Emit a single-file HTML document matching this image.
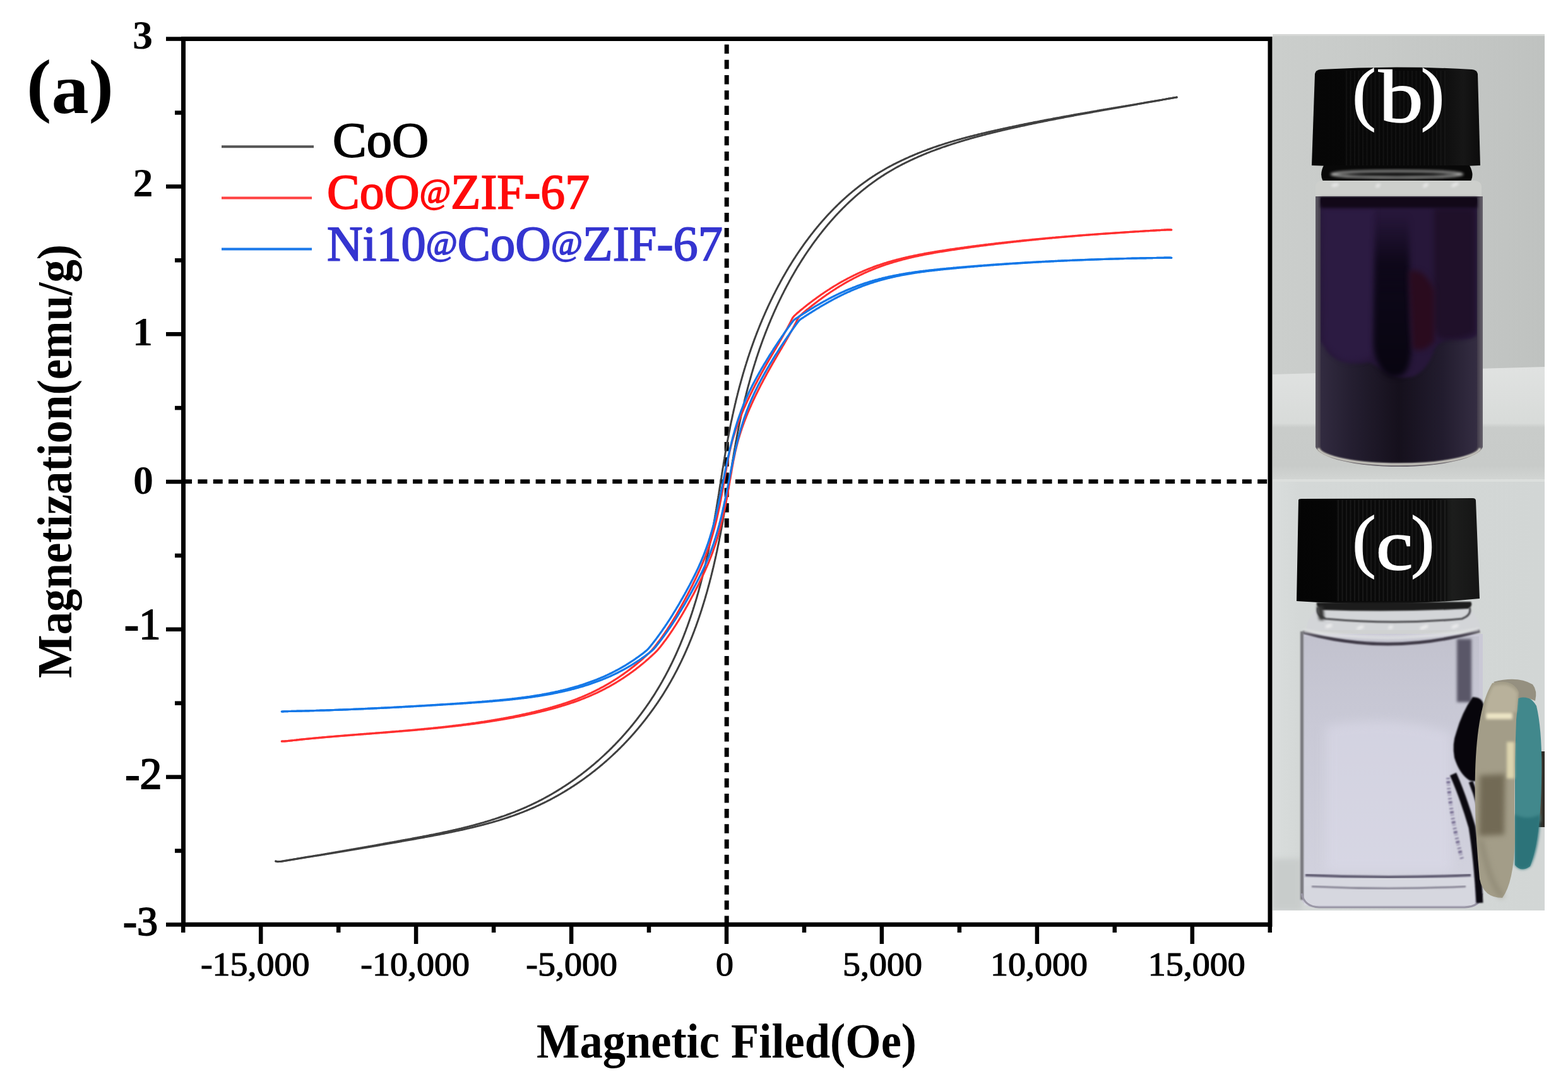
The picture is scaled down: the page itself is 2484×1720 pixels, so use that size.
<!DOCTYPE html>
<html><head><meta charset="utf-8"><title>Magnetization</title>
<style>html,body{margin:0;padding:0;background:#fff;}svg{display:block}</style></head>
<body><svg xmlns="http://www.w3.org/2000/svg" width="2484" height="1720" viewBox="0 0 2484 1720">
<rect width="2484" height="1720" fill="#fff"/>
<defs>
 <linearGradient id="bgB" x1="0" y1="0" x2="1" y2="0">
  <stop offset="0" stop-color="#cbcecc"/><stop offset="0.5" stop-color="#c6c9c7"/><stop offset="1" stop-color="#bfc2c0"/>
 </linearGradient>
 <linearGradient id="tableB" x1="0" y1="0" x2="0" y2="1">
  <stop offset="0" stop-color="#e0e2e1"/><stop offset="0.5" stop-color="#d8dbd9"/><stop offset="0.54" stop-color="#c9ccca"/><stop offset="0.88" stop-color="#c8cbc9"/><stop offset="1" stop-color="#d2d5d3"/>
 </linearGradient>
 <linearGradient id="capG" x1="0" y1="0" x2="1" y2="0">
  <stop offset="0" stop-color="#060606"/><stop offset="0.7" stop-color="#080808"/><stop offset="0.9" stop-color="#161616"/><stop offset="1" stop-color="#0c0c0c"/>
 </linearGradient>
 <linearGradient id="capC" x1="0" y1="0" x2="1" y2="0">
  <stop offset="0" stop-color="#040404"/><stop offset="0.75" stop-color="#0a0a0a"/><stop offset="0.85" stop-color="#1c1d1c"/><stop offset="1" stop-color="#151515"/>
 </linearGradient>
 <linearGradient id="colG" x1="0" y1="0" x2="0" y2="1">
  <stop offset="0" stop-color="#0a0514" stop-opacity="0"/><stop offset="0.3" stop-color="#0a0514" stop-opacity="0.85"/><stop offset="0.5" stop-color="#0c0717" stop-opacity="1"/><stop offset="1" stop-color="#080510" stop-opacity="1"/>
 </linearGradient>
 <linearGradient id="liqLow" x1="0" y1="0" x2="1" y2="0">
  <stop offset="0" stop-color="#322b40"/><stop offset="0.2" stop-color="#241e30"/><stop offset="0.5" stop-color="#15101c"/><stop offset="0.78" stop-color="#221c2e"/><stop offset="1" stop-color="#342d42"/>
 </linearGradient>
 <linearGradient id="liqB" x1="0" y1="0" x2="0" y2="1">
  <stop offset="0" stop-color="#2a1b3e"/><stop offset="0.5" stop-color="#2a1b3d"/><stop offset="0.62" stop-color="#302840"/><stop offset="1" stop-color="#322a3e"/>
 </linearGradient>
 <linearGradient id="glassB" x1="0" y1="0" x2="1" y2="0">
  <stop offset="0" stop-color="#5d5963"/><stop offset="0.04" stop-color="#3a3343"/><stop offset="0.96" stop-color="#3a3343"/><stop offset="1" stop-color="#66626b"/>
 </linearGradient>
 <linearGradient id="bgC" x1="0" y1="0" x2="1" y2="0">
  <stop offset="0" stop-color="#d9dddc"/><stop offset="0.1" stop-color="#d4d8d7"/><stop offset="1" stop-color="#d2d6d5"/>
 </linearGradient>
 <linearGradient id="liqC" x1="0" y1="0" x2="0" y2="1">
  <stop offset="0" stop-color="#c2c2ce"/><stop offset="0.35" stop-color="#c9c9d6"/><stop offset="1" stop-color="#d2d2de"/>
 </linearGradient>
 <linearGradient id="magG" x1="0" y1="0" x2="1" y2="0">
  <stop offset="0" stop-color="#8e8870"/><stop offset="0.25" stop-color="#a8a187"/><stop offset="0.55" stop-color="#b3ab8e"/><stop offset="0.8" stop-color="#8d866d"/><stop offset="1" stop-color="#6f6a58"/>
 </linearGradient>
 <linearGradient id="magH" x1="0" y1="0" x2="0" y2="1">
  <stop offset="0" stop-color="#9c9680"/><stop offset="0.15" stop-color="#cfc7a6"/><stop offset="0.3" stop-color="#aaa388"/><stop offset="0.7" stop-color="#9a937a"/><stop offset="1" stop-color="#857e68"/>
 </linearGradient>
 <pattern id="ribs" x="0" y="0" width="6.5" height="20" patternUnits="userSpaceOnUse">
  <rect width="6.5" height="20" fill="#0b0b0b"/><rect x="0" width="2" height="20" fill="#262626"/>
 </pattern>
 <filter id="bl1" x="-50%" y="-50%" width="200%" height="200%" color-interpolation-filters="sRGB"><feGaussianBlur stdDeviation="1"/></filter>
 <filter id="bl2" x="-50%" y="-50%" width="200%" height="200%" color-interpolation-filters="sRGB"><feGaussianBlur stdDeviation="2"/></filter>
 <filter id="bl4" x="-50%" y="-50%" width="200%" height="200%" color-interpolation-filters="sRGB"><feGaussianBlur stdDeviation="4"/></filter>
 <filter id="bl8" x="-50%" y="-50%" width="200%" height="200%" color-interpolation-filters="sRGB"><feGaussianBlur stdDeviation="8"/></filter>
 <clipPath id="clipB"><rect x="2016" y="54" width="431" height="705"/></clipPath>
 <clipPath id="clipC"><rect x="2016" y="759" width="431" height="683"/></clipPath>
 <clipPath id="liqBclip"><path d="M2092,313 L2340,313 L2340,706 A124,29 0 0 1 2092,706 Z"/></clipPath>
 <clipPath id="liqCclip"><path d="M2066,1008 L2343,1008 L2343,1400 L2066,1400 Z"/></clipPath>
</defs>

<!-- ===== photo (b) ===== -->
<g clip-path="url(#clipB)">
 <rect x="2016" y="54" width="431" height="705" fill="url(#bgB)"/>
 <rect x="2016" y="54" width="431" height="3" fill="#d6d8d6"/>
 <path d="M2016,593 L2447,581 L2447,759 L2016,759 Z" fill="url(#tableB)"/>
 <!-- cap -->
 <path d="M2083,117 Q2084,111 2092,110 Q2212,103 2332,110 Q2340,111 2341,117 L2345,262 Q2212,268 2078,262 Z" fill="url(#capG)"/>
 <rect x="2130" y="112" width="160" height="150" fill="url(#ribs)" opacity="0.35"/>
 <!-- neck -->
 <path d="M2097,262 L2328,262 Q2338,280 2326,292 L2100,292 Q2088,280 2097,262 Z" fill="#080808"/>
 <ellipse cx="2213" cy="276" rx="104" ry="5" fill="none" stroke="#b8b9b7" stroke-width="3" filter="url(#bl2)"/>
 <path d="M2084,296 Q2084,287 2094,286 L2336,286 Q2347,287 2347,296 L2347,313 L2084,313 Z" fill="#cdcfcc"/>
 <path d="M2110,294 L2120,292 M2180,296 L2186,292 M2255,296 L2262,291 M2300,295 L2310,290" stroke="#eeeeee" stroke-width="4" filter="url(#bl2)"/>
 <!-- vial body -->
 <path d="M2084,311 L2349,311 L2349,708 A133,34 0 0 1 2084,708 Z" fill="url(#glassB)"/>
 <g clip-path="url(#liqBclip)">
  <rect x="2092" y="313" width="248" height="420" fill="url(#liqLow)"/>
  <path d="M2092,313 L2340,313 L2340,530 Q2332,540 2300,537 Q2280,538 2272,555 Q2262,585 2240,596 Q2215,602 2195,590 Q2180,578 2170,574 Q2150,578 2125,572 Q2105,565 2098,548 L2092,540 Z" fill="#27173a" filter="url(#bl2)"/>
  <path d="M2094,330 L2178,330 L2176,560 Q2160,575 2130,572 Q2105,560 2096,540 Z" fill="#2c1b42" filter="url(#bl4)"/>
  <path d="M2272,330 L2336,330 L2336,528 Q2310,540 2280,536 L2272,520 Z" fill="#1f1029" filter="url(#bl4)"/>
  <path d="M2179,340 L2232,340 L2234,520 Q2240,580 2222,594 Q2205,602 2192,590 Q2176,570 2176,540 Z" fill="url(#colG)" filter="url(#bl4)"/>
  <path d="M2232,430 Q2255,422 2272,460 L2272,540 Q2256,560 2238,552 Z" fill="#2a0b1e" filter="url(#bl4)"/>
  <rect x="2092" y="311" width="248" height="12" fill="#0c0612" filter="url(#bl2)"/>
  <line x1="2119" y1="330" x2="2119" y2="480" stroke="#3c2e4c" stroke-width="6" filter="url(#bl4)"/>
  <line x1="2180" y1="320" x2="2180" y2="420" stroke="#4a3c58" stroke-width="2" filter="url(#bl2)"/>
  <line x1="2238.5" y1="318" x2="2238.5" y2="365" stroke="#4a3c58" stroke-width="2" filter="url(#bl2)"/>
 </g>
  <rect x="2092" y="313" width="248" height="16" fill="#120818" filter="url(#bl2)"/>
  <line x1="2180.5" y1="318" x2="2180.5" y2="430" stroke="#4a3c58" stroke-width="2" filter="url(#bl2)"/>
  <line x1="2238.5" y1="318" x2="2238.5" y2="365" stroke="#4a3c58" stroke-width="2" filter="url(#bl2)"/>
  <line x1="2122" y1="330" x2="2122" y2="520" stroke="#3a2e48" stroke-width="5" filter="url(#bl4)"/>
 </g>
 <path d="M2088,710 A129,28 0 0 0 2345,710" fill="none" stroke="#cfcec4" stroke-width="4" filter="url(#bl1)"/>
 <g font-family="Liberation Serif, serif" fill="#fff" stroke="#fff" stroke-width="1.6"><text x="2142.5" y="184.5" font-size="111">(</text><text transform="translate(2184,193.3) scale(1.19,1)" font-size="119">b</text><text x="2251" y="184.5" font-size="111">)</text></g>
</g>

<!-- ===== photo (c) ===== -->
<g clip-path="url(#clipC)">
 <rect x="2016" y="759" width="431" height="683" fill="url(#bgC)"/>
 <rect x="2016" y="759" width="431" height="4" fill="#dcdfdd"/>
 <path d="M2016,1360 L2062,1360 L2062,1442 L2016,1442 Z" fill="#c8cccb" filter="url(#bl4)"/>
 <!-- cap -->
 <path d="M2057,792 Q2057,790 2062,790 L2333,789 Q2338,789 2338,793 L2344,948 Q2200,962 2054,952 Z" fill="url(#capC)"/>
 <rect x="2117" y="792" width="176" height="160" fill="url(#ribs)" opacity="0.55"/>
 <!-- neck -->
 <path d="M2070,1004 Q2068,975 2092,962 L2318,960 Q2346,972 2345,1004 Z" fill="#d3d5d8"/>
 <path d="M2086,954 L2330,953 Q2334,959 2326,964 Q2210,970 2094,966 Q2084,960 2086,954 Z" fill="#1c1c1c" filter="url(#bl1)"/>
 <path d="M2088,962 Q2084,974 2100,980 Q2210,990 2316,980 Q2332,974 2328,962" fill="none" stroke="#4a4a4e" stroke-width="3" filter="url(#bl1)"/>
 <path d="M2100,993 L2110,990 M2150,996 L2160,992 M2200,995 L2206,992 M2250,996 L2262,991 M2300,994 L2310,990" stroke="#f4f4f4" stroke-width="4" filter="url(#bl2)"/>
 <path d="M2086,960 L2096,960 L2098,982 L2090,982 Z" fill="#333" filter="url(#bl2)"/>
 <!-- vial body -->
 <path d="M2060,1004 L2349,1004 L2349,1415 Q2349,1437 2325,1437 L2084,1437 Q2060,1437 2060,1415 Z" fill="#cac9d6"/>
 <rect x="2066" y="1008" width="277" height="395" fill="url(#liqC)"/>
 <path d="M2100,1150 Q2200,1130 2300,1160 L2300,1380 L2100,1380 Z" fill="#dcdbea" opacity="0.55" filter="url(#bl8)"/>
 <path d="M2064,1004 L2346,1004 L2346,998 L2064,998 Z" fill="#d0d2d2"/>
 <path d="M2064,1001 Q2200,1040 2344,999" fill="none" stroke="#3e3946" stroke-width="5" filter="url(#bl1)"/>
 <path d="M2064,999 Q2200,1022 2344,997" fill="none" stroke="#e4e6e6" stroke-width="4" filter="url(#bl2)"/>
 <rect x="2308" y="1012" width="23" height="100" fill="#5a5768" filter="url(#bl2)"/>
 <rect x="2060" y="1000" width="5" height="425" fill="#77777b" filter="url(#bl1)"/>
 <rect x="2066" y="1390" width="270" height="44" fill="#d8d9e0" opacity="0.85"/>
 <path d="M2068,1386 Q2200,1392 2330,1386" fill="none" stroke="#58546a" stroke-width="4" filter="url(#bl1)"/>
 <path d="M2078,1404 Q2200,1410 2322,1404" fill="none" stroke="#7a7788" stroke-width="2.5" filter="url(#bl1)"/>
 <path d="M2062,1415 Q2066,1436 2090,1437 L2320,1437 Q2346,1436 2348,1415" fill="none" stroke="#9a97a6" stroke-width="3"/>
 <!-- particles -->
 <path d="M2333,1104 Q2347,1104 2350,1115 L2350,1232 Q2340,1240 2328,1236 Q2312,1226 2304,1200 Q2300,1178 2307,1160 Q2316,1128 2333,1104 Z" fill="#07050b" filter="url(#bl1)"/>
 <path d="M2302,1226 Q2318,1262 2332,1310 Q2340,1360 2344,1430" fill="none" stroke="#0b0910" stroke-width="11" filter="url(#bl1)"/>
 <path d="M2330,1238 Q2343,1270 2348,1300" fill="none" stroke="#0b0910" stroke-width="7" filter="url(#bl1)"/>
 <path d="M2294,1232 Q2298,1295 2316,1360" fill="none" stroke="#5b4f7a" stroke-width="6" stroke-dasharray="2 3 4 2 1 4" opacity="0.75" filter="url(#bl1)"/>
 <!-- magnet -->
 <path d="M2418,1190 L2447,1190 L2447,1310 L2418,1310 Z" fill="#2e2c27"/>
 <path d="M2428,1198 L2428,1302 M2439,1198 L2439,1302" stroke="#8a8878" stroke-width="3" filter="url(#bl2)"/>
 <path d="M2400,1104 Q2422,1098 2434,1118 Q2444,1160 2442,1240 Q2440,1330 2424,1372 Q2410,1382 2400,1370 Z" fill="#41888c"/>
 <path d="M2400,1290 Q2420,1300 2440,1290 Q2438,1345 2424,1372 Q2410,1382 2400,1370 Z" fill="#2c7379" filter="url(#bl2)"/>
 <path d="M2366,1080 Q2404,1070 2428,1084 Q2436,1094 2432,1110 Q2412,1100 2402,1108 Z" fill="#959080"/>
 <path d="M2364,1082 Q2396,1074 2406,1096 Q2404,1120 2402,1140 Q2398,1250 2400,1330 Q2398,1398 2380,1422 Q2350,1422 2344,1392 Q2335,1300 2337,1222 Q2340,1120 2364,1082 Z" fill="#a39d88"/>
 <path d="M2366,1086 Q2394,1080 2404,1098 L2402,1128 L2352,1128 Q2356,1100 2366,1086 Z" fill="#b8b19b" filter="url(#bl2)"/>
 <path d="M2344,1228 L2384,1226 L2383,1322 L2343,1324 Z" fill="#726a55" filter="url(#bl4)"/>
 <rect x="2354" y="1129" width="42" height="10" fill="#ece4c4" filter="url(#bl2)"/>
 <rect x="2387" y="1175" width="12" height="58" fill="#dcd4ae" filter="url(#bl2)"/>
 <path d="M2346,1330 Q2360,1400 2380,1420" fill="none" stroke="#8d8773" stroke-width="6" filter="url(#bl4)"/>
 <g font-family="Liberation Serif, serif" fill="#fff" stroke="#fff" stroke-width="1.6"><text x="2142.5" y="892.5" font-size="111">(</text><text transform="translate(2179.7,902) scale(1.16,1)" font-size="114">c</text><text x="2235.2" y="892.5" font-size="111">)</text></g>
</g>

<line x1="290.5" y1="762.6" x2="2012.0" y2="762.6" stroke="#000" stroke-width="6.8" stroke-dasharray="15 9.33" stroke-dashoffset="1.43"/>
<line x1="1151.2" y1="61.5" x2="1151.2" y2="1464.3" stroke="#000" stroke-width="7" stroke-dasharray="14.5 9.71" stroke-dashoffset="-9.10"/>
<path d="M436.8,1364.0 L439.1,1364.6 L440.2,1364.7 L441.4,1364.6 L442.8,1364.5 L444.2,1364.4 L445.7,1364.2 L447.1,1364.0 L448.6,1363.7 L450.1,1363.5 L451.6,1363.2 L453.0,1363.0 L454.5,1362.7 L456.0,1362.5 L457.5,1362.2 L458.9,1362.0 L460.4,1361.8 L461.9,1361.5 L463.3,1361.3 L464.8,1361.0 L466.3,1360.8 L467.7,1360.5 L469.2,1360.3 L470.7,1360.0 L472.1,1359.8 L473.6,1359.6 L475.1,1359.3 L476.5,1359.1 L478.0,1358.8 L479.5,1358.6 L480.9,1358.3 L482.4,1358.1 L483.8,1357.8 L485.3,1357.6 L486.7,1357.3 L488.2,1357.1 L489.7,1356.9 L491.1,1356.6 L492.6,1356.4 L494.0,1356.1 L495.5,1355.9 L496.9,1355.6 L498.4,1355.4 L499.8,1355.1 L501.3,1354.9 L502.7,1354.7 L504.2,1354.4 L505.6,1354.2 L507.1,1353.9 L508.5,1353.7 L510.0,1353.4 L511.4,1353.2 L512.9,1352.9 L514.3,1352.7 L515.7,1352.4 L517.2,1352.2 L518.6,1351.9 L520.1,1351.7 L521.5,1351.5 L523.0,1351.2 L524.4,1351.0 L525.9,1350.7 L527.3,1350.5 L528.7,1350.2 L530.2,1350.0 L531.6,1349.7 L533.1,1349.5 L534.5,1349.2 L535.9,1349.0 L537.4,1348.7 L538.8,1348.5 L540.3,1348.2 L541.7,1348.0 L543.1,1347.7 L544.6,1347.5 L546.0,1347.2 L547.5,1347.0 L548.9,1346.7 L550.3,1346.5 L551.8,1346.2 L553.2,1346.0 L554.6,1345.7 L556.1,1345.5 L557.5,1345.2 L559.0,1345.0 L560.4,1344.7 L561.8,1344.5 L563.3,1344.2 L564.7,1344.0 L566.1,1343.7 L567.6,1343.5 L569.0,1343.2 L570.5,1343.0 L571.9,1342.7 L573.3,1342.5 L574.8,1342.2 L576.2,1342.0 L577.6,1341.7 L579.1,1341.5 L580.5,1341.2 L582.0,1341.0 L583.4,1340.7 L584.8,1340.4 L586.3,1340.2 L587.7,1339.9 L589.1,1339.7 L590.6,1339.4 L592.0,1339.2 L593.5,1338.9 L594.9,1338.7 L596.3,1338.4 L597.8,1338.1 L599.2,1337.9 L600.6,1337.6 L602.1,1337.4 L603.5,1337.1 L605.0,1336.9 L606.4,1336.6 L607.8,1336.3 L609.3,1336.1 L610.7,1335.8 L612.2,1335.6 L613.6,1335.3 L615.1,1335.0 L616.5,1334.8 L617.9,1334.5 L619.4,1334.2 L620.8,1334.0 L622.3,1333.7 L623.7,1333.5 L625.2,1333.2 L626.6,1332.9 L628.1,1332.7 L629.5,1332.4 L630.9,1332.1 L632.4,1331.9 L633.8,1331.6 L635.3,1331.3 L636.7,1331.1 L638.2,1330.8 L639.6,1330.5 L641.1,1330.3 L642.5,1330.0 L644.0,1329.7 L645.4,1329.5 L646.9,1329.2 L648.4,1328.9 L649.8,1328.7 L651.3,1328.4 L652.7,1328.1 L654.2,1327.8 L655.6,1327.6 L657.1,1327.3 L658.5,1327.0 L660.0,1326.8 L661.5,1326.5 L662.9,1326.2 L664.4,1325.9 L665.8,1325.6 L667.3,1325.4 L668.7,1325.1 L670.2,1324.8 L671.7,1324.5 L673.1,1324.2 L674.6,1324.0 L676.0,1323.7 L677.5,1323.4 L679.0,1323.1 L680.4,1322.8 L681.9,1322.5 L683.3,1322.2 L684.8,1321.9 L686.3,1321.7 L687.7,1321.4 L689.2,1321.1 L690.6,1320.8 L692.1,1320.5 L693.6,1320.2 L695.0,1319.9 L696.5,1319.6 L697.9,1319.3 L699.4,1319.0 L700.9,1318.6 L702.3,1318.3 L703.8,1318.0 L705.2,1317.7 L706.7,1317.4 L708.2,1317.1 L709.6,1316.8 L711.1,1316.4 L712.5,1316.1 L714.0,1315.8 L715.4,1315.5 L716.9,1315.1 L718.4,1314.8 L719.8,1314.5 L721.3,1314.2 L722.7,1313.8 L724.2,1313.5 L725.6,1313.1 L727.1,1312.8 L728.5,1312.4 L730.0,1312.1 L731.4,1311.7 L732.9,1311.4 L734.3,1311.0 L735.8,1310.7 L737.2,1310.3 L738.7,1310.0 L740.1,1309.6 L741.5,1309.2 L743.0,1308.9 L744.4,1308.5 L745.9,1308.1 L747.3,1307.7 L748.8,1307.4 L750.2,1307.0 L751.6,1306.6 L753.1,1306.2 L754.5,1305.8 L755.9,1305.4 L757.4,1305.0 L758.8,1304.6 L760.2,1304.2 L761.7,1303.8 L763.1,1303.4 L764.5,1303.0 L765.9,1302.6 L767.4,1302.1 L768.8,1301.7 L770.2,1301.3 L771.6,1300.9 L773.1,1300.4 L774.5,1300.0 L775.9,1299.6 L777.3,1299.1 L778.7,1298.7 L780.1,1298.2 L781.6,1297.8 L783.0,1297.3 L784.4,1296.9 L785.9,1296.4 L787.3,1295.9 L788.7,1295.5 L790.2,1295.0 L791.6,1294.5 L793.0,1294.0 L794.5,1293.5 L795.9,1293.0 L797.3,1292.6 L798.7,1292.1 L800.1,1291.6 L801.6,1291.1 L803.0,1290.5 L804.4,1290.0 L805.8,1289.5 L807.2,1289.0 L808.6,1288.5 L810.0,1287.9 L811.4,1287.4 L812.8,1286.9 L814.2,1286.3 L815.6,1285.8 L817.0,1285.2 L818.4,1284.7 L819.8,1284.1 L821.2,1283.5 L822.6,1283.0 L823.9,1282.4 L825.3,1281.8 L826.7,1281.2 L828.1,1280.7 L829.4,1280.1 L830.8,1279.5 L832.2,1278.9 L833.6,1278.3 L834.9,1277.7 L836.3,1277.0 L837.6,1276.4 L839.0,1275.8 L840.4,1275.2 L841.7,1274.5 L843.1,1273.9 L844.4,1273.2 L845.8,1272.6 L847.1,1271.9 L848.4,1271.3 L849.8,1270.6 L851.1,1270.0 L852.5,1269.3 L853.8,1268.6 L855.1,1267.9 L856.4,1267.3 L857.8,1266.6 L859.1,1265.9 L860.4,1265.2 L861.7,1264.5 L863.0,1263.8 L864.3,1263.1 L865.7,1262.3 L867.0,1261.6 L868.3,1260.9 L869.6,1260.2 L870.9,1259.4 L872.2,1258.7 L873.5,1258.0 L874.7,1257.2 L876.0,1256.5 L877.3,1255.7 L878.6,1254.9 L879.9,1254.2 L881.2,1253.4 L882.4,1252.6 L883.7,1251.9 L885.0,1251.1 L886.2,1250.3 L887.5,1249.5 L888.8,1248.7 L890.0,1247.9 L891.3,1247.1 L892.5,1246.3 L893.8,1245.5 L895.0,1244.7 L896.3,1243.9 L897.5,1243.1 L898.8,1242.2 L900.0,1241.4 L901.2,1240.6 L902.5,1239.7 L903.7,1238.9 L904.9,1238.0 L906.2,1237.2 L907.4,1236.3 L908.6,1235.5 L909.8,1234.6 L911.0,1233.7 L912.2,1232.9 L913.4,1232.0 L914.6,1231.1 L915.8,1230.2 L917.0,1229.3 L918.2,1228.5 L919.4,1227.6 L920.6,1226.7 L921.8,1225.8 L923.0,1224.9 L924.2,1223.9 L925.3,1223.0 L926.5,1222.1 L927.7,1221.2 L928.9,1220.3 L930.0,1219.3 L931.2,1218.4 L932.4,1217.5 L933.5,1216.5 L934.7,1215.6 L935.8,1214.6 L937.0,1213.7 L938.1,1212.7 L939.3,1211.8 L940.4,1210.8 L941.5,1209.9 L942.7,1208.9 L943.8,1207.9 L944.9,1206.9 L946.0,1206.0 L947.2,1205.0 L948.3,1204.0 L949.4,1203.0 L950.5,1202.0 L951.6,1201.0 L952.7,1200.0 L953.8,1199.0 L954.9,1198.0 L956.0,1197.0 L957.1,1196.0 L958.2,1194.9 L959.3,1193.9 L960.4,1192.9 L961.4,1191.9 L962.5,1190.8 L963.6,1189.8 L964.7,1188.8 L965.7,1187.7 L966.8,1186.7 L967.9,1185.6 L968.9,1184.6 L970.0,1183.5 L971.0,1182.4 L972.1,1181.4 L973.1,1180.3 L974.2,1179.3 L975.2,1178.2 L976.2,1177.1 L977.3,1176.0 L978.3,1174.9 L979.3,1173.9 L980.3,1172.8 L981.4,1171.7 L982.4,1170.6 L983.4,1169.5 L984.4,1168.4 L985.4,1167.3 L986.4,1166.2 L987.4,1165.1 L988.4,1163.9 L989.4,1162.8 L990.4,1161.7 L991.4,1160.6 L992.3,1159.5 L993.3,1158.3 L994.3,1157.2 L995.3,1156.1 L996.2,1154.9 L997.2,1153.8 L998.2,1152.6 L999.1,1151.5 L1000.1,1150.3 L1001.0,1149.2 L1002.0,1148.0 L1002.9,1146.9 L1003.8,1145.7 L1004.8,1144.6 L1005.7,1143.4 L1006.6,1142.2 L1007.6,1141.0 L1008.5,1139.9 L1009.4,1138.7 L1010.3,1137.5 L1011.2,1136.3 L1012.1,1135.1 L1013.0,1133.9 L1013.9,1132.8 L1014.8,1131.6 L1015.7,1130.4 L1016.6,1129.2 L1017.5,1128.0 L1018.4,1126.7 L1019.3,1125.5 L1020.1,1124.3 L1021.0,1123.1 L1021.9,1121.9 L1022.8,1120.7 L1023.6,1119.5 L1024.5,1118.2 L1025.3,1117.0 L1026.2,1115.8 L1027.0,1114.5 L1027.9,1113.3 L1028.7,1112.1 L1029.5,1110.8 L1030.4,1109.6 L1031.2,1108.3 L1032.0,1107.1 L1032.8,1105.8 L1033.6,1104.6 L1034.5,1103.3 L1035.3,1102.1 L1036.1,1100.8 L1036.9,1099.6 L1037.7,1098.3 L1038.5,1097.0 L1039.2,1095.8 L1040.0,1094.5 L1040.8,1093.2 L1041.6,1091.9 L1042.4,1090.7 L1043.1,1089.4 L1043.9,1088.1 L1044.7,1086.8 L1045.4,1085.5 L1046.2,1084.2 L1046.9,1082.9 L1047.7,1081.6 L1048.4,1080.4 L1049.1,1079.1 L1049.9,1077.8 L1050.6,1076.4 L1051.3,1075.1 L1052.1,1073.8 L1052.8,1072.5 L1053.5,1071.2 L1054.2,1069.9 L1054.9,1068.6 L1055.6,1067.3 L1056.3,1065.9 L1057.0,1064.6 L1057.7,1063.3 L1058.4,1062.0 L1059.1,1060.6 L1059.8,1059.3 L1060.4,1058.0 L1061.1,1056.6 L1061.8,1055.3 L1062.4,1054.0 L1063.1,1052.6 L1063.8,1051.3 L1064.4,1049.9 L1065.1,1048.6 L1065.7,1047.2 L1066.4,1045.9 L1067.0,1044.5 L1067.6,1043.2 L1068.3,1041.8 L1068.9,1040.5 L1069.5,1039.1 L1070.2,1037.8 L1070.8,1036.4 L1071.4,1035.0 L1072.0,1033.7 L1072.6,1032.3 L1073.2,1030.9 L1073.8,1029.6 L1074.4,1028.2 L1075.0,1026.8 L1075.6,1025.4 L1076.2,1024.1 L1076.8,1022.7 L1077.4,1021.3 L1078.0,1019.9 L1078.5,1018.5 L1079.1,1017.1 L1079.7,1015.7 L1080.2,1014.4 L1080.8,1013.0 L1081.4,1011.6 L1081.9,1010.2 L1082.5,1008.8 L1083.0,1007.4 L1083.6,1006.0 L1084.1,1004.6 L1084.7,1003.2 L1085.2,1001.8 L1085.7,1000.4 L1086.3,999.0 L1086.8,997.6 L1087.3,996.1 L1087.8,994.7 L1088.4,993.3 L1088.9,991.9 L1089.4,990.5 L1089.9,989.1 L1090.4,987.7 L1090.9,986.2 L1091.4,984.8 L1091.9,983.4 L1092.4,982.0 L1092.9,980.5 L1093.4,979.1 L1093.9,977.7 L1094.4,976.3 L1094.8,974.8 L1095.3,973.4 L1095.8,972.0 L1096.3,970.5 L1096.7,969.1 L1097.2,967.7 L1097.7,966.2 L1098.1,964.8 L1098.6,963.3 L1099.0,961.9 L1099.5,960.5 L1099.9,959.0 L1100.4,957.6 L1100.8,956.1 L1101.3,954.7 L1101.7,953.2 L1102.2,951.8 L1102.6,950.3 L1103.0,948.9 L1103.5,947.4 L1103.9,946.0 L1104.3,944.5 L1104.7,943.1 L1105.1,941.6 L1105.6,940.2 L1106.0,938.7 L1106.4,937.3 L1106.8,935.8 L1107.2,934.3 L1107.6,932.9 L1108.0,931.4 L1108.4,930.0 L1108.8,928.5 L1109.2,927.0 L1109.6,925.6 L1110.0,924.1 L1110.4,922.6 L1110.8,921.2 L1111.1,919.7 L1111.5,918.2 L1111.9,916.8 L1112.3,915.3 L1112.7,913.8 L1113.0,912.3 L1113.4,910.9 L1113.8,909.4 L1114.1,907.9 L1114.5,906.4 L1114.9,905.0 L1115.2,903.5 L1115.6,902.0 L1115.9,900.5 L1116.3,899.1 L1116.6,897.6 L1117.0,896.1 L1117.3,894.6 L1117.7,893.2 L1118.0,891.7 L1118.3,890.2 L1118.7,888.7 L1119.0,887.2 L1119.4,885.7 L1119.7,884.3 L1120.0,882.8 L1120.3,881.3 L1120.7,879.8 L1121.0,878.3 L1121.3,876.8 L1121.6,875.4 L1122.0,873.9 L1122.3,872.4 L1122.6,870.9 L1122.9,869.4 L1123.2,867.9 L1123.5,866.4 L1123.8,865.0 L1124.1,863.5 L1124.5,862.0 L1124.8,860.5 L1125.1,859.0 L1125.4,857.5 L1125.7,856.0 L1125.9,854.5 L1126.2,853.0 L1126.5,851.5 L1126.8,850.1 L1127.1,848.6 L1127.4,847.1 L1127.7,845.6 L1128.0,844.1 L1128.3,842.6 L1128.5,841.1 L1128.8,839.6 L1129.1,838.1 L1129.4,836.6 L1129.6,835.2 L1129.9,833.7 L1130.2,832.2 L1130.5,830.7 L1130.7,829.2 L1131.0,827.7 L1131.3,826.2 L1131.5,824.7 L1131.8,823.2 L1132.1,821.7 L1132.3,820.2 L1132.6,818.8 L1132.8,817.3 L1133.1,815.8 L1133.4,814.3 L1133.6,812.8 L1133.9,811.3 L1134.1,809.8 L1134.4,808.3 L1134.6,806.8 L1134.9,805.3 L1135.1,803.8 L1135.4,802.4 L1135.6,800.9 L1135.9,799.4 L1136.1,797.9 L1136.4,796.4 L1136.6,794.9 L1136.8,793.4 L1137.1,791.9 L1137.3,790.4 L1137.6,789.0 L1137.8,787.5 L1138.0,786.0 L1138.3,784.5 L1138.5,783.0 L1138.8,781.5 L1139.0,780.0 L1139.2,778.5 L1139.5,777.1 L1139.7,775.6 L1139.9,774.1 L1140.2,772.6 L1140.4,771.1 L1140.6,769.6 L1140.9,768.1 L1141.1,766.7 L1141.4,765.2 L1141.6,763.7 L1141.8,762.2 L1142.1,760.7 L1142.3,759.2 L1142.5,757.8 L1142.8,756.3 L1143.0,754.8 L1143.2,753.3 L1143.5,751.8 L1143.7,750.3 L1143.9,748.9 L1144.2,747.4 L1144.4,745.9 L1144.7,744.4 L1144.9,742.9 L1145.1,741.5 L1145.4,740.0 L1145.6,738.5 L1145.9,737.0 L1146.1,735.5 L1146.3,734.1 L1146.6,732.6 L1146.8,731.1 L1147.1,729.6 L1147.3,728.1 L1147.6,726.7 L1147.8,725.2 L1148.0,723.7 L1148.3,722.2 L1148.5,720.8 L1148.8,719.3 L1149.0,717.8 L1149.3,716.3 L1149.6,714.9 L1149.8,713.4 L1150.1,711.9 L1150.3,710.4 L1150.6,709.0 L1150.8,707.5 L1151.1,706.0 L1151.4,704.5 L1151.6,703.1 L1151.9,701.6 L1152.2,700.1 L1152.4,698.7 L1152.7,697.2 L1153.0,695.7 L1153.2,694.3 L1153.5,692.8 L1153.8,691.3 L1154.1,689.9 L1154.4,688.4 L1154.6,686.9 L1154.9,685.5 L1155.2,684.0 L1155.5,682.5 L1155.8,681.1 L1156.1,679.6 L1156.4,678.1 L1156.6,676.7 L1156.9,675.2 L1157.2,673.7 L1157.5,672.3 L1157.8,670.8 L1158.1,669.4 L1158.4,667.9 L1158.7,666.4 L1159.1,665.0 L1159.4,663.5 L1159.7,662.1 L1160.0,660.6 L1160.3,659.1 L1160.6,657.7 L1160.9,656.2 L1161.3,654.8 L1161.6,653.3 L1161.9,651.9 L1162.2,650.4 L1162.6,649.0 L1162.9,647.5 L1163.2,646.0 L1163.6,644.6 L1163.9,643.1 L1164.2,641.7 L1164.6,640.2 L1164.9,638.8 L1165.3,637.3 L1165.6,635.9 L1165.9,634.4 L1166.3,633.0 L1166.6,631.6 L1167.0,630.1 L1167.4,628.7 L1167.7,627.2 L1168.1,625.8 L1168.4,624.3 L1168.8,622.9 L1169.2,621.4 L1169.5,620.0 L1169.9,618.6 L1170.3,617.1 L1170.7,615.7 L1171.0,614.2 L1171.4,612.8 L1171.8,611.4 L1172.2,609.9 L1172.6,608.5 L1173.0,607.1 L1173.4,605.6 L1173.8,604.2 L1174.2,602.7 L1174.6,601.3 L1175.0,599.9 L1175.4,598.4 L1175.8,597.0 L1176.2,595.6 L1176.6,594.2 L1177.0,592.7 L1177.4,591.3 L1177.8,589.9 L1178.3,588.4 L1178.7,587.0 L1179.1,585.6 L1179.5,584.2 L1180.0,582.7 L1180.4,581.3 L1180.8,579.9 L1181.3,578.5 L1181.7,577.1 L1182.2,575.6 L1182.6,574.2 L1183.1,572.8 L1183.5,571.4 L1184.0,570.0 L1184.4,568.5 L1184.9,567.1 L1185.3,565.7 L1185.8,564.3 L1186.3,562.9 L1186.7,561.5 L1187.2,560.1 L1187.7,558.6 L1188.2,557.2 L1188.7,555.8 L1189.1,554.4 L1189.6,553.0 L1190.1,551.6 L1190.6,550.2 L1191.1,548.8 L1191.6,547.4 L1192.1,546.0 L1192.6,544.6 L1193.1,543.2 L1193.6,541.8 L1194.1,540.4 L1194.6,539.0 L1195.1,537.6 L1195.7,536.2 L1196.2,534.8 L1196.7,533.4 L1197.2,532.0 L1197.8,530.6 L1198.3,529.2 L1198.8,527.8 L1199.4,526.4 L1199.9,525.0 L1200.5,523.6 L1201.0,522.2 L1201.6,520.8 L1202.1,519.5 L1202.7,518.1 L1203.2,516.7 L1203.8,515.3 L1204.4,513.9 L1204.9,512.5 L1205.5,511.2 L1206.1,509.8 L1206.7,508.4 L1207.2,507.0 L1207.8,505.6 L1208.4,504.3 L1209.0,502.9 L1209.6,501.5 L1210.2,500.1 L1210.8,498.8 L1211.4,497.4 L1212.0,496.0 L1212.6,494.6 L1213.2,493.3 L1213.8,491.9 L1214.4,490.5 L1215.1,489.2 L1215.7,487.8 L1216.3,486.4 L1216.9,485.1 L1217.6,483.7 L1218.2,482.4 L1218.8,481.0 L1219.5,479.6 L1220.1,478.3 L1220.8,476.9 L1221.4,475.6 L1222.1,474.2 L1222.8,472.9 L1223.4,471.5 L1224.1,470.1 L1224.7,468.8 L1225.4,467.4 L1226.1,466.1 L1226.8,464.8 L1227.5,463.4 L1228.1,462.1 L1228.8,460.7 L1229.5,459.4 L1230.2,458.0 L1230.9,456.7 L1231.6,455.4 L1232.3,454.0 L1233.0,452.7 L1233.7,451.4 L1234.5,450.0 L1235.2,448.7 L1235.9,447.4 L1236.6,446.0 L1237.3,444.7 L1238.1,443.4 L1238.8,442.1 L1239.5,440.7 L1240.3,439.4 L1241.0,438.1 L1241.8,436.8 L1242.5,435.5 L1243.3,434.2 L1244.0,432.9 L1244.8,431.5 L1245.6,430.2 L1246.3,428.9 L1247.1,427.6 L1247.9,426.3 L1248.6,425.0 L1249.4,423.7 L1250.2,422.4 L1251.0,421.2 L1251.8,419.9 L1252.6,418.6 L1253.4,417.3 L1254.2,416.0 L1255.0,414.7 L1255.8,413.4 L1256.6,412.2 L1257.4,410.9 L1258.2,409.6 L1259.1,408.3 L1259.9,407.1 L1260.7,405.8 L1261.5,404.5 L1262.4,403.3 L1263.2,402.0 L1264.0,400.8 L1264.9,399.5 L1265.7,398.3 L1266.6,397.0 L1267.4,395.8 L1268.3,394.5 L1269.2,393.3 L1270.0,392.1 L1270.9,390.8 L1271.8,389.6 L1272.6,388.4 L1273.5,387.1 L1274.4,385.9 L1275.3,384.7 L1276.2,383.5 L1277.1,382.2 L1278.0,381.0 L1278.9,379.8 L1279.8,378.6 L1280.7,377.4 L1281.6,376.2 L1282.5,375.0 L1283.4,373.8 L1284.3,372.6 L1285.2,371.4 L1286.2,370.2 L1287.1,369.1 L1288.0,367.9 L1289.0,366.7 L1289.9,365.5 L1290.8,364.3 L1291.8,363.2 L1292.7,362.0 L1293.7,360.9 L1294.6,359.7 L1295.6,358.5 L1296.6,357.4 L1297.5,356.2 L1298.5,355.1 L1299.5,354.0 L1300.4,352.8 L1301.4,351.7 L1302.4,350.6 L1303.4,349.4 L1304.4,348.3 L1305.4,347.2 L1306.4,346.1 L1307.4,344.9 L1308.4,343.8 L1309.4,342.7 L1310.4,341.6 L1311.4,340.5 L1312.4,339.4 L1313.5,338.3 L1314.5,337.3 L1315.5,336.2 L1316.5,335.1 L1317.6,334.0 L1318.6,332.9 L1319.7,331.9 L1320.7,330.8 L1321.7,329.8 L1322.8,328.7 L1323.9,327.6 L1324.9,326.6 L1326.0,325.6 L1327.0,324.5 L1328.1,323.5 L1329.2,322.4 L1330.3,321.4 L1331.3,320.4 L1332.4,319.4 L1333.5,318.4 L1334.6,317.3 L1335.7,316.3 L1336.8,315.3 L1337.9,314.3 L1339.0,313.3 L1340.1,312.4 L1341.2,311.4 L1342.3,310.4 L1343.5,309.4 L1344.6,308.4 L1345.7,307.5 L1346.8,306.5 L1348.0,305.6 L1349.1,304.6 L1350.3,303.6 L1351.4,302.7 L1352.5,301.8 L1353.7,300.8 L1354.8,299.9 L1356.0,299.0 L1357.2,298.1 L1358.3,297.1 L1359.5,296.2 L1360.7,295.3 L1361.8,294.4 L1363.0,293.5 L1364.2,292.6 L1365.4,291.7 L1366.6,290.9 L1367.8,290.0 L1369.0,289.1 L1370.2,288.2 L1371.4,287.4 L1372.6,286.5 L1373.8,285.7 L1375.0,284.8 L1376.2,284.0 L1377.5,283.1 L1378.7,282.3 L1379.9,281.5 L1381.1,280.7 L1382.4,279.8 L1383.6,279.0 L1384.9,278.2 L1386.1,277.4 L1387.4,276.6 L1388.6,275.8 L1389.9,275.1 L1391.1,274.3 L1392.4,273.5 L1393.7,272.7 L1394.9,272.0 L1396.2,271.2 L1397.5,270.5 L1398.8,269.7 L1400.1,269.0 L1401.4,268.2 L1402.6,267.5 L1403.9,266.8 L1405.2,266.0 L1406.5,265.3 L1407.8,264.6 L1409.1,263.9 L1410.5,263.2 L1411.8,262.5 L1413.1,261.8 L1414.4,261.1 L1415.7,260.4 L1417.1,259.7 L1418.4,259.1 L1419.7,258.4 L1421.0,257.7 L1422.4,257.1 L1423.7,256.4 L1425.1,255.8 L1426.4,255.1 L1427.8,254.5 L1429.1,253.8 L1430.5,253.2 L1431.8,252.6 L1433.2,251.9 L1434.5,251.3 L1435.9,250.7 L1437.3,250.1 L1438.6,249.5 L1440.0,248.8 L1441.4,248.2 L1442.8,247.6 L1444.1,247.1 L1445.5,246.5 L1446.9,245.9 L1448.3,245.3 L1449.7,244.7 L1451.1,244.1 L1452.4,243.6 L1453.8,243.0 L1455.2,242.4 L1456.6,241.9 L1458.0,241.3 L1459.4,240.8 L1460.8,240.2 L1462.3,239.7 L1463.7,239.1 L1465.1,238.6 L1466.5,238.1 L1467.9,237.6 L1469.3,237.0 L1470.7,236.5 L1472.2,236.0 L1473.6,235.5 L1475.0,235.0 L1476.4,234.5 L1477.8,233.9 L1479.3,233.4 L1480.7,232.9 L1482.1,232.5 L1483.6,232.0 L1485.0,231.5 L1486.4,231.0 L1487.9,230.5 L1489.3,230.0 L1490.8,229.6 L1492.2,229.1 L1493.7,228.6 L1495.1,228.1 L1496.5,227.7 L1498.0,227.2 L1499.4,226.8 L1500.9,226.3 L1502.3,225.9 L1503.8,225.4 L1505.3,225.0 L1506.7,224.5 L1508.2,224.1 L1509.6,223.6 L1511.1,223.2 L1512.6,222.8 L1514.1,222.4 L1515.6,221.9 L1517.1,221.5 L1518.6,221.1 L1520.1,220.7 L1521.6,220.3 L1523.1,219.8 L1524.6,219.4 L1526.1,219.0 L1527.6,218.6 L1529.1,218.2 L1530.6,217.8 L1532.1,217.4 L1533.6,217.0 L1535.1,216.6 L1536.6,216.2 L1538.1,215.8 L1539.6,215.5 L1541.1,215.1 L1542.6,214.7 L1544.1,214.3 L1545.6,213.9 L1547.1,213.6 L1548.6,213.2 L1550.1,212.8 L1551.6,212.4 L1553.1,212.1 L1554.6,211.7 L1556.1,211.3 L1557.6,211.0 L1559.2,210.6 L1560.7,210.3 L1562.2,209.9 L1563.7,209.5 L1565.2,209.2 L1566.7,208.8 L1568.2,208.5 L1569.7,208.1 L1571.2,207.8 L1572.7,207.5 L1574.2,207.1 L1575.8,206.8 L1577.3,206.4 L1578.8,206.1 L1580.3,205.8 L1581.8,205.4 L1583.3,205.1 L1584.8,204.8 L1586.3,204.4 L1587.8,204.1 L1589.3,203.8 L1590.8,203.4 L1592.3,203.1 L1593.8,202.8 L1595.3,202.5 L1596.8,202.1 L1598.4,201.8 L1599.9,201.5 L1601.4,201.2 L1602.9,200.9 L1604.4,200.5 L1605.9,200.2 L1607.4,199.9 L1608.9,199.6 L1610.4,199.3 L1611.9,199.0 L1613.4,198.7 L1614.9,198.3 L1616.4,198.0 L1617.9,197.7 L1619.4,197.4 L1620.9,197.1 L1622.4,196.8 L1623.9,196.5 L1625.4,196.2 L1626.9,195.9 L1628.3,195.6 L1629.8,195.3 L1631.3,195.0 L1632.8,194.7 L1634.3,194.4 L1635.8,194.1 L1637.3,193.8 L1638.8,193.5 L1640.3,193.2 L1641.8,192.9 L1643.3,192.7 L1644.8,192.4 L1646.3,192.1 L1647.8,191.8 L1649.3,191.5 L1650.8,191.2 L1652.3,190.9 L1653.7,190.6 L1655.2,190.3 L1656.7,190.1 L1658.2,189.8 L1659.7,189.5 L1661.2,189.2 L1662.7,188.9 L1664.2,188.7 L1665.7,188.4 L1667.2,188.1 L1668.7,187.8 L1670.1,187.5 L1671.6,187.3 L1673.1,187.0 L1674.6,186.7 L1676.1,186.4 L1677.6,186.2 L1679.1,185.9 L1680.6,185.6 L1682.1,185.3 L1683.6,185.1 L1685.1,184.8 L1686.5,184.5 L1688.0,184.3 L1689.5,184.0 L1691.0,183.7 L1692.5,183.5 L1694.0,183.2 L1695.5,182.9 L1697.0,182.6 L1698.5,182.4 L1700.0,182.1 L1701.4,181.8 L1702.9,181.6 L1704.4,181.3 L1705.9,181.1 L1707.4,180.8 L1708.9,180.5 L1710.4,180.3 L1711.9,180.0 L1713.4,179.7 L1714.9,179.5 L1716.4,179.2 L1717.8,179.0 L1719.3,178.7 L1720.8,178.4 L1722.3,178.2 L1723.8,177.9 L1725.3,177.7 L1726.8,177.4 L1728.3,177.1 L1729.8,176.9 L1731.3,176.6 L1732.8,176.4 L1734.3,176.1 L1735.8,175.9 L1737.3,175.6 L1738.7,175.3 L1740.2,175.1 L1741.7,174.8 L1743.2,174.6 L1744.7,174.3 L1746.2,174.1 L1747.7,173.8 L1749.2,173.5 L1750.7,173.3 L1752.2,173.0 L1753.7,172.8 L1755.2,172.5 L1756.7,172.3 L1758.2,172.0 L1759.7,171.8 L1761.2,171.5 L1762.7,171.3 L1764.2,171.0 L1765.7,170.7 L1767.2,170.5 L1768.7,170.2 L1770.2,170.0 L1771.7,169.7 L1773.2,169.5 L1774.7,169.2 L1776.2,169.0 L1777.7,168.7 L1779.2,168.5 L1780.7,168.2 L1782.2,168.0 L1783.8,167.7 L1785.3,167.4 L1786.8,167.2 L1788.3,166.9 L1789.8,166.7 L1791.3,166.4 L1792.8,166.2 L1794.3,165.9 L1795.8,165.7 L1797.3,165.4 L1798.8,165.2 L1800.4,164.9 L1801.9,164.6 L1803.4,164.4 L1804.9,164.1 L1806.4,163.9 L1807.9,163.6 L1809.4,163.4 L1811.0,163.1 L1812.5,162.8 L1814.0,162.6 L1815.5,162.3 L1817.0,162.1 L1818.6,161.8 L1820.1,161.6 L1821.6,161.3 L1823.1,161.0 L1824.6,160.8 L1826.2,160.5 L1827.7,160.3 L1829.2,160.0 L1830.7,159.7 L1832.3,159.5 L1833.8,159.2 L1835.3,159.0 L1836.8,158.7 L1838.4,158.4 L1839.9,158.2 L1841.4,157.9 L1843.0,157.6 L1844.5,157.4 L1846.0,157.1 L1847.6,156.8 L1849.1,156.6 L1850.6,156.3 L1852.2,156.0 L1853.7,155.8 L1855.2,155.5 L1856.8,155.3 L1858.2,155.0 L1859.6,154.8 L1860.9,154.6 L1862.0,154.4 L1864.2,154.1" fill="none" stroke="#404040" stroke-width="3.0" stroke-linejoin="round" stroke-linecap="round"/>
<path d="M436.8,1364.0 L439.2,1364.6 L440.3,1364.7 L441.6,1364.6 L443.0,1364.5 L444.5,1364.4 L446.0,1364.2 L447.6,1364.0 L449.1,1363.7 L450.6,1363.5 L452.2,1363.2 L453.7,1363.0 L455.2,1362.7 L456.8,1362.5 L458.3,1362.2 L459.8,1362.0 L461.3,1361.8 L462.9,1361.5 L464.4,1361.3 L465.9,1361.0 L467.5,1360.8 L469.0,1360.5 L470.5,1360.3 L472.0,1360.0 L473.5,1359.8 L475.1,1359.6 L476.6,1359.3 L478.1,1359.1 L479.6,1358.8 L481.1,1358.6 L482.7,1358.3 L484.2,1358.1 L485.7,1357.8 L487.2,1357.6 L488.7,1357.3 L490.2,1357.1 L491.7,1356.9 L493.3,1356.6 L494.8,1356.4 L496.3,1356.1 L497.8,1355.9 L499.3,1355.6 L500.8,1355.4 L502.3,1355.1 L503.8,1354.9 L505.3,1354.7 L506.8,1354.4 L508.3,1354.2 L509.9,1353.9 L511.4,1353.7 L512.9,1353.4 L514.4,1353.2 L515.9,1352.9 L517.4,1352.7 L518.9,1352.4 L520.4,1352.2 L521.9,1351.9 L523.4,1351.7 L524.9,1351.5 L526.4,1351.2 L527.9,1351.0 L529.4,1350.7 L530.9,1350.5 L532.4,1350.2 L533.9,1350.0 L535.4,1349.7 L536.9,1349.5 L538.4,1349.2 L539.9,1349.0 L541.4,1348.7 L542.9,1348.5 L544.4,1348.2 L545.9,1348.0 L547.4,1347.7 L548.9,1347.5 L550.3,1347.2 L551.8,1347.0 L553.3,1346.7 L554.8,1346.5 L556.3,1346.2 L557.8,1346.0 L559.3,1345.7 L560.8,1345.5 L562.3,1345.2 L563.8,1345.0 L565.3,1344.7 L566.8,1344.5 L568.3,1344.2 L569.8,1344.0 L571.3,1343.7 L572.8,1343.5 L574.3,1343.2 L575.8,1343.0 L577.2,1342.7 L578.7,1342.5 L580.2,1342.2 L581.7,1342.0 L583.2,1341.7 L584.7,1341.5 L586.2,1341.2 L587.7,1341.0 L589.2,1340.7 L590.7,1340.4 L592.2,1340.2 L593.7,1339.9 L595.2,1339.7 L596.7,1339.4 L598.2,1339.2 L599.7,1338.9 L601.2,1338.7 L602.7,1338.4 L604.1,1338.1 L605.6,1337.9 L607.1,1337.6 L608.6,1337.4 L610.1,1337.1 L611.6,1336.9 L613.1,1336.6 L614.6,1336.3 L616.1,1336.1 L617.6,1335.8 L619.1,1335.6 L620.6,1335.3 L622.1,1335.0 L623.6,1334.8 L625.1,1334.5 L626.6,1334.2 L628.1,1334.0 L629.6,1333.7 L631.1,1333.5 L632.6,1333.2 L634.1,1332.9 L635.6,1332.7 L637.1,1332.4 L638.6,1332.1 L640.1,1331.9 L641.7,1331.6 L643.2,1331.3 L644.7,1331.1 L646.2,1330.8 L647.7,1330.5 L649.2,1330.3 L650.7,1330.0 L652.2,1329.7 L653.7,1329.5 L655.2,1329.2 L656.7,1328.9 L658.2,1328.7 L659.8,1328.4 L661.3,1328.1 L662.8,1327.8 L664.3,1327.6 L665.8,1327.3 L667.3,1327.0 L668.8,1326.8 L670.4,1326.5 L671.9,1326.2 L673.4,1325.9 L674.9,1325.6 L676.4,1325.4 L677.9,1325.1 L679.5,1324.8 L681.0,1324.5 L682.5,1324.2 L684.0,1324.0 L685.5,1323.7 L687.0,1323.4 L688.6,1323.1 L690.1,1322.8 L691.6,1322.5 L693.1,1322.2 L694.6,1321.9 L696.2,1321.7 L697.7,1321.4 L699.2,1321.1 L700.7,1320.8 L702.2,1320.5 L703.7,1320.2 L705.3,1319.9 L706.8,1319.6 L708.3,1319.3 L709.8,1319.0 L711.3,1318.6 L712.8,1318.3 L714.4,1318.0 L715.9,1317.7 L717.4,1317.4 L718.9,1317.1 L720.4,1316.8 L721.9,1316.4 L723.5,1316.1 L725.0,1315.8 L726.5,1315.5 L728.0,1315.1 L729.5,1314.8 L731.0,1314.5 L732.5,1314.2 L734.0,1313.8 L735.6,1313.5 L737.1,1313.1 L738.6,1312.8 L740.1,1312.4 L741.6,1312.1 L743.1,1311.7 L744.6,1311.4 L746.1,1311.0 L747.6,1310.7 L749.1,1310.3 L750.6,1310.0 L752.1,1309.6 L753.6,1309.2 L755.1,1308.9 L756.6,1308.5 L758.1,1308.1 L759.6,1307.7 L761.1,1307.4 L762.6,1307.0 L764.1,1306.6 L765.6,1306.2 L767.1,1305.8 L768.6,1305.4 L770.1,1305.0 L771.6,1304.6 L773.0,1304.2 L774.5,1303.8 L776.0,1303.4 L777.5,1303.0 L779.0,1302.6 L780.5,1302.1 L781.9,1301.7 L783.4,1301.3 L784.9,1300.9 L786.4,1300.4 L787.9,1300.0 L789.3,1299.6 L790.8,1299.1 L792.3,1298.7 L793.7,1298.2 L795.2,1297.8 L796.6,1297.3 L798.0,1296.9 L799.5,1296.4 L800.9,1295.9 L802.3,1295.5 L803.8,1295.0 L805.2,1294.5 L806.6,1294.0 L808.1,1293.5 L809.5,1293.0 L810.9,1292.6 L812.3,1292.1 L813.7,1291.6 L815.2,1291.1 L816.6,1290.5 L818.0,1290.0 L819.4,1289.5 L820.8,1289.0 L822.2,1288.5 L823.6,1287.9 L825.0,1287.4 L826.4,1286.9 L827.8,1286.3 L829.2,1285.8 L830.6,1285.2 L832.0,1284.7 L833.4,1284.1 L834.8,1283.5 L836.2,1283.0 L837.5,1282.4 L838.9,1281.8 L840.3,1281.2 L841.7,1280.7 L843.0,1280.1 L844.4,1279.5 L845.8,1278.9 L847.2,1278.3 L848.5,1277.7 L849.9,1277.0 L851.2,1276.4 L852.6,1275.8 L854.0,1275.2 L855.3,1274.5 L856.7,1273.9 L858.0,1273.2 L859.4,1272.6 L860.7,1271.9 L862.0,1271.3 L863.4,1270.6 L864.7,1270.0 L866.1,1269.3 L867.4,1268.6 L868.7,1267.9 L870.0,1267.3 L871.4,1266.6 L872.7,1265.9 L874.0,1265.2 L875.3,1264.5 L876.6,1263.8 L877.9,1263.1 L879.3,1262.3 L880.6,1261.6 L881.9,1260.9 L883.2,1260.2 L884.5,1259.4 L885.8,1258.7 L887.1,1258.0 L888.3,1257.2 L889.6,1256.5 L890.9,1255.7 L892.2,1254.9 L893.5,1254.2 L894.8,1253.4 L896.0,1252.6 L897.3,1251.9 L898.6,1251.1 L899.8,1250.3 L901.1,1249.5 L902.4,1248.7 L903.6,1247.9 L904.9,1247.1 L906.1,1246.3 L907.4,1245.5 L908.6,1244.7 L909.9,1243.9 L911.1,1243.1 L912.4,1242.2 L913.6,1241.4 L914.8,1240.6 L916.1,1239.7 L917.3,1238.9 L918.5,1238.0 L919.8,1237.2 L921.0,1236.3 L922.2,1235.5 L923.4,1234.6 L924.6,1233.7 L925.8,1232.9 L927.0,1232.0 L928.2,1231.1 L929.4,1230.2 L930.6,1229.3 L931.8,1228.5 L933.0,1227.6 L934.2,1226.7 L935.4,1225.8 L936.6,1224.9 L937.8,1223.9 L938.9,1223.0 L940.1,1222.1 L941.3,1221.2 L942.5,1220.3 L943.6,1219.3 L944.8,1218.4 L946.0,1217.5 L947.1,1216.5 L948.3,1215.6 L949.4,1214.6 L950.6,1213.7 L951.7,1212.7 L952.9,1211.8 L954.0,1210.8 L955.1,1209.9 L956.3,1208.9 L957.4,1207.9 L958.5,1206.9 L959.6,1206.0 L960.8,1205.0 L961.9,1204.0 L963.0,1203.0 L964.1,1202.0 L965.2,1201.0 L966.3,1200.0 L967.4,1199.0 L968.5,1198.0 L969.6,1197.0 L970.7,1196.0 L971.8,1194.9 L972.9,1193.9 L974.0,1192.9 L975.0,1191.9 L976.1,1190.8 L977.2,1189.8 L978.3,1188.8 L979.3,1187.7 L980.4,1186.7 L981.5,1185.6 L982.5,1184.6 L983.6,1183.5 L984.6,1182.4 L985.7,1181.4 L986.7,1180.3 L987.8,1179.3 L988.8,1178.2 L989.8,1177.1 L990.9,1176.0 L991.9,1174.9 L992.9,1173.9 L993.9,1172.8 L995.0,1171.7 L996.0,1170.6 L997.0,1169.5 L998.0,1168.4 L999.0,1167.3 L1000.0,1166.2 L1001.0,1165.1 L1002.0,1163.9 L1003.0,1162.8 L1004.0,1161.7 L1005.0,1160.6 L1005.9,1159.5 L1006.9,1158.3 L1007.9,1157.2 L1008.9,1156.1 L1009.8,1154.9 L1010.8,1153.8 L1011.8,1152.6 L1012.7,1151.5 L1013.7,1150.3 L1014.6,1149.2 L1015.6,1148.0 L1016.5,1146.9 L1017.4,1145.7 L1018.4,1144.6 L1019.3,1143.4 L1020.2,1142.2 L1021.2,1141.0 L1022.1,1139.9 L1023.0,1138.7 L1023.9,1137.5 L1024.8,1136.3 L1025.7,1135.1 L1026.6,1133.9 L1027.5,1132.8 L1028.4,1131.6 L1029.3,1130.4 L1030.2,1129.2 L1031.1,1128.0 L1032.0,1126.7 L1032.9,1125.5 L1033.7,1124.3 L1034.6,1123.1 L1035.5,1121.9 L1036.4,1120.7 L1037.2,1119.5 L1038.1,1118.2 L1038.9,1117.0 L1039.8,1115.8 L1040.6,1114.5 L1041.5,1113.3 L1042.3,1112.1 L1043.1,1110.8 L1044.0,1109.6 L1044.8,1108.3 L1045.6,1107.1 L1046.4,1105.8 L1047.2,1104.6 L1048.1,1103.3 L1048.9,1102.1 L1049.7,1100.8 L1050.5,1099.6 L1051.3,1098.3 L1052.1,1097.0 L1052.8,1095.8 L1053.6,1094.5 L1054.4,1093.2 L1055.2,1091.9 L1056.0,1090.7 L1056.7,1089.4 L1057.5,1088.1 L1058.3,1086.8 L1059.0,1085.5 L1059.8,1084.2 L1060.5,1082.9 L1061.3,1081.6 L1062.0,1080.4 L1062.7,1079.1 L1063.5,1077.8 L1064.2,1076.4 L1064.9,1075.1 L1065.7,1073.8 L1066.4,1072.5 L1067.1,1071.2 L1067.8,1069.9 L1068.5,1068.6 L1069.2,1067.3 L1069.9,1065.9 L1070.6,1064.6 L1071.3,1063.3 L1072.0,1062.0 L1072.7,1060.6 L1073.4,1059.3 L1074.0,1058.0 L1074.7,1056.6 L1075.4,1055.3 L1076.0,1054.0 L1076.7,1052.6 L1077.4,1051.3 L1078.0,1049.9 L1078.7,1048.6 L1079.3,1047.2 L1080.0,1045.9 L1080.6,1044.5 L1081.2,1043.2 L1081.9,1041.8 L1082.5,1040.5 L1083.1,1039.1 L1083.8,1037.8 L1084.4,1036.4 L1085.0,1035.0 L1085.6,1033.7 L1086.2,1032.3 L1086.8,1030.9 L1087.4,1029.6 L1088.0,1028.2 L1088.6,1026.8 L1089.2,1025.4 L1089.8,1024.1 L1090.4,1022.7 L1091.0,1021.3 L1091.6,1019.9 L1092.1,1018.5 L1092.7,1017.1 L1093.3,1015.7 L1093.8,1014.4 L1094.4,1013.0 L1095.0,1011.6 L1095.5,1010.2 L1096.1,1008.8 L1096.6,1007.4 L1097.2,1006.0 L1097.7,1004.6 L1098.3,1003.2 L1098.8,1001.8 L1099.3,1000.4 L1099.9,999.0 L1100.4,997.6 L1100.9,996.1 L1101.4,994.7 L1102.0,993.3 L1102.5,991.9 L1103.0,990.5 L1103.5,989.1 L1104.0,987.7 L1104.5,986.2 L1105.0,984.8 L1105.5,983.4 L1106.0,982.0 L1106.5,980.5 L1107.0,979.1 L1107.5,977.7 L1108.0,976.3 L1108.4,974.8 L1108.9,973.4 L1109.4,972.0 L1109.9,970.5 L1110.3,969.1 L1110.8,967.7 L1111.3,966.2 L1111.7,964.8 L1112.2,963.3 L1112.6,961.9 L1113.1,960.5 L1113.5,959.0 L1114.0,957.6 L1114.4,956.1 L1114.9,954.7 L1115.3,953.2 L1115.8,951.8 L1116.2,950.3 L1116.6,948.9 L1117.1,947.4 L1117.5,946.0 L1117.9,944.5 L1118.3,943.1 L1118.7,941.6 L1119.2,940.2 L1119.6,938.7 L1120.0,937.3 L1120.4,935.8 L1120.8,934.3 L1121.2,932.9 L1121.6,931.4 L1122.0,930.0 L1122.4,928.5 L1122.8,927.0 L1123.2,925.6 L1123.6,924.1 L1124.0,922.6 L1124.4,921.2 L1124.7,919.7 L1125.1,918.2 L1125.5,916.8 L1125.9,915.3 L1126.3,913.8 L1126.6,912.3 L1127.0,910.9 L1127.4,909.4 L1127.7,907.9 L1128.1,906.4 L1128.5,905.0 L1128.8,903.5 L1129.2,902.0 L1129.5,900.5 L1129.9,899.1 L1130.2,897.6 L1130.6,896.1 L1130.9,894.6 L1131.3,893.2 L1131.6,891.7 L1131.9,890.2 L1132.3,888.7 L1132.6,887.2 L1133.0,885.7 L1133.3,884.3 L1133.6,882.8 L1133.9,881.3 L1134.3,879.8 L1134.6,878.3 L1134.9,876.8 L1135.2,875.4 L1135.6,873.9 L1135.9,872.4 L1136.2,870.9 L1136.5,869.4 L1136.8,867.9 L1137.1,866.4 L1137.4,865.0 L1137.7,863.5 L1138.1,862.0 L1138.4,860.5 L1138.7,859.0 L1139.0,857.5 L1139.3,856.0 L1139.5,854.5 L1139.8,853.0 L1140.1,851.5 L1140.4,850.1 L1140.7,848.6 L1141.0,847.1 L1141.3,845.6 L1141.6,844.1 L1141.9,842.6 L1142.1,841.1 L1142.4,839.6 L1142.7,838.1 L1143.0,836.6 L1143.2,835.2 L1143.5,833.7 L1143.8,832.2 L1144.1,830.7 L1144.3,829.2 L1144.6,827.7 L1144.9,826.2 L1145.1,824.7 L1145.4,823.2 L1145.7,821.7 L1145.9,820.2 L1146.2,818.8 L1146.4,817.3 L1146.7,815.8 L1147.0,814.3 L1147.2,812.8 L1147.5,811.3 L1147.7,809.8 L1148.0,808.3 L1148.2,806.8 L1148.5,805.3 L1148.7,803.8 L1149.0,802.4 L1149.2,800.9 L1149.5,799.4 L1149.7,797.9 L1150.0,796.4 L1150.2,794.9 L1150.4,793.4 L1150.7,791.9 L1150.9,790.4 L1151.2,789.0 L1151.4,787.5 L1151.6,786.0 L1151.9,784.5 L1152.1,783.0 L1152.4,781.5 L1152.6,780.0 L1152.8,778.5 L1153.1,777.1 L1153.3,775.6 L1153.5,774.1 L1153.8,772.6 L1154.0,771.1 L1154.2,769.6 L1154.5,768.1 L1154.7,766.7 L1155.0,765.2 L1155.2,763.7 L1155.4,762.2 L1155.7,760.7 L1155.9,759.2 L1156.1,757.8 L1156.4,756.3 L1156.6,754.8 L1156.8,753.3 L1157.1,751.8 L1157.3,750.3 L1157.5,748.9 L1157.8,747.4 L1158.0,745.9 L1158.3,744.4 L1158.5,742.9 L1158.7,741.5 L1159.0,740.0 L1159.2,738.5 L1159.5,737.0 L1159.7,735.5 L1159.9,734.1 L1160.2,732.6 L1160.4,731.1 L1160.7,729.6 L1160.9,728.1 L1161.2,726.7 L1161.4,725.2 L1161.6,723.7 L1161.9,722.2 L1162.1,720.8 L1162.4,719.3 L1162.6,717.8 L1162.9,716.3 L1163.2,714.9 L1163.4,713.4 L1163.7,711.9 L1163.9,710.4 L1164.2,709.0 L1164.4,707.5 L1164.7,706.0 L1165.0,704.5 L1165.2,703.1 L1165.5,701.6 L1165.8,700.1 L1166.0,698.7 L1166.3,697.2 L1166.6,695.7 L1166.8,694.3 L1167.1,692.8 L1167.4,691.3 L1167.7,689.9 L1168.0,688.4 L1168.2,686.9 L1168.5,685.5 L1168.8,684.0 L1169.1,682.5 L1169.4,681.1 L1169.7,679.6 L1170.0,678.1 L1170.2,676.7 L1170.5,675.2 L1170.8,673.7 L1171.1,672.3 L1171.4,670.8 L1171.7,669.4 L1172.0,667.9 L1172.3,666.4 L1172.7,665.0 L1173.0,663.5 L1173.3,662.1 L1173.6,660.6 L1173.9,659.1 L1174.2,657.7 L1174.5,656.2 L1174.9,654.8 L1175.2,653.3 L1175.5,651.9 L1175.8,650.4 L1176.2,649.0 L1176.5,647.5 L1176.8,646.0 L1177.2,644.6 L1177.5,643.1 L1177.8,641.7 L1178.2,640.2 L1178.5,638.8 L1178.9,637.3 L1179.2,635.9 L1179.5,634.4 L1179.9,633.0 L1180.2,631.6 L1180.6,630.1 L1181.0,628.7 L1181.3,627.2 L1181.7,625.8 L1182.0,624.3 L1182.4,622.9 L1182.8,621.4 L1183.1,620.0 L1183.5,618.6 L1183.9,617.1 L1184.3,615.7 L1184.6,614.2 L1185.0,612.8 L1185.4,611.4 L1185.8,609.9 L1186.2,608.5 L1186.6,607.1 L1187.0,605.6 L1187.4,604.2 L1187.8,602.7 L1188.2,601.3 L1188.6,599.9 L1189.0,598.4 L1189.4,597.0 L1189.8,595.6 L1190.2,594.2 L1190.6,592.7 L1191.0,591.3 L1191.4,589.9 L1191.9,588.4 L1192.3,587.0 L1192.7,585.6 L1193.1,584.2 L1193.6,582.7 L1194.0,581.3 L1194.4,579.9 L1194.9,578.5 L1195.3,577.1 L1195.8,575.6 L1196.2,574.2 L1196.7,572.8 L1197.1,571.4 L1197.6,570.0 L1198.0,568.5 L1198.5,567.1 L1198.9,565.7 L1199.4,564.3 L1199.9,562.9 L1200.3,561.5 L1200.8,560.1 L1201.3,558.6 L1201.8,557.2 L1202.3,555.8 L1202.7,554.4 L1203.2,553.0 L1203.7,551.6 L1204.2,550.2 L1204.7,548.8 L1205.2,547.4 L1205.7,546.0 L1206.2,544.6 L1206.7,543.2 L1207.2,541.8 L1207.7,540.4 L1208.2,539.0 L1208.7,537.6 L1209.3,536.2 L1209.8,534.8 L1210.3,533.4 L1210.8,532.0 L1211.4,530.6 L1211.9,529.2 L1212.4,527.8 L1213.0,526.4 L1213.5,525.0 L1214.1,523.6 L1214.6,522.2 L1215.2,520.8 L1215.7,519.5 L1216.3,518.1 L1216.8,516.7 L1217.4,515.3 L1218.0,513.9 L1218.5,512.5 L1219.1,511.2 L1219.7,509.8 L1220.3,508.4 L1220.8,507.0 L1221.4,505.6 L1222.0,504.3 L1222.6,502.9 L1223.2,501.5 L1223.8,500.1 L1224.4,498.8 L1225.0,497.4 L1225.6,496.0 L1226.2,494.6 L1226.8,493.3 L1227.4,491.9 L1228.0,490.5 L1228.7,489.2 L1229.3,487.8 L1229.9,486.4 L1230.5,485.1 L1231.2,483.7 L1231.8,482.4 L1232.4,481.0 L1233.1,479.6 L1233.7,478.3 L1234.4,476.9 L1235.0,475.6 L1235.7,474.2 L1236.4,472.9 L1237.0,471.5 L1237.7,470.1 L1238.3,468.8 L1239.0,467.4 L1239.7,466.1 L1240.4,464.8 L1241.1,463.4 L1241.7,462.1 L1242.4,460.7 L1243.1,459.4 L1243.8,458.0 L1244.5,456.7 L1245.2,455.4 L1245.9,454.0 L1246.6,452.7 L1247.3,451.4 L1248.1,450.0 L1248.8,448.7 L1249.5,447.4 L1250.2,446.0 L1250.9,444.7 L1251.7,443.4 L1252.4,442.1 L1253.1,440.7 L1253.9,439.4 L1254.6,438.1 L1255.4,436.8 L1256.1,435.5 L1256.9,434.2 L1257.6,432.9 L1258.4,431.5 L1259.2,430.2 L1259.9,428.9 L1260.7,427.6 L1261.5,426.3 L1262.2,425.0 L1263.0,423.7 L1263.8,422.4 L1264.6,421.2 L1265.4,419.9 L1266.2,418.6 L1267.0,417.3 L1267.8,416.0 L1268.6,414.7 L1269.4,413.4 L1270.2,412.2 L1271.0,410.9 L1271.8,409.6 L1272.7,408.3 L1273.5,407.1 L1274.3,405.8 L1275.1,404.5 L1276.0,403.3 L1276.8,402.0 L1277.6,400.8 L1278.5,399.5 L1279.3,398.3 L1280.2,397.0 L1281.0,395.8 L1281.9,394.5 L1282.8,393.3 L1283.6,392.1 L1284.5,390.8 L1285.4,389.6 L1286.2,388.4 L1287.1,387.1 L1288.0,385.9 L1288.9,384.7 L1289.8,383.5 L1290.7,382.2 L1291.6,381.0 L1292.5,379.8 L1293.4,378.6 L1294.3,377.4 L1295.2,376.2 L1296.1,375.0 L1297.0,373.8 L1297.9,372.6 L1298.8,371.4 L1299.8,370.2 L1300.7,369.1 L1301.6,367.9 L1302.6,366.7 L1303.5,365.5 L1304.4,364.3 L1305.4,363.2 L1306.3,362.0 L1307.3,360.9 L1308.2,359.7 L1309.2,358.5 L1310.2,357.4 L1311.1,356.2 L1312.1,355.1 L1313.1,354.0 L1314.0,352.8 L1315.0,351.7 L1316.0,350.6 L1317.0,349.4 L1318.0,348.3 L1319.0,347.2 L1320.0,346.1 L1321.0,344.9 L1322.0,343.8 L1323.0,342.7 L1324.0,341.6 L1325.0,340.5 L1326.0,339.4 L1327.1,338.3 L1328.1,337.3 L1329.1,336.2 L1330.1,335.1 L1331.2,334.0 L1332.2,332.9 L1333.3,331.9 L1334.3,330.8 L1335.3,329.8 L1336.4,328.7 L1337.5,327.6 L1338.5,326.6 L1339.6,325.6 L1340.6,324.5 L1341.7,323.5 L1342.8,322.4 L1343.9,321.4 L1344.9,320.4 L1346.0,319.4 L1347.1,318.4 L1348.2,317.3 L1349.3,316.3 L1350.4,315.3 L1351.5,314.3 L1352.6,313.3 L1353.7,312.4 L1354.8,311.4 L1355.9,310.4 L1357.1,309.4 L1358.2,308.4 L1359.3,307.5 L1360.4,306.5 L1361.6,305.6 L1362.7,304.6 L1363.9,303.6 L1365.0,302.7 L1366.1,301.8 L1367.3,300.8 L1368.4,299.9 L1369.6,299.0 L1370.8,298.1 L1371.9,297.1 L1373.1,296.2 L1374.3,295.3 L1375.4,294.4 L1376.6,293.5 L1377.8,292.6 L1379.0,291.7 L1380.2,290.9 L1381.4,290.0 L1382.6,289.1 L1383.8,288.2 L1385.0,287.4 L1386.2,286.5 L1387.4,285.7 L1388.6,284.8 L1389.8,284.0 L1391.1,283.1 L1392.3,282.3 L1393.5,281.5 L1394.7,280.7 L1396.0,279.8 L1397.2,279.0 L1398.5,278.2 L1399.7,277.4 L1401.0,276.6 L1402.2,275.8 L1403.5,275.1 L1404.7,274.3 L1406.0,273.5 L1407.3,272.7 L1408.5,272.0 L1409.8,271.2 L1411.1,270.5 L1412.4,269.7 L1413.7,269.0 L1415.0,268.2 L1416.2,267.5 L1417.5,266.8 L1418.8,266.0 L1420.1,265.3 L1421.4,264.6 L1422.7,263.9 L1424.1,263.2 L1425.4,262.5 L1426.7,261.8 L1428.0,261.1 L1429.3,260.4 L1430.7,259.7 L1432.0,259.1 L1433.3,258.4 L1434.6,257.7 L1436.0,257.1 L1437.3,256.4 L1438.7,255.8 L1440.0,255.1 L1441.4,254.5 L1442.7,253.8 L1444.1,253.2 L1445.4,252.6 L1446.8,251.9 L1448.1,251.3 L1449.5,250.7 L1450.9,250.1 L1452.2,249.5 L1453.6,248.8 L1455.0,248.2 L1456.4,247.6 L1457.7,247.1 L1459.1,246.5 L1460.5,245.9 L1461.9,245.3 L1463.3,244.7 L1464.7,244.1 L1466.0,243.6 L1467.4,243.0 L1468.8,242.4 L1470.2,241.9 L1471.6,241.3 L1473.0,240.8 L1474.4,240.2 L1475.9,239.7 L1477.3,239.1 L1478.7,238.6 L1480.1,238.1 L1481.5,237.6 L1482.9,237.0 L1484.3,236.5 L1485.8,236.0 L1487.2,235.5 L1488.6,235.0 L1490.0,234.5 L1491.4,233.9 L1492.9,233.4 L1494.3,232.9 L1495.7,232.5 L1497.2,232.0 L1498.6,231.5 L1500.0,231.0 L1501.5,230.5 L1502.9,230.0 L1504.4,229.6 L1505.8,229.1 L1507.3,228.6 L1508.7,228.1 L1510.1,227.7 L1511.6,227.2 L1513.0,226.8 L1514.5,226.3 L1515.9,225.9 L1517.4,225.4 L1518.9,225.0 L1520.3,224.5 L1521.8,224.1 L1523.2,223.6 L1524.6,223.2 L1526.1,222.8 L1527.5,222.4 L1528.9,221.9 L1530.4,221.5 L1531.8,221.1 L1533.2,220.7 L1534.7,220.3 L1536.1,219.8 L1537.6,219.4 L1539.0,219.0 L1540.4,218.6 L1541.9,218.2 L1543.3,217.8 L1544.8,217.4 L1546.2,217.0 L1547.6,216.6 L1549.1,216.2 L1550.5,215.8 L1552.0,215.5 L1553.4,215.1 L1554.9,214.7 L1556.3,214.3 L1557.8,213.9 L1559.2,213.6 L1560.7,213.2 L1562.1,212.8 L1563.6,212.4 L1565.0,212.1 L1566.5,211.7 L1567.9,211.3 L1569.4,211.0 L1570.8,210.6 L1572.3,210.3 L1573.7,209.9 L1575.2,209.5 L1576.6,209.2 L1578.1,208.8 L1579.5,208.5 L1581.0,208.1 L1582.4,207.8 L1583.9,207.5 L1585.3,207.1 L1586.8,206.8 L1588.2,206.4 L1589.7,206.1 L1591.1,205.8 L1592.6,205.4 L1594.0,205.1 L1595.5,204.8 L1596.9,204.4 L1598.4,204.1 L1599.8,203.8 L1601.3,203.4 L1602.7,203.1 L1604.2,202.8 L1605.6,202.5 L1607.1,202.1 L1608.5,201.8 L1610.0,201.5 L1611.4,201.2 L1612.9,200.9 L1614.3,200.5 L1615.8,200.2 L1617.2,199.9 L1618.6,199.6 L1620.1,199.3 L1621.5,199.0 L1623.0,198.7 L1624.4,198.3 L1625.9,198.0 L1627.3,197.7 L1628.7,197.4 L1630.2,197.1 L1631.6,196.8 L1633.1,196.5 L1634.5,196.2 L1635.9,195.9 L1637.4,195.6 L1638.8,195.3 L1640.3,195.0 L1641.7,194.7 L1643.1,194.4 L1644.6,194.1 L1646.0,193.8 L1647.4,193.5 L1648.9,193.2 L1650.3,192.9 L1651.8,192.7 L1653.2,192.4 L1654.6,192.1 L1656.1,191.8 L1657.5,191.5 L1658.9,191.2 L1660.4,190.9 L1661.8,190.6 L1663.2,190.3 L1664.7,190.1 L1666.1,189.8 L1667.5,189.5 L1669.0,189.2 L1670.4,188.9 L1671.8,188.7 L1673.3,188.4 L1674.7,188.1 L1676.1,187.8 L1677.6,187.5 L1679.0,187.3 L1680.5,187.0 L1681.9,186.7 L1683.3,186.4 L1684.8,186.2 L1686.2,185.9 L1687.6,185.6 L1689.1,185.3 L1690.5,185.1 L1691.9,184.8 L1693.4,184.5 L1694.8,184.3 L1696.2,184.0 L1697.7,183.7 L1699.1,183.5 L1700.5,183.2 L1702.0,182.9 L1703.4,182.6 L1704.8,182.4 L1706.3,182.1 L1707.7,181.8 L1709.1,181.6 L1710.6,181.3 L1712.0,181.1 L1713.4,180.8 L1714.9,180.5 L1716.3,180.3 L1717.7,180.0 L1719.2,179.7 L1720.6,179.5 L1722.0,179.2 L1723.5,179.0 L1724.9,178.7 L1726.3,178.4 L1727.8,178.2 L1729.2,177.9 L1730.6,177.7 L1732.1,177.4 L1733.5,177.1 L1734.9,176.9 L1736.4,176.6 L1737.8,176.4 L1739.3,176.1 L1740.7,175.9 L1742.1,175.6 L1743.6,175.3 L1745.0,175.1 L1746.4,174.8 L1747.9,174.6 L1749.3,174.3 L1750.8,174.1 L1752.2,173.8 L1753.6,173.5 L1755.1,173.3 L1756.5,173.0 L1758.0,172.8 L1759.4,172.5 L1760.8,172.3 L1762.3,172.0 L1763.7,171.8 L1765.2,171.5 L1766.6,171.3 L1768.1,171.0 L1769.5,170.7 L1770.9,170.5 L1772.4,170.2 L1773.8,170.0 L1775.3,169.7 L1776.7,169.5 L1778.2,169.2 L1779.6,169.0 L1781.1,168.7 L1782.5,168.5 L1784.0,168.2 L1785.4,168.0 L1786.9,167.7 L1788.3,167.4 L1789.8,167.2 L1791.2,166.9 L1792.7,166.7 L1794.1,166.4 L1795.6,166.2 L1797.0,165.9 L1798.5,165.7 L1799.9,165.4 L1801.4,165.2 L1802.8,164.9 L1804.3,164.6 L1805.7,164.4 L1807.2,164.1 L1808.7,163.9 L1810.1,163.6 L1811.6,163.4 L1813.0,163.1 L1814.5,162.8 L1815.9,162.6 L1817.4,162.3 L1818.9,162.1 L1820.3,161.8 L1821.8,161.6 L1823.3,161.3 L1824.7,161.0 L1826.2,160.8 L1827.6,160.5 L1829.1,160.3 L1830.6,160.0 L1832.1,159.7 L1833.5,159.5 L1835.0,159.2 L1836.5,159.0 L1837.9,158.7 L1839.4,158.4 L1840.9,158.2 L1842.3,157.9 L1843.8,157.6 L1845.3,157.4 L1846.8,157.1 L1848.2,156.8 L1849.7,156.6 L1851.2,156.3 L1852.7,156.0 L1854.2,155.8 L1855.6,155.5 L1857.1,155.3 L1858.5,155.0 L1859.8,154.8 L1861.0,154.6 L1862.1,154.4 L1864.2,154.1" fill="none" stroke="#404040" stroke-width="3.0" stroke-linejoin="round" stroke-linecap="round"/>
<path d="M446.3,1174.0 L449.1,1174.0 L450.3,1174.0 L451.6,1173.9 L453.0,1173.8 L454.5,1173.7 L455.9,1173.5 L457.3,1173.3 L458.7,1173.2 L460.2,1173.0 L461.6,1172.9 L463.0,1172.7 L464.5,1172.5 L465.9,1172.4 L467.3,1172.2 L468.8,1172.1 L470.2,1171.9 L471.6,1171.7 L473.1,1171.6 L474.5,1171.4 L476.0,1171.3 L477.4,1171.1 L478.8,1171.0 L480.3,1170.8 L481.7,1170.7 L483.2,1170.5 L484.6,1170.4 L486.1,1170.3 L487.5,1170.1 L489.0,1170.0 L490.4,1169.8 L491.9,1169.7 L493.3,1169.5 L494.8,1169.4 L496.2,1169.3 L497.7,1169.1 L499.1,1169.0 L500.6,1168.8 L502.0,1168.7 L503.5,1168.6 L504.9,1168.4 L506.4,1168.3 L507.9,1168.2 L509.3,1168.0 L510.8,1167.9 L512.2,1167.8 L513.7,1167.6 L515.2,1167.5 L516.6,1167.4 L518.1,1167.3 L519.5,1167.1 L521.0,1167.0 L522.5,1166.9 L523.9,1166.8 L525.4,1166.6 L526.9,1166.5 L528.4,1166.4 L529.8,1166.3 L531.3,1166.1 L532.8,1166.0 L534.2,1165.9 L535.7,1165.8 L537.2,1165.6 L538.7,1165.5 L540.1,1165.4 L541.6,1165.3 L543.1,1165.2 L544.6,1165.0 L546.0,1164.9 L547.5,1164.8 L549.0,1164.7 L550.5,1164.6 L551.9,1164.4 L553.4,1164.3 L554.9,1164.2 L556.4,1164.1 L557.9,1164.0 L559.3,1163.8 L560.8,1163.7 L562.3,1163.6 L563.8,1163.5 L565.3,1163.4 L566.7,1163.3 L568.2,1163.1 L569.7,1163.0 L571.2,1162.9 L572.7,1162.8 L574.2,1162.7 L575.7,1162.6 L577.1,1162.4 L578.6,1162.3 L580.1,1162.2 L581.6,1162.1 L583.1,1162.0 L584.6,1161.9 L586.1,1161.7 L587.6,1161.6 L589.0,1161.5 L590.5,1161.4 L592.0,1161.3 L593.5,1161.2 L595.0,1161.0 L596.5,1160.9 L598.0,1160.8 L599.5,1160.7 L601.0,1160.6 L602.5,1160.5 L604.0,1160.3 L605.5,1160.2 L606.9,1160.1 L608.4,1160.0 L609.9,1159.9 L611.4,1159.7 L612.9,1159.6 L614.4,1159.5 L615.9,1159.4 L617.4,1159.3 L618.9,1159.1 L620.4,1159.0 L621.9,1158.9 L623.4,1158.8 L624.9,1158.7 L626.4,1158.5 L627.9,1158.4 L629.4,1158.3 L630.9,1158.2 L632.3,1158.0 L633.8,1157.9 L635.3,1157.8 L636.8,1157.7 L638.3,1157.5 L639.8,1157.4 L641.3,1157.3 L642.8,1157.1 L644.3,1157.0 L645.8,1156.9 L647.3,1156.7 L648.8,1156.6 L650.3,1156.5 L651.8,1156.4 L653.3,1156.2 L654.8,1156.1 L656.3,1156.0 L657.8,1155.8 L659.3,1155.7 L660.8,1155.5 L662.3,1155.4 L663.8,1155.3 L665.3,1155.1 L666.8,1155.0 L668.3,1154.8 L669.8,1154.7 L671.2,1154.6 L672.7,1154.4 L674.2,1154.3 L675.7,1154.1 L677.2,1154.0 L678.7,1153.8 L680.2,1153.7 L681.7,1153.5 L683.2,1153.4 L684.7,1153.2 L686.2,1153.1 L687.7,1152.9 L689.2,1152.8 L690.7,1152.6 L692.2,1152.5 L693.7,1152.3 L695.2,1152.1 L696.7,1152.0 L698.1,1151.8 L699.6,1151.7 L701.1,1151.5 L702.6,1151.3 L704.1,1151.2 L705.6,1151.0 L707.1,1150.8 L708.6,1150.7 L710.1,1150.5 L711.6,1150.3 L713.1,1150.1 L714.5,1150.0 L716.0,1149.8 L717.5,1149.6 L719.0,1149.4 L720.5,1149.3 L722.0,1149.1 L723.5,1148.9 L725.0,1148.7 L726.5,1148.5 L727.9,1148.3 L729.4,1148.2 L730.9,1148.0 L732.4,1147.8 L733.9,1147.6 L735.4,1147.4 L736.8,1147.2 L738.3,1147.0 L739.8,1146.8 L741.3,1146.6 L742.8,1146.4 L744.3,1146.2 L745.7,1146.0 L747.2,1145.8 L748.7,1145.6 L750.2,1145.4 L751.7,1145.2 L753.1,1145.0 L754.6,1144.7 L756.1,1144.5 L757.6,1144.3 L759.0,1144.1 L760.5,1143.9 L762.0,1143.6 L763.5,1143.4 L764.9,1143.2 L766.4,1143.0 L767.9,1142.7 L769.4,1142.5 L770.8,1142.3 L772.3,1142.0 L773.8,1141.8 L775.2,1141.6 L776.7,1141.3 L778.2,1141.1 L779.6,1140.8 L781.1,1140.6 L782.6,1140.3 L784.0,1140.1 L785.5,1139.8 L787.0,1139.6 L788.4,1139.3 L789.9,1139.1 L791.4,1138.8 L792.8,1138.6 L794.3,1138.3 L795.8,1138.0 L797.3,1137.8 L798.7,1137.5 L800.2,1137.2 L801.7,1136.9 L803.2,1136.7 L804.6,1136.4 L806.1,1136.1 L807.6,1135.8 L809.1,1135.5 L810.5,1135.2 L812.0,1135.0 L813.5,1134.7 L814.9,1134.4 L816.4,1134.1 L817.9,1133.8 L819.3,1133.5 L820.8,1133.2 L822.2,1132.9 L823.7,1132.6 L825.2,1132.3 L826.6,1131.9 L828.1,1131.6 L829.5,1131.3 L831.0,1131.0 L832.5,1130.7 L833.9,1130.3 L835.4,1130.0 L836.8,1129.7 L838.3,1129.4 L839.7,1129.0 L841.2,1128.7 L842.6,1128.3 L844.1,1128.0 L845.5,1127.7 L847.0,1127.3 L848.4,1127.0 L849.9,1126.6 L851.3,1126.3 L852.7,1125.9 L854.2,1125.5 L855.6,1125.2 L857.1,1124.8 L858.5,1124.4 L859.9,1124.1 L861.4,1123.7 L862.8,1123.3 L864.2,1122.9 L865.7,1122.5 L867.1,1122.2 L868.5,1121.8 L869.9,1121.4 L871.4,1121.0 L872.8,1120.6 L874.2,1120.2 L875.6,1119.7 L877.1,1119.3 L878.5,1118.9 L879.9,1118.5 L881.3,1118.1 L882.7,1117.6 L884.1,1117.2 L885.6,1116.8 L887.0,1116.3 L888.4,1115.9 L889.8,1115.4 L891.2,1115.0 L892.6,1114.5 L894.0,1114.1 L895.4,1113.6 L896.8,1113.1 L898.2,1112.7 L899.6,1112.2 L901.0,1111.7 L902.4,1111.2 L903.8,1110.7 L905.1,1110.2 L906.5,1109.7 L907.9,1109.2 L909.3,1108.7 L910.7,1108.2 L912.1,1107.6 L913.4,1107.1 L914.8,1106.6 L916.2,1106.0 L917.6,1105.5 L918.9,1104.9 L920.3,1104.4 L921.7,1103.8 L923.0,1103.2 L924.4,1102.7 L925.8,1102.1 L927.1,1101.5 L928.5,1100.9 L929.8,1100.3 L931.2,1099.7 L932.5,1099.1 L933.9,1098.5 L935.2,1097.9 L936.6,1097.3 L937.9,1096.6 L939.2,1096.0 L940.6,1095.3 L941.9,1094.7 L943.3,1094.0 L944.6,1093.4 L945.9,1092.7 L947.2,1092.0 L948.6,1091.3 L949.9,1090.6 L951.2,1089.9 L952.5,1089.2 L953.8,1088.5 L955.2,1087.8 L956.5,1087.1 L957.8,1086.4 L959.1,1085.6 L960.4,1084.9 L961.7,1084.2 L963.0,1083.4 L964.3,1082.6 L965.6,1081.9 L966.9,1081.1 L968.2,1080.3 L969.4,1079.5 L970.7,1078.7 L972.0,1077.9 L973.3,1077.1 L974.6,1076.3 L975.8,1075.5 L977.1,1074.7 L978.4,1073.9 L979.6,1073.0 L980.9,1072.2 L982.2,1071.3 L983.4,1070.5 L984.7,1069.6 L985.9,1068.7 L987.2,1067.9 L988.4,1067.0 L989.7,1066.1 L990.9,1065.2 L992.2,1064.3 L993.4,1063.4 L994.6,1062.5 L995.9,1061.6 L997.1,1060.7 L998.3,1059.7 L999.5,1058.8 L1000.7,1057.8 L1002.0,1056.9 L1003.2,1055.9 L1004.4,1055.0 L1005.6,1054.0 L1006.8,1053.0 L1008.0,1052.1 L1009.2,1051.1 L1010.4,1050.1 L1011.6,1049.1 L1012.8,1048.1 L1013.9,1047.1 L1015.1,1046.0 L1016.3,1045.0 L1017.5,1044.0 L1018.7,1043.0 L1019.8,1041.9 L1021.0,1040.9 L1022.1,1039.8 L1023.3,1038.8 L1024.5,1037.7 L1025.6,1036.6 L1026.7,1035.6 L1027.8,1034.6 L1028.8,1033.6 L1029.8,1032.6 L1030.8,1031.6 L1031.8,1030.6 L1032.8,1029.5 L1033.7,1028.4 L1034.7,1027.3 L1035.6,1026.2 L1036.6,1025.0 L1037.5,1023.9 L1038.4,1022.7 L1039.3,1021.5 L1040.2,1020.4 L1041.1,1019.2 L1042.0,1018.0 L1042.9,1016.8 L1043.8,1015.6 L1044.7,1014.5 L1045.6,1013.3 L1046.5,1012.1 L1047.3,1010.9 L1048.2,1009.7 L1049.1,1008.5 L1049.9,1007.2 L1050.8,1006.0 L1051.6,1004.8 L1052.4,1003.6 L1053.3,1002.4 L1054.1,1001.2 L1054.9,999.9 L1055.8,998.7 L1056.6,997.5 L1057.4,996.2 L1058.2,995.0 L1059.0,993.7 L1059.8,992.5 L1060.6,991.3 L1061.4,990.0 L1062.2,988.8 L1063.0,987.5 L1063.8,986.2 L1064.6,985.0 L1065.4,983.7 L1066.2,982.4 L1066.9,981.2 L1067.7,979.9 L1068.5,978.6 L1069.2,977.3 L1070.0,976.1 L1070.8,974.8 L1071.5,973.5 L1072.3,972.2 L1073.0,970.9 L1073.8,969.6 L1074.5,968.3 L1075.3,967.0 L1076.0,965.7 L1076.8,964.4 L1077.5,963.1 L1078.2,961.8 L1079.0,960.5 L1079.7,959.2 L1080.4,957.9 L1081.2,956.6 L1081.9,955.2 L1082.6,953.9 L1083.3,952.6 L1084.1,951.3 L1084.8,949.9 L1085.5,948.6 L1086.2,947.3 L1086.9,945.9 L1087.6,944.6 L1088.4,943.2 L1089.1,941.9 L1089.8,940.6 L1090.5,939.2 L1091.2,937.9 L1091.9,936.5 L1092.6,935.2 L1093.3,933.8 L1094.0,932.4 L1094.7,931.1 L1095.4,929.7 L1096.1,928.4 L1096.8,927.0 L1097.5,925.6 L1098.1,924.3 L1098.8,922.9 L1099.5,921.5 L1100.2,920.1 L1100.9,918.8 L1101.5,917.4 L1102.2,916.0 L1102.9,914.6 L1103.5,913.3 L1104.2,911.9 L1104.8,910.5 L1105.5,909.1 L1106.1,907.7 L1106.8,906.3 L1107.4,904.9 L1108.1,903.5 L1108.7,902.1 L1109.3,900.7 L1109.9,899.3 L1110.6,897.9 L1111.2,896.5 L1111.8,895.1 L1112.4,893.7 L1113.0,892.3 L1113.6,890.9 L1114.2,889.5 L1114.7,888.1 L1115.3,886.7 L1115.9,885.3 L1116.4,883.8 L1117.0,882.4 L1117.6,881.0 L1118.1,879.6 L1118.6,878.2 L1119.2,876.7 L1119.7,875.3 L1120.2,873.9 L1120.7,872.5 L1121.2,871.0 L1121.7,869.6 L1122.2,868.2 L1122.7,866.8 L1123.2,865.3 L1123.7,863.9 L1124.2,862.5 L1124.6,861.0 L1125.1,859.6 L1125.5,858.2 L1126.0,856.7 L1126.4,855.3 L1126.9,853.9 L1127.3,852.4 L1127.7,851.0 L1128.2,849.5 L1128.6,848.1 L1129.0,846.6 L1129.4,845.2 L1129.8,843.8 L1130.2,842.3 L1130.6,840.9 L1131.0,839.4 L1131.4,838.0 L1131.8,836.5 L1132.2,835.1 L1132.5,833.6 L1132.9,832.2 L1133.3,830.7 L1133.6,829.3 L1134.0,827.8 L1134.4,826.4 L1134.7,824.9 L1135.1,823.5 L1135.4,822.0 L1135.7,820.6 L1136.1,819.1 L1136.4,817.7 L1136.7,816.2 L1137.1,814.7 L1137.4,813.3 L1137.7,811.8 L1138.0,810.4 L1138.3,808.9 L1138.6,807.5 L1138.9,806.0 L1139.3,804.5 L1139.6,803.1 L1139.9,801.6 L1140.2,800.2 L1140.4,798.7 L1140.7,797.2 L1141.0,795.8 L1141.3,794.3 L1141.6,792.9 L1141.9,791.4 L1142.2,789.9 L1142.4,788.5 L1142.7,787.0 L1143.0,785.6 L1143.3,784.1 L1143.5,782.7 L1143.8,781.2 L1144.1,779.7 L1144.3,778.3 L1144.6,776.8 L1144.8,775.4 L1145.1,773.9 L1145.4,772.4 L1145.6,771.0 L1145.9,769.5 L1146.1,768.1 L1146.4,766.6 L1146.6,765.1 L1146.9,763.7 L1147.1,762.2 L1147.4,760.8 L1147.7,759.3 L1147.9,757.9 L1148.2,756.4 L1148.4,754.9 L1148.7,753.5 L1148.9,752.0 L1149.2,750.6 L1149.4,749.1 L1149.7,747.7 L1149.9,746.2 L1150.2,744.8 L1150.4,743.3 L1150.7,741.9 L1150.9,740.4 L1151.2,739.0 L1151.5,737.5 L1151.7,736.1 L1152.0,734.6 L1152.3,733.2 L1152.5,731.7 L1152.8,730.3 L1153.1,728.8 L1153.4,727.4 L1153.7,725.9 L1154.0,724.5 L1154.3,723.0 L1154.6,721.6 L1154.9,720.1 L1155.2,718.7 L1155.5,717.3 L1155.8,715.8 L1156.1,714.4 L1156.5,712.9 L1156.8,711.5 L1157.2,710.0 L1157.5,708.6 L1157.9,707.2 L1158.2,705.7 L1158.6,704.3 L1159.0,702.9 L1159.3,701.4 L1159.7,700.0 L1160.1,698.6 L1160.5,697.1 L1160.9,695.7 L1161.3,694.3 L1161.8,692.8 L1162.2,691.4 L1162.6,690.0 L1163.1,688.5 L1163.5,687.1 L1164.0,685.7 L1164.4,684.3 L1164.9,682.8 L1165.4,681.4 L1165.8,680.0 L1166.3,678.6 L1166.8,677.1 L1167.3,675.7 L1167.8,674.3 L1168.3,672.9 L1168.8,671.5 L1169.4,670.0 L1169.9,668.6 L1170.4,667.2 L1171.0,665.8 L1171.5,664.4 L1172.1,663.0 L1172.6,661.6 L1173.2,660.1 L1173.7,658.7 L1174.3,657.3 L1174.9,655.9 L1175.4,654.5 L1176.0,653.1 L1176.6,651.7 L1177.2,650.3 L1177.8,648.9 L1178.4,647.5 L1179.0,646.1 L1179.6,644.7 L1180.3,643.3 L1180.9,641.9 L1181.5,640.5 L1182.1,639.1 L1182.8,637.7 L1183.4,636.3 L1184.0,634.9 L1184.7,633.5 L1185.3,632.2 L1186.0,630.8 L1186.6,629.4 L1187.3,628.0 L1188.0,626.6 L1188.6,625.2 L1189.3,623.9 L1190.0,622.5 L1190.7,621.1 L1191.4,619.7 L1192.0,618.3 L1192.7,617.0 L1193.4,615.6 L1194.1,614.2 L1194.8,612.9 L1195.5,611.5 L1196.2,610.1 L1196.9,608.7 L1197.6,607.4 L1198.4,606.0 L1199.1,604.7 L1199.8,603.3 L1200.5,601.9 L1201.2,600.6 L1202.0,599.2 L1202.7,597.9 L1203.4,596.5 L1204.2,595.2 L1204.9,593.8 L1205.6,592.5 L1206.4,591.1 L1207.1,589.8 L1207.9,588.4 L1208.6,587.1 L1209.4,585.7 L1210.1,584.4 L1210.9,583.1 L1211.6,581.7 L1212.4,580.4 L1213.2,579.0 L1213.9,577.7 L1214.7,576.4 L1215.4,575.1 L1216.2,573.7 L1217.0,572.4 L1217.7,571.1 L1218.5,569.7 L1219.3,568.4 L1220.0,567.1 L1220.8,565.8 L1221.6,564.5 L1222.3,563.2 L1223.1,561.8 L1223.9,560.5 L1224.6,559.2 L1225.4,557.9 L1226.2,556.6 L1226.9,555.3 L1227.7,554.0 L1228.5,552.7 L1229.2,551.4 L1230.0,550.1 L1230.7,548.8 L1231.5,547.5 L1232.3,546.2 L1233.0,544.9 L1233.8,543.6 L1234.5,542.3 L1235.2,541.1 L1236.0,539.8 L1236.7,538.5 L1237.5,537.2 L1238.2,535.9 L1238.9,534.6 L1239.6,533.4 L1240.4,532.1 L1241.1,530.8 L1241.8,529.5 L1242.5,528.3 L1243.2,527.0 L1243.9,525.7 L1244.6,524.5 L1245.3,523.2 L1246.0,521.9 L1246.7,520.7 L1247.4,519.4 L1248.0,518.2 L1248.7,516.9 L1249.4,515.7 L1250.0,514.4 L1250.7,513.2 L1251.3,511.9 L1252.0,510.7 L1252.6,509.4 L1253.2,508.1 L1253.9,506.9 L1254.5,505.6 L1255.2,504.3 L1255.9,503.1 L1256.8,502.0 L1257.7,500.9 L1258.7,499.8 L1259.8,498.8 L1260.9,497.8 L1262.0,496.8 L1263.2,495.8 L1264.4,494.8 L1265.6,493.8 L1266.7,492.8 L1267.9,491.8 L1269.1,490.8 L1270.3,489.8 L1271.5,488.9 L1272.7,487.9 L1273.9,486.9 L1275.1,485.9 L1276.3,485.0 L1277.5,484.0 L1278.7,483.1 L1279.9,482.1 L1281.1,481.2 L1282.4,480.2 L1283.6,479.3 L1284.8,478.4 L1286.0,477.4 L1287.3,476.5 L1288.5,475.6 L1289.7,474.7 L1291.0,473.8 L1292.2,472.9 L1293.4,472.0 L1294.7,471.1 L1295.9,470.2 L1297.2,469.3 L1298.4,468.4 L1299.7,467.5 L1300.9,466.6 L1302.2,465.8 L1303.5,464.9 L1304.7,464.0 L1306.0,463.2 L1307.3,462.3 L1308.5,461.5 L1309.8,460.7 L1311.1,459.8 L1312.4,459.0 L1313.7,458.2 L1314.9,457.4 L1316.2,456.5 L1317.5,455.7 L1318.8,454.9 L1320.1,454.1 L1321.4,453.3 L1322.7,452.5 L1324.0,451.8 L1325.3,451.0 L1326.6,450.2 L1327.9,449.4 L1329.2,448.7 L1330.5,447.9 L1331.8,447.2 L1333.2,446.4 L1334.5,445.7 L1335.8,445.0 L1337.1,444.2 L1338.4,443.5 L1339.8,442.8 L1341.1,442.1 L1342.4,441.4 L1343.8,440.7 L1345.1,440.0 L1346.4,439.3 L1347.8,438.6 L1349.1,437.9 L1350.5,437.3 L1351.8,436.6 L1353.1,435.9 L1354.5,435.3 L1355.8,434.6 L1357.2,434.0 L1358.6,433.4 L1359.9,432.7 L1361.3,432.1 L1362.6,431.5 L1364.0,430.9 L1365.4,430.3 L1366.7,429.7 L1368.1,429.1 L1369.5,428.5 L1370.8,428.0 L1372.2,427.4 L1373.6,426.8 L1375.0,426.3 L1376.3,425.7 L1377.7,425.2 L1379.1,424.6 L1380.5,424.1 L1381.9,423.6 L1383.3,423.0 L1384.6,422.5 L1386.0,422.0 L1387.4,421.5 L1388.8,421.0 L1390.2,420.5 L1391.6,420.1 L1393.0,419.6 L1394.4,419.1 L1395.8,418.6 L1397.2,418.2 L1398.6,417.7 L1400.0,417.3 L1401.4,416.8 L1402.9,416.4 L1404.3,416.0 L1405.7,415.5 L1407.1,415.1 L1408.5,414.7 L1409.9,414.3 L1411.3,413.9 L1412.8,413.5 L1414.2,413.1 L1415.6,412.7 L1417.0,412.3 L1418.5,411.9 L1419.9,411.5 L1421.3,411.1 L1422.7,410.8 L1424.2,410.4 L1425.6,410.0 L1427.0,409.7 L1428.5,409.3 L1429.9,409.0 L1431.4,408.6 L1432.8,408.3 L1434.2,407.9 L1435.7,407.6 L1437.1,407.3 L1438.6,406.9 L1440.0,406.6 L1441.5,406.3 L1442.9,406.0 L1444.4,405.7 L1445.8,405.4 L1447.3,405.1 L1448.7,404.8 L1450.2,404.5 L1451.6,404.2 L1453.1,403.9 L1454.5,403.6 L1456.0,403.3 L1457.4,403.0 L1458.9,402.7 L1460.4,402.5 L1461.8,402.2 L1463.3,401.9 L1464.7,401.6 L1466.2,401.4 L1467.7,401.1 L1469.1,400.9 L1470.6,400.6 L1472.1,400.3 L1473.5,400.1 L1475.0,399.8 L1476.5,399.6 L1478.0,399.3 L1479.4,399.1 L1480.9,398.8 L1482.4,398.6 L1483.9,398.4 L1485.3,398.1 L1486.8,397.9 L1488.3,397.6 L1489.8,397.4 L1491.2,397.2 L1492.7,396.9 L1494.2,396.7 L1495.7,396.5 L1497.2,396.3 L1498.7,396.0 L1500.1,395.8 L1501.6,395.6 L1503.1,395.4 L1504.6,395.1 L1506.1,394.9 L1507.6,394.7 L1509.1,394.5 L1510.7,394.3 L1512.2,394.1 L1513.7,393.8 L1515.2,393.6 L1516.7,393.4 L1518.2,393.2 L1519.7,393.0 L1521.2,392.8 L1522.7,392.6 L1524.2,392.4 L1525.8,392.2 L1527.3,391.9 L1528.8,391.7 L1530.3,391.5 L1531.8,391.3 L1533.3,391.1 L1534.8,390.9 L1536.4,390.7 L1537.9,390.5 L1539.4,390.3 L1540.9,390.1 L1542.4,389.9 L1543.9,389.7 L1545.5,389.5 L1547.0,389.3 L1548.5,389.1 L1550.0,389.0 L1551.5,388.8 L1553.1,388.6 L1554.6,388.4 L1556.1,388.2 L1557.6,388.0 L1559.1,387.8 L1560.7,387.6 L1562.2,387.4 L1563.7,387.2 L1565.2,387.1 L1566.8,386.9 L1568.3,386.7 L1569.8,386.5 L1571.3,386.3 L1572.9,386.2 L1574.4,386.0 L1575.9,385.8 L1577.4,385.6 L1579.0,385.4 L1580.5,385.3 L1582.0,385.1 L1583.6,384.9 L1585.1,384.7 L1586.6,384.6 L1588.1,384.4 L1589.7,384.2 L1591.2,384.0 L1592.7,383.9 L1594.3,383.7 L1595.8,383.5 L1597.3,383.4 L1598.8,383.2 L1600.4,383.0 L1601.9,382.9 L1603.4,382.7 L1605.0,382.5 L1606.5,382.4 L1608.0,382.2 L1609.6,382.1 L1611.1,381.9 L1612.6,381.7 L1614.2,381.6 L1615.7,381.4 L1617.2,381.3 L1618.8,381.1 L1620.3,380.9 L1621.8,380.8 L1623.4,380.6 L1624.9,380.5 L1626.4,380.3 L1628.0,380.2 L1629.5,380.0 L1631.0,379.9 L1632.6,379.7 L1634.1,379.6 L1635.6,379.4 L1637.1,379.3 L1638.7,379.1 L1640.2,379.0 L1641.7,378.8 L1643.3,378.7 L1644.8,378.5 L1646.3,378.4 L1647.9,378.2 L1649.4,378.1 L1650.9,378.0 L1652.5,377.8 L1654.0,377.7 L1655.5,377.5 L1657.1,377.4 L1658.6,377.3 L1660.1,377.1 L1661.7,377.0 L1663.2,376.8 L1664.7,376.7 L1666.3,376.6 L1667.8,376.4 L1669.3,376.3 L1670.9,376.2 L1672.4,376.0 L1673.9,375.9 L1675.5,375.8 L1677.0,375.6 L1678.5,375.5 L1680.1,375.4 L1681.6,375.2 L1683.1,375.1 L1684.7,375.0 L1686.2,374.9 L1687.7,374.7 L1689.3,374.6 L1690.8,374.5 L1692.3,374.4 L1693.8,374.2 L1695.4,374.1 L1696.9,374.0 L1698.4,373.9 L1700.0,373.7 L1701.5,373.6 L1703.0,373.5 L1704.5,373.4 L1706.1,373.3 L1707.6,373.1 L1709.1,373.0 L1710.7,372.9 L1712.2,372.8 L1713.7,372.7 L1715.2,372.5 L1716.8,372.4 L1718.3,372.3 L1719.8,372.2 L1721.3,372.1 L1722.9,372.0 L1724.4,371.8 L1725.9,371.7 L1727.4,371.6 L1729.0,371.5 L1730.5,371.4 L1732.0,371.3 L1733.5,371.2 L1735.0,371.1 L1736.6,371.0 L1738.1,370.8 L1739.6,370.7 L1741.1,370.6 L1742.6,370.5 L1744.2,370.4 L1745.7,370.3 L1747.2,370.2 L1748.7,370.1 L1750.2,370.0 L1751.7,369.9 L1753.3,369.8 L1754.8,369.7 L1756.3,369.6 L1757.8,369.5 L1759.3,369.4 L1760.8,369.3 L1762.3,369.2 L1763.9,369.1 L1765.4,369.0 L1766.9,368.9 L1768.4,368.8 L1769.9,368.7 L1771.4,368.6 L1772.9,368.5 L1774.4,368.4 L1775.9,368.3 L1777.4,368.2 L1779.0,368.1 L1780.5,368.0 L1782.0,367.9 L1783.5,367.8 L1785.0,367.7 L1786.5,367.6 L1788.0,367.5 L1789.5,367.4 L1791.0,367.3 L1792.5,367.2 L1794.0,367.1 L1795.5,367.0 L1797.0,366.9 L1798.5,366.8 L1800.0,366.7 L1801.5,366.7 L1803.0,366.6 L1804.5,366.5 L1806.0,366.4 L1807.5,366.3 L1808.9,366.2 L1810.4,366.1 L1811.9,366.0 L1813.4,365.9 L1814.9,365.8 L1816.4,365.8 L1817.9,365.7 L1819.4,365.6 L1820.9,365.5 L1822.4,365.4 L1823.8,365.3 L1825.3,365.2 L1826.8,365.1 L1828.3,365.1 L1829.8,365.0 L1831.3,364.9 L1832.7,364.8 L1834.2,364.7 L1835.7,364.6 L1837.2,364.6 L1838.6,364.5 L1840.1,364.4 L1841.6,364.3 L1843.1,364.2 L1844.5,364.1 L1846.0,364.1 L1847.5,364.0 L1849.0,363.9 L1850.4,363.9 L1851.7,363.9 L1852.9,363.9 L1855.8,364.0" fill="none" stroke="#ff3030" stroke-width="3.1" stroke-linejoin="round" stroke-linecap="round"/>
<path d="M446.3,1174.0 L449.2,1174.0 L450.4,1174.0 L451.8,1173.9 L453.2,1173.8 L454.7,1173.7 L456.1,1173.5 L457.6,1173.3 L459.1,1173.2 L460.5,1173.0 L462.0,1172.9 L463.5,1172.7 L464.9,1172.5 L466.4,1172.4 L467.9,1172.2 L469.4,1172.1 L470.8,1171.9 L472.3,1171.7 L473.8,1171.6 L475.2,1171.4 L476.7,1171.3 L478.2,1171.1 L479.7,1171.0 L481.2,1170.8 L482.6,1170.7 L484.1,1170.5 L485.6,1170.4 L487.1,1170.3 L488.6,1170.1 L490.1,1170.0 L491.6,1169.8 L493.0,1169.7 L494.5,1169.5 L496.0,1169.4 L497.5,1169.3 L499.0,1169.1 L500.5,1169.0 L502.0,1168.8 L503.5,1168.7 L505.0,1168.6 L506.5,1168.4 L508.0,1168.3 L509.5,1168.2 L511.0,1168.0 L512.5,1167.9 L514.0,1167.8 L515.5,1167.6 L517.0,1167.5 L518.5,1167.4 L520.0,1167.3 L521.5,1167.1 L523.0,1167.0 L524.5,1166.9 L526.0,1166.8 L527.5,1166.6 L529.0,1166.5 L530.5,1166.4 L532.0,1166.3 L533.5,1166.1 L535.0,1166.0 L536.5,1165.9 L538.0,1165.8 L539.5,1165.6 L541.1,1165.5 L542.6,1165.4 L544.1,1165.3 L545.6,1165.2 L547.1,1165.0 L548.6,1164.9 L550.1,1164.8 L551.7,1164.7 L553.2,1164.6 L554.7,1164.4 L556.2,1164.3 L557.7,1164.2 L559.2,1164.1 L560.8,1164.0 L562.3,1163.8 L563.8,1163.7 L565.3,1163.6 L566.8,1163.5 L568.4,1163.4 L569.9,1163.3 L571.4,1163.1 L572.9,1163.0 L574.5,1162.9 L576.0,1162.8 L577.5,1162.7 L579.0,1162.6 L580.6,1162.4 L582.1,1162.3 L583.6,1162.2 L585.1,1162.1 L586.7,1162.0 L588.2,1161.9 L589.7,1161.7 L591.2,1161.6 L592.8,1161.5 L594.3,1161.4 L595.8,1161.3 L597.4,1161.2 L598.9,1161.0 L600.4,1160.9 L601.9,1160.8 L603.5,1160.7 L605.0,1160.6 L606.5,1160.5 L608.1,1160.3 L609.6,1160.2 L611.1,1160.1 L612.7,1160.0 L614.2,1159.9 L615.7,1159.7 L617.3,1159.6 L618.8,1159.5 L620.3,1159.4 L621.9,1159.3 L623.4,1159.1 L624.9,1159.0 L626.5,1158.9 L628.0,1158.8 L629.5,1158.7 L631.1,1158.5 L632.6,1158.4 L634.1,1158.3 L635.7,1158.2 L637.2,1158.0 L638.7,1157.9 L640.3,1157.8 L641.8,1157.7 L643.3,1157.5 L644.9,1157.4 L646.4,1157.3 L647.9,1157.1 L649.5,1157.0 L651.0,1156.9 L652.5,1156.7 L654.1,1156.6 L655.6,1156.5 L657.2,1156.4 L658.7,1156.2 L660.2,1156.1 L661.8,1156.0 L663.3,1155.8 L664.8,1155.7 L666.4,1155.5 L667.9,1155.4 L669.4,1155.3 L671.0,1155.1 L672.5,1155.0 L674.0,1154.8 L675.6,1154.7 L677.1,1154.6 L678.6,1154.4 L680.2,1154.3 L681.7,1154.1 L683.2,1154.0 L684.8,1153.8 L686.3,1153.7 L687.9,1153.5 L689.4,1153.4 L690.9,1153.2 L692.5,1153.1 L694.0,1152.9 L695.5,1152.8 L697.1,1152.6 L698.6,1152.5 L700.1,1152.3 L701.6,1152.1 L703.2,1152.0 L704.7,1151.8 L706.2,1151.7 L707.8,1151.5 L709.3,1151.3 L710.8,1151.2 L712.4,1151.0 L713.9,1150.8 L715.4,1150.7 L717.0,1150.5 L718.5,1150.3 L720.0,1150.1 L721.5,1150.0 L723.1,1149.8 L724.6,1149.6 L726.1,1149.4 L727.6,1149.3 L729.2,1149.1 L730.7,1148.9 L732.2,1148.7 L733.8,1148.5 L735.3,1148.3 L736.8,1148.2 L738.3,1148.0 L739.8,1147.8 L741.4,1147.6 L742.9,1147.4 L744.4,1147.2 L745.9,1147.0 L747.5,1146.8 L749.0,1146.6 L750.5,1146.4 L752.0,1146.2 L753.5,1146.0 L755.1,1145.8 L756.6,1145.6 L758.1,1145.4 L759.6,1145.2 L761.1,1145.0 L762.6,1144.7 L764.2,1144.5 L765.7,1144.3 L767.2,1144.1 L768.7,1143.9 L770.2,1143.6 L771.7,1143.4 L773.2,1143.2 L774.8,1143.0 L776.3,1142.7 L777.8,1142.5 L779.3,1142.3 L780.8,1142.0 L782.3,1141.8 L783.8,1141.6 L785.3,1141.3 L786.8,1141.1 L788.3,1140.8 L789.8,1140.6 L791.3,1140.3 L792.8,1140.1 L794.3,1139.8 L795.8,1139.6 L797.3,1139.3 L798.8,1139.1 L800.3,1138.8 L801.8,1138.6 L803.3,1138.3 L804.8,1138.0 L806.3,1137.8 L807.7,1137.5 L809.2,1137.2 L810.7,1136.9 L812.2,1136.7 L813.6,1136.4 L815.1,1136.1 L816.6,1135.8 L818.1,1135.5 L819.5,1135.2 L821.0,1135.0 L822.5,1134.7 L823.9,1134.4 L825.4,1134.1 L826.9,1133.8 L828.3,1133.5 L829.8,1133.2 L831.2,1132.9 L832.7,1132.6 L834.2,1132.3 L835.6,1131.9 L837.1,1131.6 L838.5,1131.3 L840.0,1131.0 L841.5,1130.7 L842.9,1130.3 L844.4,1130.0 L845.8,1129.7 L847.3,1129.4 L848.7,1129.0 L850.2,1128.7 L851.6,1128.3 L853.1,1128.0 L854.5,1127.7 L856.0,1127.3 L857.4,1127.0 L858.9,1126.6 L860.3,1126.3 L861.7,1125.9 L863.2,1125.5 L864.6,1125.2 L866.1,1124.8 L867.5,1124.4 L868.9,1124.1 L870.4,1123.7 L871.8,1123.3 L873.2,1122.9 L874.7,1122.5 L876.1,1122.2 L877.5,1121.8 L878.9,1121.4 L880.4,1121.0 L881.8,1120.6 L883.2,1120.2 L884.6,1119.7 L886.1,1119.3 L887.5,1118.9 L888.9,1118.5 L890.3,1118.1 L891.7,1117.6 L893.1,1117.2 L894.6,1116.8 L896.0,1116.3 L897.4,1115.9 L898.8,1115.4 L900.2,1115.0 L901.6,1114.5 L903.0,1114.1 L904.4,1113.6 L905.8,1113.1 L907.2,1112.7 L908.6,1112.2 L910.0,1111.7 L911.4,1111.2 L912.8,1110.7 L914.1,1110.2 L915.5,1109.7 L916.9,1109.2 L918.3,1108.7 L919.7,1108.2 L921.1,1107.6 L922.4,1107.1 L923.8,1106.6 L925.2,1106.0 L926.6,1105.5 L927.9,1104.9 L929.3,1104.4 L930.7,1103.8 L932.0,1103.2 L933.4,1102.7 L934.8,1102.1 L936.1,1101.5 L937.5,1100.9 L938.8,1100.3 L940.2,1099.7 L941.5,1099.1 L942.9,1098.5 L944.2,1097.9 L945.6,1097.3 L946.9,1096.6 L948.2,1096.0 L949.6,1095.3 L950.9,1094.7 L952.3,1094.0 L953.6,1093.4 L954.9,1092.7 L956.2,1092.0 L957.6,1091.3 L958.9,1090.6 L960.2,1089.9 L961.5,1089.2 L962.8,1088.5 L964.2,1087.8 L965.5,1087.1 L966.8,1086.4 L968.1,1085.6 L969.4,1084.9 L970.7,1084.2 L972.0,1083.4 L973.3,1082.6 L974.6,1081.9 L975.9,1081.1 L977.2,1080.3 L978.4,1079.5 L979.7,1078.7 L981.0,1077.9 L982.3,1077.1 L983.6,1076.3 L984.8,1075.5 L986.1,1074.7 L987.4,1073.9 L988.6,1073.0 L989.9,1072.2 L991.2,1071.3 L992.4,1070.5 L993.7,1069.6 L994.9,1068.7 L996.2,1067.9 L997.4,1067.0 L998.7,1066.1 L999.9,1065.2 L1001.2,1064.3 L1002.4,1063.4 L1003.6,1062.5 L1004.9,1061.6 L1006.1,1060.7 L1007.3,1059.7 L1008.5,1058.8 L1009.7,1057.8 L1011.0,1056.9 L1012.2,1055.9 L1013.4,1055.0 L1014.6,1054.0 L1015.8,1053.0 L1017.0,1052.1 L1018.2,1051.1 L1019.4,1050.1 L1020.6,1049.1 L1021.8,1048.1 L1022.9,1047.1 L1024.1,1046.0 L1025.3,1045.0 L1026.5,1044.0 L1027.7,1043.0 L1028.8,1041.9 L1030.0,1040.9 L1031.1,1039.8 L1032.3,1038.8 L1033.5,1037.7 L1034.6,1036.6 L1035.7,1035.6 L1036.8,1034.6 L1037.8,1033.6 L1038.8,1032.6 L1039.8,1031.6 L1040.8,1030.6 L1041.8,1029.5 L1042.7,1028.4 L1043.7,1027.3 L1044.6,1026.2 L1045.6,1025.0 L1046.5,1023.9 L1047.4,1022.7 L1048.3,1021.5 L1049.2,1020.4 L1050.1,1019.2 L1051.0,1018.0 L1051.9,1016.8 L1052.8,1015.6 L1053.7,1014.5 L1054.6,1013.3 L1055.5,1012.1 L1056.3,1010.9 L1057.2,1009.7 L1058.1,1008.5 L1058.9,1007.2 L1059.8,1006.0 L1060.6,1004.8 L1061.4,1003.6 L1062.3,1002.4 L1063.1,1001.2 L1063.9,999.9 L1064.8,998.7 L1065.6,997.5 L1066.4,996.2 L1067.2,995.0 L1068.0,993.7 L1068.8,992.5 L1069.6,991.3 L1070.4,990.0 L1071.2,988.8 L1072.0,987.5 L1072.8,986.2 L1073.6,985.0 L1074.4,983.7 L1075.2,982.4 L1075.9,981.2 L1076.7,979.9 L1077.5,978.6 L1078.2,977.3 L1079.0,976.1 L1079.8,974.8 L1080.5,973.5 L1081.3,972.2 L1082.0,970.9 L1082.8,969.6 L1083.5,968.3 L1084.3,967.0 L1085.0,965.7 L1085.8,964.4 L1086.5,963.1 L1087.2,961.8 L1088.0,960.5 L1088.7,959.2 L1089.4,957.9 L1090.2,956.6 L1090.9,955.2 L1091.6,953.9 L1092.3,952.6 L1093.1,951.3 L1093.8,949.9 L1094.5,948.6 L1095.2,947.3 L1095.9,945.9 L1096.6,944.6 L1097.4,943.2 L1098.1,941.9 L1098.8,940.6 L1099.5,939.2 L1100.2,937.9 L1100.9,936.5 L1101.6,935.2 L1102.3,933.8 L1103.0,932.4 L1103.7,931.1 L1104.4,929.7 L1105.1,928.4 L1105.8,927.0 L1106.5,925.6 L1107.1,924.3 L1107.8,922.9 L1108.5,921.5 L1109.2,920.1 L1109.9,918.8 L1110.5,917.4 L1111.2,916.0 L1111.9,914.6 L1112.5,913.3 L1113.2,911.9 L1113.8,910.5 L1114.5,909.1 L1115.1,907.7 L1115.8,906.3 L1116.4,904.9 L1117.1,903.5 L1117.7,902.1 L1118.3,900.7 L1118.9,899.3 L1119.6,897.9 L1120.2,896.5 L1120.8,895.1 L1121.4,893.7 L1122.0,892.3 L1122.6,890.9 L1123.2,889.5 L1123.7,888.1 L1124.3,886.7 L1124.9,885.3 L1125.4,883.8 L1126.0,882.4 L1126.6,881.0 L1127.1,879.6 L1127.6,878.2 L1128.2,876.7 L1128.7,875.3 L1129.2,873.9 L1129.7,872.5 L1130.2,871.0 L1130.7,869.6 L1131.2,868.2 L1131.7,866.8 L1132.2,865.3 L1132.7,863.9 L1133.2,862.5 L1133.6,861.0 L1134.1,859.6 L1134.5,858.2 L1135.0,856.7 L1135.4,855.3 L1135.9,853.9 L1136.3,852.4 L1136.7,851.0 L1137.2,849.5 L1137.6,848.1 L1138.0,846.6 L1138.4,845.2 L1138.8,843.8 L1139.2,842.3 L1139.6,840.9 L1140.0,839.4 L1140.4,838.0 L1140.8,836.5 L1141.2,835.1 L1141.5,833.6 L1141.9,832.2 L1142.3,830.7 L1142.6,829.3 L1143.0,827.8 L1143.4,826.4 L1143.7,824.9 L1144.1,823.5 L1144.4,822.0 L1144.7,820.6 L1145.1,819.1 L1145.4,817.7 L1145.7,816.2 L1146.1,814.7 L1146.4,813.3 L1146.7,811.8 L1147.0,810.4 L1147.3,808.9 L1147.6,807.5 L1147.9,806.0 L1148.3,804.5 L1148.6,803.1 L1148.9,801.6 L1149.2,800.2 L1149.4,798.7 L1149.7,797.2 L1150.0,795.8 L1150.3,794.3 L1150.6,792.9 L1150.9,791.4 L1151.2,789.9 L1151.4,788.5 L1151.7,787.0 L1152.0,785.6 L1152.3,784.1 L1152.5,782.7 L1152.8,781.2 L1153.1,779.7 L1153.3,778.3 L1153.6,776.8 L1153.8,775.4 L1154.1,773.9 L1154.4,772.4 L1154.6,771.0 L1154.9,769.5 L1155.1,768.1 L1155.4,766.6 L1155.6,765.1 L1155.9,763.7 L1156.1,762.2 L1156.4,760.8 L1156.7,759.3 L1156.9,757.9 L1157.2,756.4 L1157.4,754.9 L1157.7,753.5 L1157.9,752.0 L1158.2,750.6 L1158.4,749.1 L1158.7,747.7 L1158.9,746.2 L1159.2,744.8 L1159.4,743.3 L1159.7,741.9 L1159.9,740.4 L1160.2,739.0 L1160.5,737.5 L1160.7,736.1 L1161.0,734.6 L1161.3,733.2 L1161.5,731.7 L1161.8,730.3 L1162.1,728.8 L1162.4,727.4 L1162.7,725.9 L1163.0,724.5 L1163.3,723.0 L1163.6,721.6 L1163.9,720.1 L1164.2,718.7 L1164.5,717.3 L1164.8,715.8 L1165.1,714.4 L1165.5,712.9 L1165.8,711.5 L1166.2,710.0 L1166.5,708.6 L1166.9,707.2 L1167.2,705.7 L1167.6,704.3 L1168.0,702.9 L1168.3,701.4 L1168.7,700.0 L1169.1,698.6 L1169.5,697.1 L1169.9,695.7 L1170.3,694.3 L1170.8,692.8 L1171.2,691.4 L1171.6,690.0 L1172.1,688.5 L1172.5,687.1 L1173.0,685.7 L1173.4,684.3 L1173.9,682.8 L1174.4,681.4 L1174.8,680.0 L1175.3,678.6 L1175.8,677.1 L1176.3,675.7 L1176.8,674.3 L1177.3,672.9 L1177.8,671.5 L1178.4,670.0 L1178.9,668.6 L1179.4,667.2 L1180.0,665.8 L1180.5,664.4 L1181.1,663.0 L1181.6,661.6 L1182.2,660.1 L1182.7,658.7 L1183.3,657.3 L1183.9,655.9 L1184.4,654.5 L1185.0,653.1 L1185.6,651.7 L1186.2,650.3 L1186.8,648.9 L1187.4,647.5 L1188.0,646.1 L1188.6,644.7 L1189.3,643.3 L1189.9,641.9 L1190.5,640.5 L1191.1,639.1 L1191.8,637.7 L1192.4,636.3 L1193.0,634.9 L1193.7,633.5 L1194.3,632.2 L1195.0,630.8 L1195.6,629.4 L1196.3,628.0 L1197.0,626.6 L1197.6,625.2 L1198.3,623.9 L1199.0,622.5 L1199.7,621.1 L1200.4,619.7 L1201.0,618.3 L1201.7,617.0 L1202.4,615.6 L1203.1,614.2 L1203.8,612.9 L1204.5,611.5 L1205.2,610.1 L1205.9,608.7 L1206.6,607.4 L1207.4,606.0 L1208.1,604.7 L1208.8,603.3 L1209.5,601.9 L1210.2,600.6 L1211.0,599.2 L1211.7,597.9 L1212.4,596.5 L1213.2,595.2 L1213.9,593.8 L1214.6,592.5 L1215.4,591.1 L1216.1,589.8 L1216.9,588.4 L1217.6,587.1 L1218.4,585.7 L1219.1,584.4 L1219.9,583.1 L1220.6,581.7 L1221.4,580.4 L1222.2,579.0 L1222.9,577.7 L1223.7,576.4 L1224.4,575.1 L1225.2,573.7 L1226.0,572.4 L1226.7,571.1 L1227.5,569.7 L1228.3,568.4 L1229.0,567.1 L1229.8,565.8 L1230.6,564.5 L1231.3,563.2 L1232.1,561.8 L1232.9,560.5 L1233.6,559.2 L1234.4,557.9 L1235.2,556.6 L1235.9,555.3 L1236.7,554.0 L1237.5,552.7 L1238.2,551.4 L1239.0,550.1 L1239.7,548.8 L1240.5,547.5 L1241.3,546.2 L1242.0,544.9 L1242.8,543.6 L1243.5,542.3 L1244.2,541.1 L1245.0,539.8 L1245.7,538.5 L1246.5,537.2 L1247.2,535.9 L1247.9,534.6 L1248.6,533.4 L1249.4,532.1 L1250.1,530.8 L1250.8,529.5 L1251.5,528.3 L1252.2,527.0 L1252.9,525.7 L1253.6,524.5 L1254.3,523.2 L1255.0,521.9 L1255.7,520.7 L1256.4,519.4 L1257.0,518.2 L1257.7,516.9 L1258.4,515.7 L1259.0,514.4 L1259.7,513.2 L1260.3,511.9 L1261.0,510.7 L1261.6,509.4 L1262.2,508.1 L1262.9,506.9 L1263.5,505.6 L1264.2,504.3 L1264.9,503.1 L1265.8,502.0 L1266.7,500.9 L1267.7,499.8 L1268.8,498.8 L1269.9,497.8 L1271.0,496.8 L1272.2,495.8 L1273.4,494.8 L1274.6,493.8 L1275.7,492.8 L1276.9,491.8 L1278.1,490.8 L1279.3,489.8 L1280.5,488.9 L1281.7,487.9 L1282.9,486.9 L1284.1,485.9 L1285.3,485.0 L1286.5,484.0 L1287.7,483.1 L1288.9,482.1 L1290.1,481.2 L1291.4,480.2 L1292.6,479.3 L1293.8,478.4 L1295.0,477.4 L1296.3,476.5 L1297.5,475.6 L1298.7,474.7 L1300.0,473.8 L1301.2,472.9 L1302.4,472.0 L1303.7,471.1 L1304.9,470.2 L1306.2,469.3 L1307.4,468.4 L1308.7,467.5 L1309.9,466.6 L1311.2,465.8 L1312.5,464.9 L1313.7,464.0 L1315.0,463.2 L1316.3,462.3 L1317.5,461.5 L1318.8,460.7 L1320.1,459.8 L1321.4,459.0 L1322.7,458.2 L1323.9,457.4 L1325.2,456.5 L1326.5,455.7 L1327.8,454.9 L1329.1,454.1 L1330.4,453.3 L1331.7,452.5 L1333.0,451.8 L1334.3,451.0 L1335.6,450.2 L1336.9,449.4 L1338.2,448.7 L1339.5,447.9 L1340.8,447.2 L1342.2,446.4 L1343.5,445.7 L1344.8,445.0 L1346.1,444.2 L1347.4,443.5 L1348.8,442.8 L1350.1,442.1 L1351.4,441.4 L1352.8,440.7 L1354.1,440.0 L1355.4,439.3 L1356.8,438.6 L1358.1,437.9 L1359.5,437.3 L1360.8,436.6 L1362.1,435.9 L1363.5,435.3 L1364.8,434.6 L1366.2,434.0 L1367.6,433.4 L1368.9,432.7 L1370.3,432.1 L1371.6,431.5 L1373.0,430.9 L1374.4,430.3 L1375.7,429.7 L1377.1,429.1 L1378.5,428.5 L1379.8,428.0 L1381.2,427.4 L1382.6,426.8 L1384.0,426.3 L1385.3,425.7 L1386.7,425.2 L1388.1,424.6 L1389.5,424.1 L1390.9,423.6 L1392.3,423.0 L1393.6,422.5 L1395.0,422.0 L1396.4,421.5 L1397.8,421.0 L1399.2,420.5 L1400.6,420.1 L1402.0,419.6 L1403.4,419.1 L1404.8,418.6 L1406.2,418.2 L1407.6,417.7 L1409.0,417.3 L1410.4,416.8 L1411.9,416.4 L1413.3,416.0 L1414.7,415.5 L1416.1,415.1 L1417.5,414.7 L1418.9,414.3 L1420.3,413.9 L1421.8,413.5 L1423.2,413.1 L1424.6,412.7 L1426.0,412.3 L1427.5,411.9 L1428.9,411.5 L1430.3,411.1 L1431.7,410.8 L1433.2,410.4 L1434.6,410.0 L1436.0,409.7 L1437.5,409.3 L1438.9,409.0 L1440.4,408.6 L1441.8,408.3 L1443.2,407.9 L1444.7,407.6 L1446.1,407.3 L1447.6,406.9 L1449.0,406.6 L1450.5,406.3 L1451.9,406.0 L1453.4,405.7 L1454.8,405.4 L1456.3,405.1 L1457.7,404.8 L1459.2,404.5 L1460.6,404.2 L1462.1,403.9 L1463.5,403.6 L1465.0,403.3 L1466.4,403.0 L1467.9,402.7 L1469.4,402.5 L1470.8,402.2 L1472.3,401.9 L1473.7,401.6 L1475.2,401.4 L1476.7,401.1 L1478.1,400.9 L1479.6,400.6 L1481.1,400.3 L1482.5,400.1 L1484.0,399.8 L1485.5,399.6 L1487.0,399.3 L1488.4,399.1 L1489.9,398.8 L1491.4,398.6 L1492.9,398.4 L1494.3,398.1 L1495.8,397.9 L1497.3,397.6 L1498.8,397.4 L1500.2,397.2 L1501.7,396.9 L1503.2,396.7 L1504.7,396.5 L1506.2,396.3 L1507.7,396.0 L1509.1,395.8 L1510.6,395.6 L1512.1,395.4 L1513.5,395.1 L1515.0,394.9 L1516.5,394.7 L1517.9,394.5 L1519.4,394.3 L1520.9,394.1 L1522.4,393.8 L1523.8,393.6 L1525.3,393.4 L1526.8,393.2 L1528.2,393.0 L1529.7,392.8 L1531.2,392.6 L1532.7,392.4 L1534.1,392.2 L1535.6,391.9 L1537.1,391.7 L1538.6,391.5 L1540.0,391.3 L1541.5,391.1 L1543.0,390.9 L1544.5,390.7 L1545.9,390.5 L1547.4,390.3 L1548.9,390.1 L1550.4,389.9 L1551.9,389.7 L1553.3,389.5 L1554.8,389.3 L1556.3,389.1 L1557.8,389.0 L1559.3,388.8 L1560.7,388.6 L1562.2,388.4 L1563.7,388.2 L1565.2,388.0 L1566.7,387.8 L1568.2,387.6 L1569.6,387.4 L1571.1,387.2 L1572.6,387.1 L1574.1,386.9 L1575.6,386.7 L1577.1,386.5 L1578.6,386.3 L1580.0,386.2 L1581.5,386.0 L1583.0,385.8 L1584.5,385.6 L1586.0,385.4 L1587.5,385.3 L1589.0,385.1 L1590.5,384.9 L1592.0,384.7 L1593.4,384.6 L1594.9,384.4 L1596.4,384.2 L1597.9,384.0 L1599.4,383.9 L1600.9,383.7 L1602.4,383.5 L1603.9,383.4 L1605.4,383.2 L1606.9,383.0 L1608.4,382.9 L1609.8,382.7 L1611.3,382.5 L1612.8,382.4 L1614.3,382.2 L1615.8,382.1 L1617.3,381.9 L1618.8,381.7 L1620.3,381.6 L1621.8,381.4 L1623.3,381.3 L1624.8,381.1 L1626.3,380.9 L1627.8,380.8 L1629.3,380.6 L1630.7,380.5 L1632.2,380.3 L1633.7,380.2 L1635.2,380.0 L1636.7,379.9 L1638.2,379.7 L1639.7,379.6 L1641.2,379.4 L1642.7,379.3 L1644.2,379.1 L1645.7,379.0 L1647.2,378.8 L1648.7,378.7 L1650.2,378.5 L1651.7,378.4 L1653.2,378.2 L1654.7,378.1 L1656.1,378.0 L1657.6,377.8 L1659.1,377.7 L1660.6,377.5 L1662.1,377.4 L1663.6,377.3 L1665.1,377.1 L1666.6,377.0 L1668.1,376.8 L1669.6,376.7 L1671.1,376.6 L1672.6,376.4 L1674.1,376.3 L1675.6,376.2 L1677.1,376.0 L1678.6,375.9 L1680.1,375.8 L1681.5,375.6 L1683.0,375.5 L1684.5,375.4 L1686.0,375.2 L1687.5,375.1 L1689.0,375.0 L1690.5,374.9 L1692.0,374.7 L1693.5,374.6 L1695.0,374.5 L1696.5,374.4 L1698.0,374.2 L1699.4,374.1 L1700.9,374.0 L1702.4,373.9 L1703.9,373.7 L1705.4,373.6 L1706.9,373.5 L1708.4,373.4 L1709.9,373.3 L1711.4,373.1 L1712.9,373.0 L1714.3,372.9 L1715.8,372.8 L1717.3,372.7 L1718.8,372.5 L1720.3,372.4 L1721.8,372.3 L1723.3,372.2 L1724.7,372.1 L1726.2,372.0 L1727.7,371.8 L1729.2,371.7 L1730.7,371.6 L1732.2,371.5 L1733.7,371.4 L1735.1,371.3 L1736.6,371.2 L1738.1,371.1 L1739.6,371.0 L1741.1,370.8 L1742.6,370.7 L1744.0,370.6 L1745.5,370.5 L1747.0,370.4 L1748.5,370.3 L1750.0,370.2 L1751.4,370.1 L1752.9,370.0 L1754.4,369.9 L1755.9,369.8 L1757.3,369.7 L1758.8,369.6 L1760.3,369.5 L1761.8,369.4 L1763.2,369.3 L1764.7,369.2 L1766.2,369.1 L1767.7,369.0 L1769.1,368.9 L1770.6,368.8 L1772.1,368.7 L1773.6,368.6 L1775.0,368.5 L1776.5,368.4 L1778.0,368.3 L1779.4,368.2 L1780.9,368.1 L1782.4,368.0 L1783.8,367.9 L1785.3,367.8 L1786.8,367.7 L1788.2,367.6 L1789.7,367.5 L1791.2,367.4 L1792.6,367.3 L1794.1,367.2 L1795.6,367.1 L1797.0,367.0 L1798.5,366.9 L1799.9,366.8 L1801.4,366.7 L1802.9,366.7 L1804.3,366.6 L1805.8,366.5 L1807.2,366.4 L1808.7,366.3 L1810.1,366.2 L1811.6,366.1 L1813.0,366.0 L1814.5,365.9 L1815.9,365.8 L1817.4,365.8 L1818.9,365.7 L1820.3,365.6 L1821.8,365.5 L1823.2,365.4 L1824.6,365.3 L1826.1,365.2 L1827.5,365.1 L1829.0,365.1 L1830.4,365.0 L1831.9,364.9 L1833.3,364.8 L1834.8,364.7 L1836.2,364.6 L1837.6,364.6 L1839.1,364.5 L1840.5,364.4 L1842.0,364.3 L1843.4,364.2 L1844.8,364.1 L1846.3,364.1 L1847.7,364.0 L1849.1,363.9 L1850.5,363.9 L1851.8,363.9 L1853.0,363.9 L1855.8,364.0" fill="none" stroke="#ff3030" stroke-width="3.1" stroke-linejoin="round" stroke-linecap="round"/>
<path d="M446.3,1127.0 L449.1,1126.8 L450.2,1126.7 L451.5,1126.7 L452.9,1126.6 L454.3,1126.6 L455.8,1126.6 L457.2,1126.5 L458.7,1126.5 L460.1,1126.5 L461.5,1126.4 L463.0,1126.4 L464.4,1126.4 L465.9,1126.3 L467.3,1126.3 L468.7,1126.3 L470.2,1126.2 L471.6,1126.2 L473.1,1126.2 L474.5,1126.1 L476.0,1126.1 L477.4,1126.1 L478.9,1126.0 L480.3,1126.0 L481.8,1126.0 L483.2,1125.9 L484.7,1125.9 L486.1,1125.8 L487.6,1125.8 L489.0,1125.8 L490.5,1125.7 L491.9,1125.7 L493.4,1125.6 L494.9,1125.6 L496.3,1125.6 L497.8,1125.5 L499.2,1125.5 L500.7,1125.4 L502.2,1125.4 L503.6,1125.3 L505.1,1125.3 L506.6,1125.2 L508.0,1125.2 L509.5,1125.1 L510.9,1125.1 L512.4,1125.1 L513.9,1125.0 L515.3,1125.0 L516.8,1124.9 L518.3,1124.9 L519.8,1124.8 L521.2,1124.8 L522.7,1124.7 L524.2,1124.7 L525.6,1124.6 L527.1,1124.5 L528.6,1124.5 L530.1,1124.4 L531.5,1124.4 L533.0,1124.3 L534.5,1124.3 L536.0,1124.2 L537.4,1124.2 L538.9,1124.1 L540.4,1124.1 L541.9,1124.0 L543.4,1123.9 L544.8,1123.9 L546.3,1123.8 L547.8,1123.8 L549.3,1123.7 L550.8,1123.6 L552.2,1123.6 L553.7,1123.5 L555.2,1123.5 L556.7,1123.4 L558.2,1123.3 L559.7,1123.3 L561.1,1123.2 L562.6,1123.1 L564.1,1123.1 L565.6,1123.0 L567.1,1123.0 L568.6,1122.9 L570.1,1122.8 L571.6,1122.8 L573.0,1122.7 L574.5,1122.6 L576.0,1122.6 L577.5,1122.5 L579.0,1122.4 L580.5,1122.4 L582.0,1122.3 L583.5,1122.2 L585.0,1122.2 L586.5,1122.1 L588.0,1122.0 L589.4,1121.9 L590.9,1121.9 L592.4,1121.8 L593.9,1121.7 L595.4,1121.7 L596.9,1121.6 L598.4,1121.5 L599.9,1121.4 L601.4,1121.4 L602.9,1121.3 L604.4,1121.2 L605.9,1121.1 L607.4,1121.1 L608.9,1121.0 L610.4,1120.9 L611.9,1120.8 L613.4,1120.8 L614.9,1120.7 L616.4,1120.6 L617.9,1120.5 L619.4,1120.5 L620.9,1120.4 L622.4,1120.3 L623.9,1120.2 L625.4,1120.1 L626.9,1120.1 L628.4,1120.0 L629.9,1119.9 L631.4,1119.8 L632.9,1119.7 L634.4,1119.7 L635.9,1119.6 L637.4,1119.5 L638.9,1119.4 L640.4,1119.3 L641.9,1119.2 L643.4,1119.2 L644.9,1119.1 L646.4,1119.0 L647.9,1118.9 L649.4,1118.8 L650.9,1118.7 L652.4,1118.6 L653.9,1118.6 L655.4,1118.5 L656.9,1118.4 L658.4,1118.3 L659.9,1118.2 L661.4,1118.1 L662.9,1118.0 L664.4,1117.9 L665.9,1117.9 L667.4,1117.8 L668.9,1117.7 L670.4,1117.6 L671.9,1117.5 L673.4,1117.4 L674.9,1117.3 L676.4,1117.2 L677.9,1117.1 L679.4,1117.0 L680.9,1117.0 L682.4,1116.9 L683.9,1116.8 L685.4,1116.7 L686.9,1116.6 L688.4,1116.5 L689.9,1116.4 L691.4,1116.3 L692.9,1116.2 L694.4,1116.1 L695.9,1116.0 L697.4,1115.9 L698.9,1115.8 L700.4,1115.7 L701.9,1115.6 L703.4,1115.5 L704.9,1115.5 L706.4,1115.4 L707.9,1115.3 L709.4,1115.2 L710.9,1115.1 L712.3,1115.0 L713.8,1114.9 L715.3,1114.8 L716.8,1114.7 L718.3,1114.6 L719.8,1114.5 L721.3,1114.4 L722.8,1114.3 L724.3,1114.2 L725.8,1114.1 L727.3,1114.0 L728.8,1113.9 L730.3,1113.8 L731.8,1113.7 L733.3,1113.6 L734.8,1113.5 L736.3,1113.4 L737.8,1113.3 L739.3,1113.2 L740.7,1113.0 L742.2,1112.9 L743.7,1112.8 L745.2,1112.7 L746.7,1112.6 L748.2,1112.5 L749.7,1112.4 L751.2,1112.3 L752.7,1112.2 L754.2,1112.1 L755.6,1111.9 L757.1,1111.8 L758.6,1111.7 L760.1,1111.6 L761.6,1111.5 L763.1,1111.4 L764.6,1111.2 L766.0,1111.1 L767.5,1111.0 L769.0,1110.9 L770.5,1110.8 L772.0,1110.6 L773.5,1110.5 L774.9,1110.4 L776.4,1110.2 L777.9,1110.1 L779.4,1110.0 L780.9,1109.8 L782.3,1109.7 L783.8,1109.6 L785.3,1109.4 L786.8,1109.3 L788.3,1109.2 L789.7,1109.0 L791.2,1108.9 L792.7,1108.7 L794.2,1108.6 L795.7,1108.4 L797.2,1108.3 L798.7,1108.1 L800.2,1108.0 L801.7,1107.8 L803.1,1107.7 L804.6,1107.5 L806.1,1107.3 L807.6,1107.2 L809.1,1107.0 L810.6,1106.9 L812.1,1106.7 L813.6,1106.5 L815.0,1106.3 L816.5,1106.2 L818.0,1106.0 L819.5,1105.8 L821.0,1105.6 L822.5,1105.4 L823.9,1105.3 L825.4,1105.1 L826.9,1104.9 L828.4,1104.7 L829.9,1104.5 L831.3,1104.3 L832.8,1104.1 L834.3,1103.9 L835.8,1103.7 L837.2,1103.5 L838.7,1103.3 L840.2,1103.0 L841.7,1102.8 L843.1,1102.6 L844.6,1102.4 L846.1,1102.1 L847.5,1101.9 L849.0,1101.7 L850.5,1101.4 L851.9,1101.2 L853.4,1101.0 L854.9,1100.7 L856.3,1100.5 L857.8,1100.2 L859.2,1099.9 L860.7,1099.7 L862.2,1099.4 L863.6,1099.1 L865.1,1098.9 L866.5,1098.6 L868.0,1098.3 L869.4,1098.0 L870.9,1097.7 L872.3,1097.4 L873.8,1097.1 L875.3,1096.8 L876.7,1096.5 L878.2,1096.2 L879.6,1095.9 L881.0,1095.6 L882.5,1095.3 L883.9,1095.0 L885.4,1094.6 L886.8,1094.3 L888.3,1093.9 L889.7,1093.6 L891.1,1093.3 L892.6,1092.9 L894.0,1092.6 L895.5,1092.2 L896.9,1091.8 L898.3,1091.5 L899.8,1091.1 L901.2,1090.7 L902.6,1090.3 L904.0,1089.9 L905.5,1089.5 L906.9,1089.1 L908.3,1088.7 L909.7,1088.3 L911.2,1087.9 L912.6,1087.5 L914.0,1087.1 L915.4,1086.7 L916.8,1086.2 L918.2,1085.8 L919.7,1085.3 L921.1,1084.9 L922.5,1084.5 L923.9,1084.0 L925.3,1083.5 L926.7,1083.1 L928.1,1082.6 L929.5,1082.1 L930.9,1081.6 L932.3,1081.1 L933.7,1080.6 L935.1,1080.1 L936.5,1079.6 L937.9,1079.1 L939.3,1078.6 L940.7,1078.1 L942.0,1077.5 L943.4,1077.0 L944.8,1076.5 L946.2,1075.9 L947.6,1075.3 L948.9,1074.8 L950.3,1074.2 L951.7,1073.6 L953.1,1073.1 L954.4,1072.5 L955.8,1071.9 L957.2,1071.3 L958.5,1070.7 L959.9,1070.0 L961.3,1069.4 L962.6,1068.8 L964.0,1068.1 L965.3,1067.5 L966.7,1066.8 L968.0,1066.2 L969.4,1065.5 L970.7,1064.8 L972.1,1064.1 L973.4,1063.4 L974.8,1062.7 L976.1,1062.0 L977.4,1061.3 L978.8,1060.6 L980.1,1059.9 L981.4,1059.1 L982.8,1058.4 L984.1,1057.6 L985.4,1056.9 L986.7,1056.1 L988.0,1055.3 L989.4,1054.6 L990.7,1053.8 L992.0,1053.0 L993.3,1052.2 L994.6,1051.4 L995.9,1050.5 L997.2,1049.7 L998.5,1048.9 L999.8,1048.0 L1001.1,1047.2 L1002.4,1046.3 L1003.7,1045.5 L1005.0,1044.6 L1006.3,1043.7 L1007.5,1042.8 L1008.8,1041.9 L1010.1,1041.0 L1011.4,1040.1 L1012.6,1039.2 L1013.9,1038.2 L1015.2,1037.3 L1016.4,1036.4 L1017.7,1035.4 L1019.0,1034.4 L1020.2,1033.5 L1021.4,1032.5 L1022.6,1031.5 L1023.8,1030.6 L1024.9,1029.6 L1025.9,1028.6 L1026.9,1027.6 L1027.8,1026.6 L1028.7,1025.5 L1029.7,1024.4 L1030.6,1023.3 L1031.5,1022.1 L1032.4,1021.0 L1033.4,1019.8 L1034.3,1018.6 L1035.2,1017.5 L1036.1,1016.3 L1037.0,1015.1 L1037.9,1014.0 L1038.8,1012.8 L1039.7,1011.6 L1040.5,1010.4 L1041.4,1009.2 L1042.3,1008.0 L1043.2,1006.8 L1044.0,1005.6 L1044.9,1004.4 L1045.8,1003.2 L1046.6,1002.0 L1047.5,1000.8 L1048.4,999.6 L1049.2,998.4 L1050.0,997.2 L1050.9,995.9 L1051.7,994.7 L1052.6,993.5 L1053.4,992.3 L1054.2,991.0 L1055.1,989.8 L1055.9,988.6 L1056.7,987.3 L1057.5,986.1 L1058.3,984.8 L1059.2,983.6 L1060.0,982.3 L1060.8,981.1 L1061.6,979.8 L1062.4,978.6 L1063.2,977.3 L1064.0,976.0 L1064.8,974.8 L1065.6,973.5 L1066.4,972.2 L1067.1,970.9 L1067.9,969.7 L1068.7,968.4 L1069.5,967.1 L1070.3,965.8 L1071.1,964.5 L1071.8,963.2 L1072.6,961.9 L1073.4,960.7 L1074.1,959.4 L1074.9,958.1 L1075.7,956.8 L1076.4,955.5 L1077.2,954.1 L1077.9,952.8 L1078.7,951.5 L1079.4,950.2 L1080.2,948.9 L1080.9,947.6 L1081.7,946.3 L1082.4,944.9 L1083.2,943.6 L1083.9,942.3 L1084.7,941.0 L1085.4,939.6 L1086.1,938.3 L1086.9,937.0 L1087.6,935.6 L1088.3,934.3 L1089.1,932.9 L1089.8,931.6 L1090.5,930.2 L1091.2,928.9 L1092.0,927.5 L1092.7,926.2 L1093.4,924.8 L1094.1,923.5 L1094.8,922.1 L1095.5,920.8 L1096.2,919.4 L1096.9,918.0 L1097.6,916.7 L1098.3,915.3 L1099.0,913.9 L1099.7,912.6 L1100.4,911.2 L1101.1,909.8 L1101.7,908.5 L1102.4,907.1 L1103.1,905.7 L1103.7,904.3 L1104.4,902.9 L1105.0,901.6 L1105.7,900.2 L1106.3,898.8 L1107.0,897.4 L1107.6,896.0 L1108.2,894.6 L1108.8,893.2 L1109.5,891.8 L1110.1,890.4 L1110.7,889.0 L1111.3,887.6 L1111.9,886.2 L1112.4,884.8 L1113.0,883.4 L1113.6,882.0 L1114.2,880.6 L1114.7,879.2 L1115.3,877.8 L1115.8,876.4 L1116.4,875.0 L1116.9,873.6 L1117.4,872.1 L1118.0,870.7 L1118.5,869.3 L1119.0,867.9 L1119.5,866.5 L1120.0,865.1 L1120.5,863.6 L1121.0,862.2 L1121.5,860.8 L1121.9,859.4 L1122.4,857.9 L1122.9,856.5 L1123.3,855.1 L1123.8,853.6 L1124.3,852.2 L1124.7,850.8 L1125.1,849.3 L1125.6,847.9 L1126.0,846.5 L1126.4,845.0 L1126.9,843.6 L1127.3,842.2 L1127.7,840.7 L1128.1,839.3 L1128.5,837.9 L1128.9,836.4 L1129.3,835.0 L1129.7,833.5 L1130.1,832.1 L1130.5,830.6 L1130.8,829.2 L1131.2,827.7 L1131.6,826.3 L1132.0,824.9 L1132.3,823.4 L1132.7,822.0 L1133.1,820.5 L1133.4,819.1 L1133.8,817.6 L1134.1,816.2 L1134.5,814.7 L1134.8,813.2 L1135.1,811.8 L1135.5,810.3 L1135.8,808.9 L1136.2,807.4 L1136.5,806.0 L1136.8,804.5 L1137.1,803.1 L1137.5,801.6 L1137.8,800.1 L1138.1,798.7 L1138.4,797.2 L1138.7,795.8 L1139.0,794.3 L1139.4,792.9 L1139.7,791.4 L1140.0,789.9 L1140.3,788.5 L1140.6,787.0 L1140.9,785.6 L1141.2,784.1 L1141.5,782.6 L1141.8,781.2 L1142.1,779.7 L1142.4,778.2 L1142.7,776.8 L1143.0,775.3 L1143.3,773.9 L1143.6,772.4 L1143.9,770.9 L1144.2,769.5 L1144.4,768.0 L1144.7,766.5 L1145.0,765.1 L1145.3,763.6 L1145.6,762.2 L1145.9,760.7 L1146.2,759.2 L1146.5,757.8 L1146.8,756.3 L1147.1,754.8 L1147.4,753.4 L1147.7,751.9 L1147.9,750.5 L1148.2,749.0 L1148.5,747.5 L1148.8,746.1 L1149.1,744.6 L1149.4,743.2 L1149.7,741.7 L1150.0,740.2 L1150.3,738.8 L1150.6,737.3 L1150.9,735.9 L1151.2,734.4 L1151.5,732.9 L1151.8,731.5 L1152.1,730.0 L1152.5,728.6 L1152.8,727.1 L1153.1,725.6 L1153.4,724.2 L1153.7,722.7 L1154.0,721.3 L1154.4,719.8 L1154.7,718.4 L1155.0,716.9 L1155.3,715.5 L1155.7,714.0 L1156.0,712.6 L1156.3,711.1 L1156.7,709.7 L1157.0,708.2 L1157.4,706.8 L1157.7,705.3 L1158.1,703.9 L1158.4,702.4 L1158.8,701.0 L1159.2,699.5 L1159.5,698.1 L1159.9,696.6 L1160.3,695.2 L1160.6,693.7 L1161.0,692.3 L1161.4,690.9 L1161.8,689.4 L1162.2,688.0 L1162.6,686.5 L1163.0,685.1 L1163.4,683.7 L1163.8,682.2 L1164.2,680.8 L1164.6,679.4 L1165.0,677.9 L1165.5,676.5 L1165.9,675.1 L1166.3,673.6 L1166.8,672.2 L1167.2,670.8 L1167.7,669.4 L1168.1,667.9 L1168.6,666.5 L1169.0,665.1 L1169.5,663.7 L1170.0,662.2 L1170.5,660.8 L1171.0,659.4 L1171.5,658.0 L1172.0,656.6 L1172.5,655.2 L1173.0,653.8 L1173.5,652.3 L1174.0,650.9 L1174.5,649.5 L1175.1,648.1 L1175.6,646.7 L1176.2,645.3 L1176.7,643.9 L1177.3,642.5 L1177.8,641.1 L1178.4,639.7 L1179.0,638.3 L1179.6,636.9 L1180.2,635.5 L1180.8,634.1 L1181.4,632.7 L1182.0,631.3 L1182.6,629.9 L1183.2,628.6 L1183.9,627.2 L1184.5,625.8 L1185.1,624.4 L1185.8,623.0 L1186.4,621.6 L1187.1,620.3 L1187.8,618.9 L1188.4,617.5 L1189.1,616.2 L1189.8,614.8 L1190.5,613.4 L1191.2,612.0 L1191.8,610.7 L1192.5,609.3 L1193.2,608.0 L1194.0,606.6 L1194.7,605.2 L1195.4,603.9 L1196.1,602.5 L1196.8,601.2 L1197.6,599.8 L1198.3,598.5 L1199.0,597.1 L1199.8,595.8 L1200.5,594.5 L1201.2,593.1 L1202.0,591.8 L1202.7,590.5 L1203.5,589.1 L1204.3,587.8 L1205.0,586.5 L1205.8,585.1 L1206.5,583.8 L1207.3,582.5 L1208.1,581.2 L1208.9,579.8 L1209.6,578.5 L1210.4,577.2 L1211.2,575.9 L1212.0,574.6 L1212.8,573.3 L1213.6,572.0 L1214.4,570.7 L1215.1,569.4 L1215.9,568.1 L1216.7,566.8 L1217.5,565.5 L1218.3,564.2 L1219.1,562.9 L1219.9,561.6 L1220.7,560.4 L1221.6,559.1 L1222.4,557.8 L1223.2,556.5 L1224.0,555.3 L1224.8,554.0 L1225.6,552.7 L1226.4,551.5 L1227.3,550.2 L1228.1,548.9 L1228.9,547.7 L1229.7,546.4 L1230.6,545.2 L1231.4,543.9 L1232.2,542.7 L1233.0,541.4 L1233.9,540.2 L1234.7,539.0 L1235.5,537.7 L1236.4,536.5 L1237.2,535.3 L1238.0,534.0 L1238.9,532.8 L1239.7,531.6 L1240.6,530.4 L1241.4,529.2 L1242.2,528.0 L1243.1,526.7 L1243.9,525.5 L1244.8,524.3 L1245.6,523.1 L1246.5,521.9 L1247.3,520.7 L1248.1,519.6 L1249.0,518.4 L1249.8,517.2 L1250.7,516.0 L1251.5,514.8 L1252.4,513.6 L1253.2,512.5 L1254.1,511.3 L1255.0,510.2 L1255.9,509.0 L1256.8,508.0 L1257.7,507.0 L1258.8,506.1 L1259.9,505.2 L1261.0,504.4 L1262.3,503.6 L1263.5,502.8 L1264.8,502.0 L1266.0,501.2 L1267.3,500.4 L1268.6,499.5 L1269.9,498.7 L1271.2,497.9 L1272.5,497.0 L1273.8,496.2 L1275.1,495.4 L1276.4,494.6 L1277.7,493.7 L1279.0,492.9 L1280.3,492.1 L1281.6,491.3 L1282.9,490.5 L1284.2,489.7 L1285.5,488.9 L1286.9,488.1 L1288.2,487.3 L1289.5,486.5 L1290.8,485.7 L1292.1,484.9 L1293.5,484.1 L1294.8,483.4 L1296.1,482.6 L1297.5,481.8 L1298.8,481.1 L1300.1,480.3 L1301.5,479.5 L1302.8,478.8 L1304.1,478.0 L1305.5,477.3 L1306.8,476.6 L1308.2,475.8 L1309.5,475.1 L1310.9,474.4 L1312.2,473.7 L1313.6,472.9 L1314.9,472.2 L1316.3,471.5 L1317.6,470.8 L1319.0,470.1 L1320.3,469.5 L1321.7,468.8 L1323.1,468.1 L1324.4,467.4 L1325.8,466.8 L1327.2,466.1 L1328.5,465.4 L1329.9,464.8 L1331.3,464.2 L1332.6,463.5 L1334.0,462.9 L1335.4,462.3 L1336.8,461.7 L1338.2,461.0 L1339.5,460.4 L1340.9,459.8 L1342.3,459.2 L1343.7,458.6 L1345.1,458.1 L1346.5,457.5 L1347.8,456.9 L1349.2,456.4 L1350.6,455.8 L1352.0,455.2 L1353.4,454.7 L1354.8,454.2 L1356.2,453.6 L1357.6,453.1 L1359.0,452.6 L1360.4,452.1 L1361.8,451.5 L1363.2,451.0 L1364.6,450.5 L1366.0,450.1 L1367.5,449.6 L1368.9,449.1 L1370.3,448.6 L1371.7,448.1 L1373.1,447.7 L1374.5,447.2 L1375.9,446.8 L1377.4,446.3 L1378.8,445.9 L1380.2,445.5 L1381.6,445.1 L1383.0,444.6 L1384.5,444.2 L1385.9,443.8 L1387.3,443.4 L1388.8,443.0 L1390.2,442.7 L1391.6,442.3 L1393.0,441.9 L1394.5,441.5 L1395.9,441.2 L1397.3,440.8 L1398.8,440.4 L1400.2,440.1 L1401.7,439.8 L1403.1,439.4 L1404.5,439.1 L1406.0,438.8 L1407.4,438.4 L1408.9,438.1 L1410.3,437.8 L1411.8,437.5 L1413.2,437.2 L1414.7,436.9 L1416.1,436.6 L1417.6,436.3 L1419.0,436.0 L1420.5,435.7 L1421.9,435.5 L1423.4,435.2 L1424.8,434.9 L1426.3,434.6 L1427.7,434.4 L1429.2,434.1 L1430.7,433.9 L1432.1,433.6 L1433.6,433.4 L1435.0,433.1 L1436.5,432.9 L1438.0,432.7 L1439.4,432.4 L1440.9,432.2 L1442.4,432.0 L1443.8,431.8 L1445.3,431.5 L1446.8,431.3 L1448.2,431.1 L1449.7,430.9 L1451.2,430.7 L1452.7,430.5 L1454.1,430.3 L1455.6,430.1 L1457.1,429.9 L1458.6,429.7 L1460.0,429.5 L1461.5,429.4 L1463.0,429.2 L1464.5,429.0 L1466.0,428.8 L1467.4,428.6 L1468.9,428.5 L1470.4,428.3 L1471.9,428.1 L1473.4,427.9 L1474.9,427.8 L1476.3,427.6 L1477.8,427.5 L1479.3,427.3 L1480.8,427.1 L1482.3,427.0 L1483.8,426.8 L1485.3,426.7 L1486.7,426.5 L1488.2,426.4 L1489.7,426.2 L1491.2,426.1 L1492.7,425.9 L1494.2,425.8 L1495.7,425.6 L1497.2,425.5 L1498.7,425.4 L1500.2,425.2 L1501.7,425.1 L1503.2,424.9 L1504.7,424.8 L1506.2,424.7 L1507.7,424.5 L1509.3,424.4 L1510.8,424.2 L1512.3,424.1 L1513.8,424.0 L1515.3,423.8 L1516.9,423.7 L1518.4,423.6 L1519.9,423.4 L1521.4,423.3 L1522.9,423.2 L1524.5,423.0 L1526.0,422.9 L1527.5,422.8 L1529.0,422.7 L1530.6,422.5 L1532.1,422.4 L1533.6,422.3 L1535.1,422.1 L1536.7,422.0 L1538.2,421.9 L1539.7,421.8 L1541.2,421.7 L1542.8,421.5 L1544.3,421.4 L1545.8,421.3 L1547.3,421.2 L1548.9,421.0 L1550.4,420.9 L1551.9,420.8 L1553.5,420.7 L1555.0,420.6 L1556.5,420.5 L1558.1,420.3 L1559.6,420.2 L1561.1,420.1 L1562.6,420.0 L1564.2,419.9 L1565.7,419.8 L1567.2,419.7 L1568.8,419.5 L1570.3,419.4 L1571.8,419.3 L1573.4,419.2 L1574.9,419.1 L1576.4,419.0 L1578.0,418.9 L1579.5,418.8 L1581.0,418.7 L1582.6,418.6 L1584.1,418.5 L1585.6,418.4 L1587.2,418.3 L1588.7,418.2 L1590.3,418.1 L1591.8,417.9 L1593.3,417.8 L1594.9,417.7 L1596.4,417.6 L1597.9,417.5 L1599.5,417.4 L1601.0,417.3 L1602.5,417.3 L1604.1,417.2 L1605.6,417.1 L1607.2,417.0 L1608.7,416.9 L1610.2,416.8 L1611.8,416.7 L1613.3,416.6 L1614.8,416.5 L1616.4,416.4 L1617.9,416.3 L1619.5,416.2 L1621.0,416.1 L1622.5,416.0 L1624.1,415.9 L1625.6,415.9 L1627.2,415.8 L1628.7,415.7 L1630.2,415.6 L1631.8,415.5 L1633.3,415.4 L1634.8,415.3 L1636.4,415.2 L1637.9,415.2 L1639.5,415.1 L1641.0,415.0 L1642.5,414.9 L1644.1,414.8 L1645.6,414.7 L1647.2,414.7 L1648.7,414.6 L1650.2,414.5 L1651.8,414.4 L1653.3,414.3 L1654.8,414.3 L1656.4,414.2 L1657.9,414.1 L1659.5,414.0 L1661.0,414.0 L1662.5,413.9 L1664.1,413.8 L1665.6,413.7 L1667.1,413.7 L1668.7,413.6 L1670.2,413.5 L1671.8,413.4 L1673.3,413.4 L1674.8,413.3 L1676.4,413.2 L1677.9,413.2 L1679.4,413.1 L1681.0,413.0 L1682.5,412.9 L1684.0,412.9 L1685.6,412.8 L1687.1,412.7 L1688.7,412.7 L1690.2,412.6 L1691.7,412.5 L1693.3,412.5 L1694.8,412.4 L1696.3,412.3 L1697.9,412.3 L1699.4,412.2 L1700.9,412.2 L1702.5,412.1 L1704.0,412.0 L1705.5,412.0 L1707.1,411.9 L1708.6,411.9 L1710.1,411.8 L1711.7,411.7 L1713.2,411.7 L1714.7,411.6 L1716.2,411.6 L1717.8,411.5 L1719.3,411.4 L1720.8,411.4 L1722.4,411.3 L1723.9,411.3 L1725.4,411.2 L1726.9,411.2 L1728.5,411.1 L1730.0,411.1 L1731.5,411.0 L1733.1,411.0 L1734.6,410.9 L1736.1,410.8 L1737.6,410.8 L1739.2,410.7 L1740.7,410.7 L1742.2,410.6 L1743.7,410.6 L1745.3,410.5 L1746.8,410.5 L1748.3,410.5 L1749.8,410.4 L1751.3,410.4 L1752.9,410.3 L1754.4,410.3 L1755.9,410.2 L1757.4,410.2 L1758.9,410.1 L1760.5,410.1 L1762.0,410.0 L1763.5,410.0 L1765.0,410.0 L1766.5,409.9 L1768.0,409.9 L1769.6,409.8 L1771.1,409.8 L1772.6,409.7 L1774.1,409.7 L1775.6,409.7 L1777.1,409.6 L1778.6,409.6 L1780.1,409.5 L1781.7,409.5 L1783.2,409.5 L1784.7,409.4 L1786.2,409.4 L1787.7,409.4 L1789.2,409.3 L1790.7,409.3 L1792.2,409.2 L1793.7,409.2 L1795.2,409.2 L1796.7,409.1 L1798.2,409.1 L1799.7,409.1 L1801.2,409.0 L1802.7,409.0 L1804.2,409.0 L1805.7,408.9 L1807.2,408.9 L1808.7,408.9 L1810.2,408.8 L1811.7,408.8 L1813.2,408.8 L1814.7,408.8 L1816.2,408.7 L1817.7,408.7 L1819.2,408.7 L1820.7,408.6 L1822.2,408.6 L1823.7,408.6 L1825.2,408.6 L1826.7,408.5 L1828.2,408.5 L1829.7,408.5 L1831.2,408.5 L1832.6,408.4 L1834.1,408.4 L1835.6,408.4 L1837.1,408.4 L1838.6,408.3 L1840.1,408.3 L1841.5,408.3 L1843.0,408.3 L1844.5,408.2 L1846.0,408.2 L1847.5,408.2 L1848.9,408.2 L1850.4,408.2 L1851.7,408.2 L1852.9,408.2 L1855.8,408.3" fill="none" stroke="#1478e8" stroke-width="3.2" stroke-linejoin="round" stroke-linecap="round"/>
<path d="M446.3,1127.0 L449.1,1126.8 L450.3,1126.7 L451.7,1126.7 L453.1,1126.6 L454.6,1126.6 L456.0,1126.6 L457.5,1126.5 L459.0,1126.5 L460.5,1126.5 L461.9,1126.4 L463.4,1126.4 L464.9,1126.4 L466.4,1126.3 L467.8,1126.3 L469.3,1126.3 L470.8,1126.2 L472.3,1126.2 L473.8,1126.2 L475.3,1126.1 L476.7,1126.1 L478.2,1126.1 L479.7,1126.0 L481.2,1126.0 L482.7,1126.0 L484.2,1125.9 L485.7,1125.9 L487.2,1125.8 L488.7,1125.8 L490.1,1125.8 L491.6,1125.7 L493.1,1125.7 L494.6,1125.6 L496.1,1125.6 L497.6,1125.6 L499.1,1125.5 L500.6,1125.5 L502.1,1125.4 L503.6,1125.4 L505.1,1125.3 L506.6,1125.3 L508.1,1125.2 L509.6,1125.2 L511.1,1125.1 L512.6,1125.1 L514.1,1125.1 L515.6,1125.0 L517.1,1125.0 L518.7,1124.9 L520.2,1124.9 L521.7,1124.8 L523.2,1124.8 L524.7,1124.7 L526.2,1124.7 L527.7,1124.6 L529.2,1124.5 L530.7,1124.5 L532.2,1124.4 L533.8,1124.4 L535.3,1124.3 L536.8,1124.3 L538.3,1124.2 L539.8,1124.2 L541.3,1124.1 L542.9,1124.1 L544.4,1124.0 L545.9,1123.9 L547.4,1123.9 L548.9,1123.8 L550.4,1123.8 L552.0,1123.7 L553.5,1123.6 L555.0,1123.6 L556.5,1123.5 L558.0,1123.5 L559.6,1123.4 L561.1,1123.3 L562.6,1123.3 L564.1,1123.2 L565.7,1123.1 L567.2,1123.1 L568.7,1123.0 L570.2,1123.0 L571.8,1122.9 L573.3,1122.8 L574.8,1122.8 L576.4,1122.7 L577.9,1122.6 L579.4,1122.6 L580.9,1122.5 L582.5,1122.4 L584.0,1122.4 L585.5,1122.3 L587.1,1122.2 L588.6,1122.2 L590.1,1122.1 L591.6,1122.0 L593.2,1121.9 L594.7,1121.9 L596.2,1121.8 L597.8,1121.7 L599.3,1121.7 L600.8,1121.6 L602.4,1121.5 L603.9,1121.4 L605.4,1121.4 L607.0,1121.3 L608.5,1121.2 L610.0,1121.1 L611.6,1121.1 L613.1,1121.0 L614.7,1120.9 L616.2,1120.8 L617.7,1120.8 L619.3,1120.7 L620.8,1120.6 L622.3,1120.5 L623.9,1120.5 L625.4,1120.4 L626.9,1120.3 L628.5,1120.2 L630.0,1120.1 L631.6,1120.1 L633.1,1120.0 L634.6,1119.9 L636.2,1119.8 L637.7,1119.7 L639.3,1119.7 L640.8,1119.6 L642.3,1119.5 L643.9,1119.4 L645.4,1119.3 L646.9,1119.2 L648.5,1119.2 L650.0,1119.1 L651.6,1119.0 L653.1,1118.9 L654.6,1118.8 L656.2,1118.7 L657.7,1118.6 L659.3,1118.6 L660.8,1118.5 L662.3,1118.4 L663.9,1118.3 L665.4,1118.2 L667.0,1118.1 L668.5,1118.0 L670.0,1117.9 L671.6,1117.9 L673.1,1117.8 L674.7,1117.7 L676.2,1117.6 L677.7,1117.5 L679.3,1117.4 L680.8,1117.3 L682.4,1117.2 L683.9,1117.1 L685.4,1117.0 L687.0,1117.0 L688.5,1116.9 L690.1,1116.8 L691.6,1116.7 L693.1,1116.6 L694.7,1116.5 L696.2,1116.4 L697.8,1116.3 L699.3,1116.2 L700.8,1116.1 L702.4,1116.0 L703.9,1115.9 L705.4,1115.8 L707.0,1115.7 L708.5,1115.6 L710.1,1115.5 L711.6,1115.5 L713.1,1115.4 L714.7,1115.3 L716.2,1115.2 L717.7,1115.1 L719.3,1115.0 L720.8,1114.9 L722.4,1114.8 L723.9,1114.7 L725.4,1114.6 L727.0,1114.5 L728.5,1114.4 L730.0,1114.3 L731.6,1114.2 L733.1,1114.1 L734.6,1114.0 L736.2,1113.9 L737.7,1113.8 L739.2,1113.7 L740.8,1113.6 L742.3,1113.5 L743.8,1113.4 L745.4,1113.3 L746.9,1113.2 L748.4,1113.0 L749.9,1112.9 L751.5,1112.8 L753.0,1112.7 L754.5,1112.6 L756.1,1112.5 L757.6,1112.4 L759.1,1112.3 L760.7,1112.2 L762.2,1112.1 L763.7,1111.9 L765.2,1111.8 L766.8,1111.7 L768.3,1111.6 L769.8,1111.5 L771.3,1111.4 L772.9,1111.2 L774.4,1111.1 L775.9,1111.0 L777.4,1110.9 L778.9,1110.8 L780.5,1110.6 L782.0,1110.5 L783.5,1110.4 L785.0,1110.2 L786.5,1110.1 L788.1,1110.0 L789.6,1109.8 L791.1,1109.7 L792.6,1109.6 L794.1,1109.4 L795.7,1109.3 L797.2,1109.2 L798.7,1109.0 L800.2,1108.9 L801.7,1108.7 L803.2,1108.6 L804.7,1108.4 L806.2,1108.3 L807.7,1108.1 L809.2,1108.0 L810.7,1107.8 L812.1,1107.7 L813.6,1107.5 L815.1,1107.3 L816.6,1107.2 L818.1,1107.0 L819.6,1106.9 L821.1,1106.7 L822.6,1106.5 L824.0,1106.3 L825.5,1106.2 L827.0,1106.0 L828.5,1105.8 L830.0,1105.6 L831.5,1105.4 L832.9,1105.3 L834.4,1105.1 L835.9,1104.9 L837.4,1104.7 L838.9,1104.5 L840.3,1104.3 L841.8,1104.1 L843.3,1103.9 L844.8,1103.7 L846.2,1103.5 L847.7,1103.3 L849.2,1103.0 L850.7,1102.8 L852.1,1102.6 L853.6,1102.4 L855.1,1102.1 L856.5,1101.9 L858.0,1101.7 L859.5,1101.4 L860.9,1101.2 L862.4,1101.0 L863.9,1100.7 L865.3,1100.5 L866.8,1100.2 L868.2,1099.9 L869.7,1099.7 L871.2,1099.4 L872.6,1099.1 L874.1,1098.9 L875.5,1098.6 L877.0,1098.3 L878.4,1098.0 L879.9,1097.7 L881.3,1097.4 L882.8,1097.1 L884.3,1096.8 L885.7,1096.5 L887.2,1096.2 L888.6,1095.9 L890.0,1095.6 L891.5,1095.3 L892.9,1095.0 L894.4,1094.6 L895.8,1094.3 L897.3,1093.9 L898.7,1093.6 L900.1,1093.3 L901.6,1092.9 L903.0,1092.6 L904.5,1092.2 L905.9,1091.8 L907.3,1091.5 L908.8,1091.1 L910.2,1090.7 L911.6,1090.3 L913.0,1089.9 L914.5,1089.5 L915.9,1089.1 L917.3,1088.7 L918.7,1088.3 L920.2,1087.9 L921.6,1087.5 L923.0,1087.1 L924.4,1086.7 L925.8,1086.2 L927.2,1085.8 L928.7,1085.3 L930.1,1084.9 L931.5,1084.5 L932.9,1084.0 L934.3,1083.5 L935.7,1083.1 L937.1,1082.6 L938.5,1082.1 L939.9,1081.6 L941.3,1081.1 L942.7,1080.6 L944.1,1080.1 L945.5,1079.6 L946.9,1079.1 L948.3,1078.6 L949.7,1078.1 L951.0,1077.5 L952.4,1077.0 L953.8,1076.5 L955.2,1075.9 L956.6,1075.3 L957.9,1074.8 L959.3,1074.2 L960.7,1073.6 L962.1,1073.1 L963.4,1072.5 L964.8,1071.9 L966.2,1071.3 L967.5,1070.7 L968.9,1070.0 L970.3,1069.4 L971.6,1068.8 L973.0,1068.1 L974.3,1067.5 L975.7,1066.8 L977.0,1066.2 L978.4,1065.5 L979.7,1064.8 L981.1,1064.1 L982.4,1063.4 L983.8,1062.7 L985.1,1062.0 L986.4,1061.3 L987.8,1060.6 L989.1,1059.9 L990.4,1059.1 L991.8,1058.4 L993.1,1057.6 L994.4,1056.9 L995.7,1056.1 L997.0,1055.3 L998.4,1054.6 L999.7,1053.8 L1001.0,1053.0 L1002.3,1052.2 L1003.6,1051.4 L1004.9,1050.5 L1006.2,1049.7 L1007.5,1048.9 L1008.8,1048.0 L1010.1,1047.2 L1011.4,1046.3 L1012.7,1045.5 L1014.0,1044.6 L1015.3,1043.7 L1016.5,1042.8 L1017.8,1041.9 L1019.1,1041.0 L1020.4,1040.1 L1021.6,1039.2 L1022.9,1038.2 L1024.2,1037.3 L1025.4,1036.4 L1026.7,1035.4 L1028.0,1034.4 L1029.2,1033.5 L1030.4,1032.5 L1031.6,1031.5 L1032.8,1030.6 L1033.9,1029.6 L1034.9,1028.6 L1035.9,1027.6 L1036.8,1026.6 L1037.7,1025.5 L1038.7,1024.4 L1039.6,1023.3 L1040.5,1022.1 L1041.4,1021.0 L1042.4,1019.8 L1043.3,1018.6 L1044.2,1017.5 L1045.1,1016.3 L1046.0,1015.1 L1046.9,1014.0 L1047.8,1012.8 L1048.7,1011.6 L1049.5,1010.4 L1050.4,1009.2 L1051.3,1008.0 L1052.2,1006.8 L1053.0,1005.6 L1053.9,1004.4 L1054.8,1003.2 L1055.6,1002.0 L1056.5,1000.8 L1057.4,999.6 L1058.2,998.4 L1059.0,997.2 L1059.9,995.9 L1060.7,994.7 L1061.6,993.5 L1062.4,992.3 L1063.2,991.0 L1064.1,989.8 L1064.9,988.6 L1065.7,987.3 L1066.5,986.1 L1067.3,984.8 L1068.2,983.6 L1069.0,982.3 L1069.8,981.1 L1070.6,979.8 L1071.4,978.6 L1072.2,977.3 L1073.0,976.0 L1073.8,974.8 L1074.6,973.5 L1075.4,972.2 L1076.1,970.9 L1076.9,969.7 L1077.7,968.4 L1078.5,967.1 L1079.3,965.8 L1080.1,964.5 L1080.8,963.2 L1081.6,961.9 L1082.4,960.7 L1083.1,959.4 L1083.9,958.1 L1084.7,956.8 L1085.4,955.5 L1086.2,954.1 L1086.9,952.8 L1087.7,951.5 L1088.4,950.2 L1089.2,948.9 L1089.9,947.6 L1090.7,946.3 L1091.4,944.9 L1092.2,943.6 L1092.9,942.3 L1093.7,941.0 L1094.4,939.6 L1095.1,938.3 L1095.9,937.0 L1096.6,935.6 L1097.3,934.3 L1098.1,932.9 L1098.8,931.6 L1099.5,930.2 L1100.2,928.9 L1101.0,927.5 L1101.7,926.2 L1102.4,924.8 L1103.1,923.5 L1103.8,922.1 L1104.5,920.8 L1105.2,919.4 L1105.9,918.0 L1106.6,916.7 L1107.3,915.3 L1108.0,913.9 L1108.7,912.6 L1109.4,911.2 L1110.1,909.8 L1110.7,908.5 L1111.4,907.1 L1112.1,905.7 L1112.7,904.3 L1113.4,902.9 L1114.0,901.6 L1114.7,900.2 L1115.3,898.8 L1116.0,897.4 L1116.6,896.0 L1117.2,894.6 L1117.8,893.2 L1118.5,891.8 L1119.1,890.4 L1119.7,889.0 L1120.3,887.6 L1120.9,886.2 L1121.4,884.8 L1122.0,883.4 L1122.6,882.0 L1123.2,880.6 L1123.7,879.2 L1124.3,877.8 L1124.8,876.4 L1125.4,875.0 L1125.9,873.6 L1126.4,872.1 L1127.0,870.7 L1127.5,869.3 L1128.0,867.9 L1128.5,866.5 L1129.0,865.1 L1129.5,863.6 L1130.0,862.2 L1130.5,860.8 L1130.9,859.4 L1131.4,857.9 L1131.9,856.5 L1132.3,855.1 L1132.8,853.6 L1133.3,852.2 L1133.7,850.8 L1134.1,849.3 L1134.6,847.9 L1135.0,846.5 L1135.4,845.0 L1135.9,843.6 L1136.3,842.2 L1136.7,840.7 L1137.1,839.3 L1137.5,837.9 L1137.9,836.4 L1138.3,835.0 L1138.7,833.5 L1139.1,832.1 L1139.5,830.6 L1139.8,829.2 L1140.2,827.7 L1140.6,826.3 L1141.0,824.9 L1141.3,823.4 L1141.7,822.0 L1142.1,820.5 L1142.4,819.1 L1142.8,817.6 L1143.1,816.2 L1143.5,814.7 L1143.8,813.2 L1144.1,811.8 L1144.5,810.3 L1144.8,808.9 L1145.2,807.4 L1145.5,806.0 L1145.8,804.5 L1146.1,803.1 L1146.5,801.6 L1146.8,800.1 L1147.1,798.7 L1147.4,797.2 L1147.7,795.8 L1148.0,794.3 L1148.4,792.9 L1148.7,791.4 L1149.0,789.9 L1149.3,788.5 L1149.6,787.0 L1149.9,785.6 L1150.2,784.1 L1150.5,782.6 L1150.8,781.2 L1151.1,779.7 L1151.4,778.2 L1151.7,776.8 L1152.0,775.3 L1152.3,773.9 L1152.6,772.4 L1152.9,770.9 L1153.2,769.5 L1153.4,768.0 L1153.7,766.5 L1154.0,765.1 L1154.3,763.6 L1154.6,762.2 L1154.9,760.7 L1155.2,759.2 L1155.5,757.8 L1155.8,756.3 L1156.1,754.8 L1156.4,753.4 L1156.7,751.9 L1156.9,750.5 L1157.2,749.0 L1157.5,747.5 L1157.8,746.1 L1158.1,744.6 L1158.4,743.2 L1158.7,741.7 L1159.0,740.2 L1159.3,738.8 L1159.6,737.3 L1159.9,735.9 L1160.2,734.4 L1160.5,732.9 L1160.8,731.5 L1161.1,730.0 L1161.5,728.6 L1161.8,727.1 L1162.1,725.6 L1162.4,724.2 L1162.7,722.7 L1163.0,721.3 L1163.4,719.8 L1163.7,718.4 L1164.0,716.9 L1164.3,715.5 L1164.7,714.0 L1165.0,712.6 L1165.3,711.1 L1165.7,709.7 L1166.0,708.2 L1166.4,706.8 L1166.7,705.3 L1167.1,703.9 L1167.4,702.4 L1167.8,701.0 L1168.2,699.5 L1168.5,698.1 L1168.9,696.6 L1169.3,695.2 L1169.6,693.7 L1170.0,692.3 L1170.4,690.9 L1170.8,689.4 L1171.2,688.0 L1171.6,686.5 L1172.0,685.1 L1172.4,683.7 L1172.8,682.2 L1173.2,680.8 L1173.6,679.4 L1174.0,677.9 L1174.5,676.5 L1174.9,675.1 L1175.3,673.6 L1175.8,672.2 L1176.2,670.8 L1176.7,669.4 L1177.1,667.9 L1177.6,666.5 L1178.0,665.1 L1178.5,663.7 L1179.0,662.2 L1179.5,660.8 L1180.0,659.4 L1180.5,658.0 L1181.0,656.6 L1181.5,655.2 L1182.0,653.8 L1182.5,652.3 L1183.0,650.9 L1183.5,649.5 L1184.1,648.1 L1184.6,646.7 L1185.2,645.3 L1185.7,643.9 L1186.3,642.5 L1186.8,641.1 L1187.4,639.7 L1188.0,638.3 L1188.6,636.9 L1189.2,635.5 L1189.8,634.1 L1190.4,632.7 L1191.0,631.3 L1191.6,629.9 L1192.2,628.6 L1192.9,627.2 L1193.5,625.8 L1194.1,624.4 L1194.8,623.0 L1195.4,621.6 L1196.1,620.3 L1196.8,618.9 L1197.4,617.5 L1198.1,616.2 L1198.8,614.8 L1199.5,613.4 L1200.2,612.0 L1200.8,610.7 L1201.5,609.3 L1202.2,608.0 L1203.0,606.6 L1203.7,605.2 L1204.4,603.9 L1205.1,602.5 L1205.8,601.2 L1206.6,599.8 L1207.3,598.5 L1208.0,597.1 L1208.8,595.8 L1209.5,594.5 L1210.2,593.1 L1211.0,591.8 L1211.7,590.5 L1212.5,589.1 L1213.3,587.8 L1214.0,586.5 L1214.8,585.1 L1215.5,583.8 L1216.3,582.5 L1217.1,581.2 L1217.9,579.8 L1218.6,578.5 L1219.4,577.2 L1220.2,575.9 L1221.0,574.6 L1221.8,573.3 L1222.6,572.0 L1223.4,570.7 L1224.1,569.4 L1224.9,568.1 L1225.7,566.8 L1226.5,565.5 L1227.3,564.2 L1228.1,562.9 L1228.9,561.6 L1229.7,560.4 L1230.6,559.1 L1231.4,557.8 L1232.2,556.5 L1233.0,555.3 L1233.8,554.0 L1234.6,552.7 L1235.4,551.5 L1236.3,550.2 L1237.1,548.9 L1237.9,547.7 L1238.7,546.4 L1239.6,545.2 L1240.4,543.9 L1241.2,542.7 L1242.0,541.4 L1242.9,540.2 L1243.7,539.0 L1244.5,537.7 L1245.4,536.5 L1246.2,535.3 L1247.0,534.0 L1247.9,532.8 L1248.7,531.6 L1249.6,530.4 L1250.4,529.2 L1251.2,528.0 L1252.1,526.7 L1252.9,525.5 L1253.8,524.3 L1254.6,523.1 L1255.5,521.9 L1256.3,520.7 L1257.1,519.6 L1258.0,518.4 L1258.8,517.2 L1259.7,516.0 L1260.5,514.8 L1261.4,513.6 L1262.2,512.5 L1263.1,511.3 L1264.0,510.2 L1264.9,509.0 L1265.8,508.0 L1266.7,507.0 L1267.8,506.1 L1268.9,505.2 L1270.0,504.4 L1271.3,503.6 L1272.5,502.8 L1273.8,502.0 L1275.0,501.2 L1276.3,500.4 L1277.6,499.5 L1278.9,498.7 L1280.2,497.9 L1281.5,497.0 L1282.8,496.2 L1284.1,495.4 L1285.4,494.6 L1286.7,493.7 L1288.0,492.9 L1289.3,492.1 L1290.6,491.3 L1291.9,490.5 L1293.2,489.7 L1294.5,488.9 L1295.9,488.1 L1297.2,487.3 L1298.5,486.5 L1299.8,485.7 L1301.1,484.9 L1302.5,484.1 L1303.8,483.4 L1305.1,482.6 L1306.5,481.8 L1307.8,481.1 L1309.1,480.3 L1310.5,479.5 L1311.8,478.8 L1313.1,478.0 L1314.5,477.3 L1315.8,476.6 L1317.2,475.8 L1318.5,475.1 L1319.9,474.4 L1321.2,473.7 L1322.6,472.9 L1323.9,472.2 L1325.3,471.5 L1326.6,470.8 L1328.0,470.1 L1329.3,469.5 L1330.7,468.8 L1332.1,468.1 L1333.4,467.4 L1334.8,466.8 L1336.2,466.1 L1337.5,465.4 L1338.9,464.8 L1340.3,464.2 L1341.6,463.5 L1343.0,462.9 L1344.4,462.3 L1345.8,461.7 L1347.2,461.0 L1348.5,460.4 L1349.9,459.8 L1351.3,459.2 L1352.7,458.6 L1354.1,458.1 L1355.5,457.5 L1356.8,456.9 L1358.2,456.4 L1359.6,455.8 L1361.0,455.2 L1362.4,454.7 L1363.8,454.2 L1365.2,453.6 L1366.6,453.1 L1368.0,452.6 L1369.4,452.1 L1370.8,451.5 L1372.2,451.0 L1373.6,450.5 L1375.0,450.1 L1376.5,449.6 L1377.9,449.1 L1379.3,448.6 L1380.7,448.1 L1382.1,447.7 L1383.5,447.2 L1384.9,446.8 L1386.4,446.3 L1387.8,445.9 L1389.2,445.5 L1390.6,445.1 L1392.0,444.6 L1393.5,444.2 L1394.9,443.8 L1396.3,443.4 L1397.8,443.0 L1399.2,442.7 L1400.6,442.3 L1402.0,441.9 L1403.5,441.5 L1404.9,441.2 L1406.3,440.8 L1407.8,440.4 L1409.2,440.1 L1410.7,439.8 L1412.1,439.4 L1413.5,439.1 L1415.0,438.8 L1416.4,438.4 L1417.9,438.1 L1419.3,437.8 L1420.8,437.5 L1422.2,437.2 L1423.7,436.9 L1425.1,436.6 L1426.6,436.3 L1428.0,436.0 L1429.5,435.7 L1430.9,435.5 L1432.4,435.2 L1433.8,434.9 L1435.3,434.6 L1436.7,434.4 L1438.2,434.1 L1439.7,433.9 L1441.1,433.6 L1442.6,433.4 L1444.0,433.1 L1445.5,432.9 L1447.0,432.7 L1448.4,432.4 L1449.9,432.2 L1451.4,432.0 L1452.8,431.8 L1454.3,431.5 L1455.8,431.3 L1457.2,431.1 L1458.7,430.9 L1460.2,430.7 L1461.7,430.5 L1463.1,430.3 L1464.6,430.1 L1466.1,429.9 L1467.6,429.7 L1469.0,429.5 L1470.5,429.4 L1472.0,429.2 L1473.5,429.0 L1475.0,428.8 L1476.4,428.6 L1477.9,428.5 L1479.4,428.3 L1480.9,428.1 L1482.4,427.9 L1483.9,427.8 L1485.3,427.6 L1486.8,427.5 L1488.3,427.3 L1489.8,427.1 L1491.3,427.0 L1492.8,426.8 L1494.3,426.7 L1495.7,426.5 L1497.2,426.4 L1498.7,426.2 L1500.2,426.1 L1501.7,425.9 L1503.2,425.8 L1504.7,425.6 L1506.2,425.5 L1507.7,425.4 L1509.2,425.2 L1510.7,425.1 L1512.1,424.9 L1513.6,424.8 L1515.1,424.7 L1516.6,424.5 L1518.1,424.4 L1519.5,424.2 L1521.0,424.1 L1522.5,424.0 L1524.0,423.8 L1525.5,423.7 L1526.9,423.6 L1528.4,423.4 L1529.9,423.3 L1531.4,423.2 L1532.9,423.0 L1534.4,422.9 L1535.8,422.8 L1537.3,422.7 L1538.8,422.5 L1540.3,422.4 L1541.8,422.3 L1543.3,422.1 L1544.8,422.0 L1546.2,421.9 L1547.7,421.8 L1549.2,421.7 L1550.7,421.5 L1552.2,421.4 L1553.7,421.3 L1555.2,421.2 L1556.7,421.0 L1558.2,420.9 L1559.6,420.8 L1561.1,420.7 L1562.6,420.6 L1564.1,420.5 L1565.6,420.3 L1567.1,420.2 L1568.6,420.1 L1570.1,420.0 L1571.6,419.9 L1573.1,419.8 L1574.6,419.7 L1576.1,419.5 L1577.6,419.4 L1579.0,419.3 L1580.5,419.2 L1582.0,419.1 L1583.5,419.0 L1585.0,418.9 L1586.5,418.8 L1588.0,418.7 L1589.5,418.6 L1591.0,418.5 L1592.5,418.4 L1594.0,418.3 L1595.5,418.2 L1597.0,418.1 L1598.5,417.9 L1600.0,417.8 L1601.5,417.7 L1603.0,417.6 L1604.5,417.5 L1606.0,417.4 L1607.5,417.3 L1609.0,417.3 L1610.5,417.2 L1612.0,417.1 L1613.5,417.0 L1615.0,416.9 L1616.5,416.8 L1618.0,416.7 L1619.5,416.6 L1621.0,416.5 L1622.5,416.4 L1624.0,416.3 L1625.5,416.2 L1627.0,416.1 L1628.5,416.0 L1630.0,415.9 L1631.5,415.9 L1633.0,415.8 L1634.5,415.7 L1636.0,415.6 L1637.5,415.5 L1639.0,415.4 L1640.5,415.3 L1642.0,415.2 L1643.5,415.2 L1645.0,415.1 L1646.5,415.0 L1648.0,414.9 L1649.5,414.8 L1651.0,414.7 L1652.5,414.7 L1654.0,414.6 L1655.5,414.5 L1656.9,414.4 L1658.4,414.3 L1659.9,414.3 L1661.4,414.2 L1662.9,414.1 L1664.4,414.0 L1665.9,414.0 L1667.4,413.9 L1668.9,413.8 L1670.4,413.7 L1671.9,413.7 L1673.4,413.6 L1674.9,413.5 L1676.4,413.4 L1677.9,413.4 L1679.4,413.3 L1680.9,413.2 L1682.4,413.2 L1683.9,413.1 L1685.4,413.0 L1686.9,412.9 L1688.4,412.9 L1689.9,412.8 L1691.4,412.7 L1692.9,412.7 L1694.4,412.6 L1695.9,412.5 L1697.4,412.5 L1698.9,412.4 L1700.4,412.3 L1701.9,412.3 L1703.4,412.2 L1704.9,412.2 L1706.4,412.1 L1707.8,412.0 L1709.3,412.0 L1710.8,411.9 L1712.3,411.9 L1713.8,411.8 L1715.3,411.7 L1716.8,411.7 L1718.3,411.6 L1719.8,411.6 L1721.3,411.5 L1722.8,411.4 L1724.3,411.4 L1725.7,411.3 L1727.2,411.3 L1728.7,411.2 L1730.2,411.2 L1731.7,411.1 L1733.2,411.1 L1734.7,411.0 L1736.2,411.0 L1737.7,410.9 L1739.1,410.8 L1740.6,410.8 L1742.1,410.7 L1743.6,410.7 L1745.1,410.6 L1746.6,410.6 L1748.1,410.5 L1749.5,410.5 L1751.0,410.5 L1752.5,410.4 L1754.0,410.4 L1755.5,410.3 L1757.0,410.3 L1758.4,410.2 L1759.9,410.2 L1761.4,410.1 L1762.9,410.1 L1764.4,410.0 L1765.8,410.0 L1767.3,410.0 L1768.8,409.9 L1770.3,409.9 L1771.7,409.8 L1773.2,409.8 L1774.7,409.7 L1776.2,409.7 L1777.6,409.7 L1779.1,409.6 L1780.6,409.6 L1782.1,409.5 L1783.5,409.5 L1785.0,409.5 L1786.5,409.4 L1788.0,409.4 L1789.4,409.4 L1790.9,409.3 L1792.4,409.3 L1793.8,409.2 L1795.3,409.2 L1796.8,409.2 L1798.2,409.1 L1799.7,409.1 L1801.2,409.1 L1802.6,409.0 L1804.1,409.0 L1805.6,409.0 L1807.0,408.9 L1808.5,408.9 L1809.9,408.9 L1811.4,408.8 L1812.9,408.8 L1814.3,408.8 L1815.8,408.8 L1817.2,408.7 L1818.7,408.7 L1820.2,408.7 L1821.6,408.6 L1823.1,408.6 L1824.5,408.6 L1826.0,408.6 L1827.4,408.5 L1828.9,408.5 L1830.3,408.5 L1831.8,408.5 L1833.2,408.4 L1834.7,408.4 L1836.1,408.4 L1837.6,408.4 L1839.0,408.3 L1840.5,408.3 L1841.9,408.3 L1843.4,408.3 L1844.8,408.2 L1846.2,408.2 L1847.7,408.2 L1849.1,408.2 L1850.5,408.2 L1851.8,408.2 L1853.0,408.2 L1855.8,408.3" fill="none" stroke="#1478e8" stroke-width="3.2" stroke-linejoin="round" stroke-linecap="round"/>
<rect x="290.5" y="61.5" width="1721.5" height="1402.8" fill="none" stroke="#000" stroke-width="7"/>
<line x1="263" y1="61.6" x2="290.5" y2="61.6" stroke="#000" stroke-width="6.5"/>
<line x1="263" y1="295.4" x2="290.5" y2="295.4" stroke="#000" stroke-width="6.5"/>
<line x1="263" y1="529.2" x2="290.5" y2="529.2" stroke="#000" stroke-width="6.5"/>
<line x1="263" y1="763.0" x2="290.5" y2="763.0" stroke="#000" stroke-width="6.5"/>
<line x1="263" y1="996.8" x2="290.5" y2="996.8" stroke="#000" stroke-width="6.5"/>
<line x1="263" y1="1230.6" x2="290.5" y2="1230.6" stroke="#000" stroke-width="6.5"/>
<line x1="263" y1="1464.4" x2="290.5" y2="1464.4" stroke="#000" stroke-width="6.5"/>
<line x1="277" y1="178.5" x2="290.5" y2="178.5" stroke="#000" stroke-width="6.5"/>
<line x1="277" y1="412.3" x2="290.5" y2="412.3" stroke="#000" stroke-width="6.5"/>
<line x1="277" y1="646.1" x2="290.5" y2="646.1" stroke="#000" stroke-width="6.5"/>
<line x1="277" y1="879.9" x2="290.5" y2="879.9" stroke="#000" stroke-width="6.5"/>
<line x1="277" y1="1113.7" x2="290.5" y2="1113.7" stroke="#000" stroke-width="6.5"/>
<line x1="277" y1="1347.5" x2="290.5" y2="1347.5" stroke="#000" stroke-width="6.5"/>
<line x1="413.2" y1="1464.3" x2="413.2" y2="1495" stroke="#000" stroke-width="6.5"/>
<line x1="659.1" y1="1464.3" x2="659.1" y2="1495" stroke="#000" stroke-width="6.5"/>
<line x1="905.1" y1="1464.3" x2="905.1" y2="1495" stroke="#000" stroke-width="6.5"/>
<line x1="1151.0" y1="1464.3" x2="1151.0" y2="1495" stroke="#000" stroke-width="6.5"/>
<line x1="1396.9" y1="1464.3" x2="1396.9" y2="1495" stroke="#000" stroke-width="6.5"/>
<line x1="1642.9" y1="1464.3" x2="1642.9" y2="1495" stroke="#000" stroke-width="6.5"/>
<line x1="1888.8" y1="1464.3" x2="1888.8" y2="1495" stroke="#000" stroke-width="6.5"/>
<line x1="290.2" y1="1464.3" x2="290.2" y2="1477" stroke="#000" stroke-width="6.5"/>
<line x1="536.2" y1="1464.3" x2="536.2" y2="1477" stroke="#000" stroke-width="6.5"/>
<line x1="782.1" y1="1464.3" x2="782.1" y2="1477" stroke="#000" stroke-width="6.5"/>
<line x1="1028.0" y1="1464.3" x2="1028.0" y2="1477" stroke="#000" stroke-width="6.5"/>
<line x1="1274.0" y1="1464.3" x2="1274.0" y2="1477" stroke="#000" stroke-width="6.5"/>
<line x1="1519.9" y1="1464.3" x2="1519.9" y2="1477" stroke="#000" stroke-width="6.5"/>
<line x1="1765.8" y1="1464.3" x2="1765.8" y2="1477" stroke="#000" stroke-width="6.5"/>
<line x1="2011.8" y1="1464.3" x2="2011.8" y2="1477" stroke="#000" stroke-width="6.5"/>
<line x1="351" y1="232.3" x2="497" y2="232.3" stroke="#555" stroke-width="4"/>
<line x1="351" y1="313.4" x2="494" y2="313.4" stroke="#ff4040" stroke-width="4"/>
<line x1="351" y1="394.5" x2="494" y2="394.5" stroke="#1a78ea" stroke-width="4"/>
<text x="242.0" y="76.5" font-family="Liberation Serif, serif" font-size="64" font-weight="bold" text-anchor="end">3</text>
<text x="242.5" y="311.0" font-family="Liberation Serif, serif" font-size="64" font-weight="bold" text-anchor="end">2</text>
<text x="242.0" y="547.0" font-family="Liberation Serif, serif" font-size="64" font-weight="bold" text-anchor="end">1</text>
<text x="243.0" y="782.0" font-family="Liberation Serif, serif" font-size="64" font-weight="bold" text-anchor="end">0</text>
<text x="254.5" y="1012.0" font-family="Liberation Serif, serif" font-size="69" font-weight="normal" text-anchor="end" stroke="#000" stroke-width="1.8">-1</text>
<text x="256.5" y="1249.0" font-family="Liberation Serif, serif" font-size="70" font-weight="normal" text-anchor="end" stroke="#000" stroke-width="1.8">-2</text>
<text x="250.0" y="1481.0" font-family="Liberation Serif, serif" font-size="66" font-weight="normal" text-anchor="end" stroke="#000" stroke-width="1.8">-3</text>
<text transform="translate(404.2,1544.5) scale(1,0.95)" font-family="Liberation Serif, serif" font-size="56" text-anchor="middle" stroke="#000" stroke-width="1.3">-15,000</text>
<text transform="translate(657.6,1544.5) scale(1,0.95)" font-family="Liberation Serif, serif" font-size="56" text-anchor="middle" stroke="#000" stroke-width="1.3">-10,000</text>
<text transform="translate(905.6,1544.5) scale(1,0.95)" font-family="Liberation Serif, serif" font-size="56" text-anchor="middle" stroke="#000" stroke-width="1.3">-5,000</text>
<text transform="translate(1148.0,1544.5) scale(1,0.95)" font-family="Liberation Serif, serif" font-size="56" text-anchor="middle" stroke="#000" stroke-width="1.3">0</text>
<text transform="translate(1397.9,1544.5) scale(1,0.95)" font-family="Liberation Serif, serif" font-size="56" text-anchor="middle" stroke="#000" stroke-width="1.3">5,000</text>
<text transform="translate(1645.9,1544.5) scale(1,0.95)" font-family="Liberation Serif, serif" font-size="56" text-anchor="middle" stroke="#000" stroke-width="1.3">10,000</text>
<text transform="translate(1895.8,1544.5) scale(1,0.95)" font-family="Liberation Serif, serif" font-size="56" text-anchor="middle" stroke="#000" stroke-width="1.3">15,000</text>
<text x="850" y="1675" font-family="Liberation Serif, serif" font-size="78" font-weight="bold" textLength="602" lengthAdjust="spacingAndGlyphs">Magnetic Filed(Oe)</text>
<text transform="translate(113,1074) rotate(-90)" x="0" y="0" font-family="Liberation Serif, serif" font-size="78" font-weight="bold" textLength="687" lengthAdjust="spacingAndGlyphs">Magnetization(emu/g)</text>
<text x="527" y="248" font-family="Liberation Serif, serif" font-size="78" stroke="#000" stroke-width="1.8" textLength="152" lengthAdjust="spacingAndGlyphs">CoO</text>
<text x="518" y="330" font-family="Liberation Serif, serif" font-size="78" fill="#ff0a0a" stroke="#ff0a0a" stroke-width="1.8" textLength="416" lengthAdjust="spacingAndGlyphs">CoO<tspan font-size="54" dy="-9">@</tspan><tspan dy="9">ZIF-67</tspan></text>
<text x="518" y="412" font-family="Liberation Serif, serif" font-size="78" fill="#3535d0" stroke="#3535d0" stroke-width="1.8" textLength="627" lengthAdjust="spacingAndGlyphs">Ni10<tspan font-size="54" dy="-9">@</tspan><tspan dy="9">CoO</tspan><tspan font-size="54" dy="-9">@</tspan><tspan dy="9">ZIF-67</tspan></text>
<text x="42" y="172" font-family="Liberation Serif, serif" font-size="112" font-weight="bold" textLength="138" lengthAdjust="spacingAndGlyphs">(<tspan dy="6.5">a</tspan><tspan dy="-6.5">)</tspan></text>
</svg></body></html>
